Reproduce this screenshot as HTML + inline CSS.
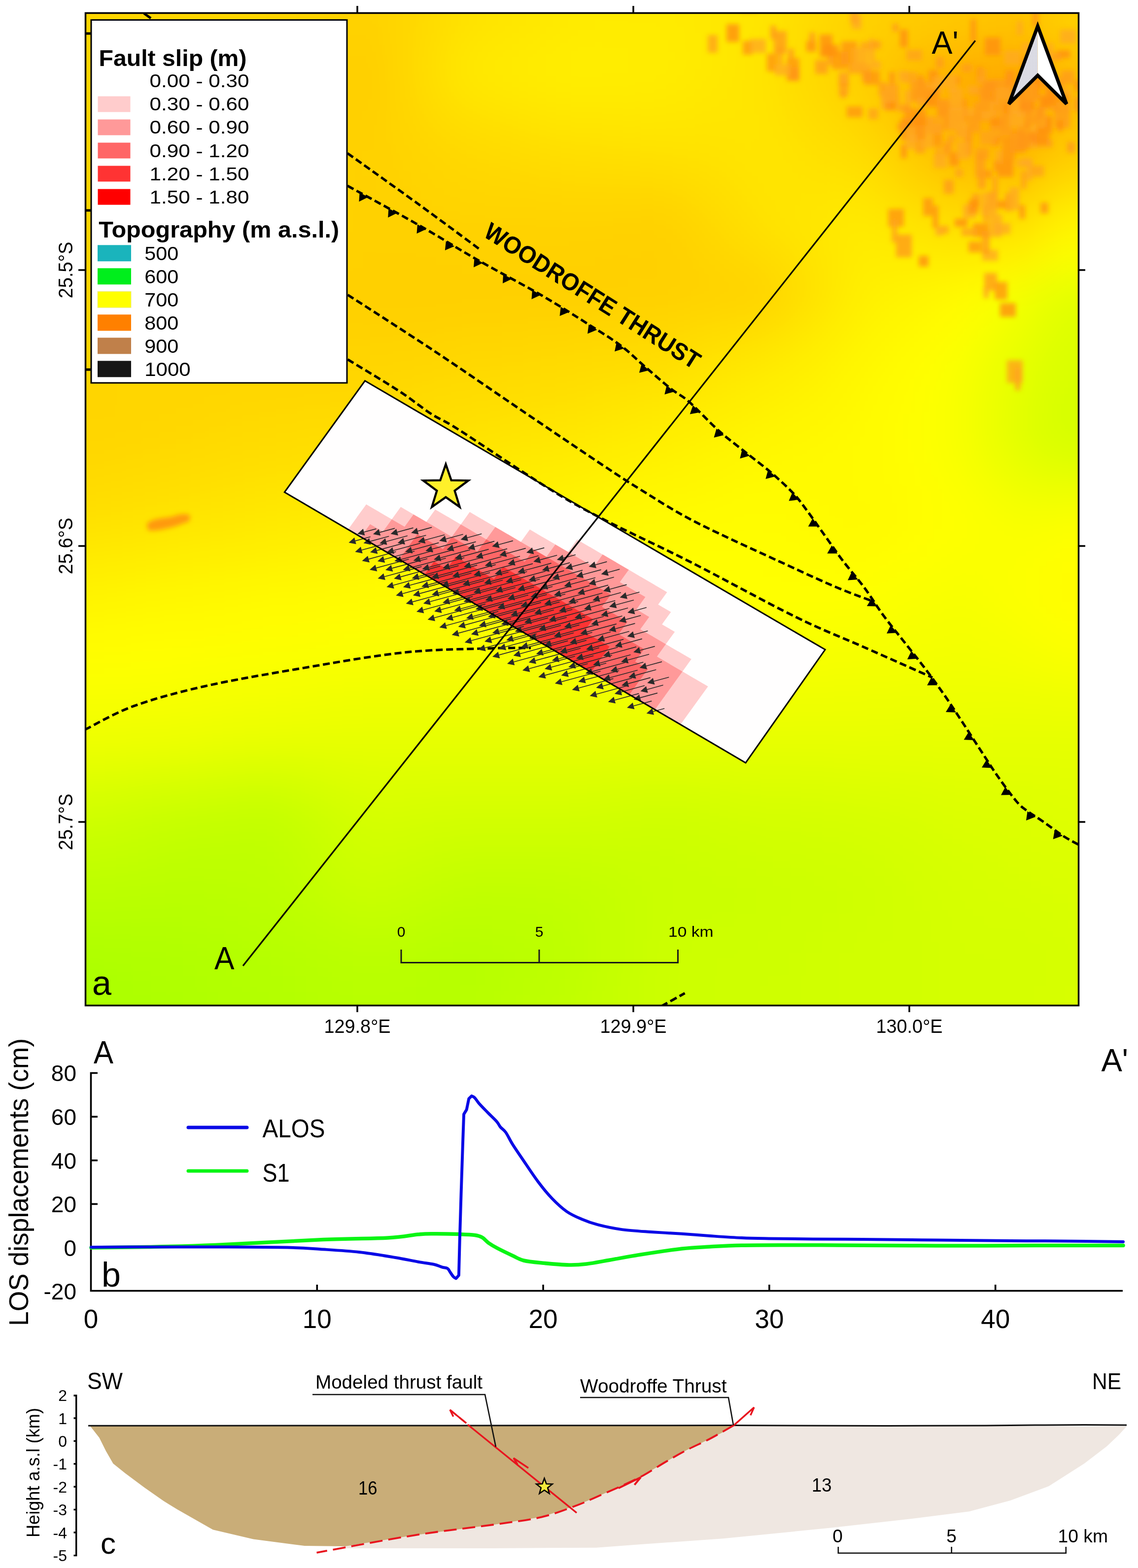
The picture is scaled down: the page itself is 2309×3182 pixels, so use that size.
<!DOCTYPE html>
<html><head><meta charset="utf-8"><title>Fault slip map and profiles</title>
<style>html,body{margin:0;padding:0;background:#fff;} svg{display:block;}</style>
</head><body>
<svg xmlns="http://www.w3.org/2000/svg" width="2309" height="3182" viewBox="0 0 2309 3182" font-family="'Liberation Sans', Arial, sans-serif">
<rect width="2309" height="3182" fill="#fff"/>
<defs>
<clipPath id="mapclip"><rect x="174" y="27" width="2014" height="2013"/></clipPath>
<filter id="topoblur" x="-10%" y="-10%" width="120%" height="120%"><feGaussianBlur stdDeviation="40"/></filter>
<filter id="blotblur" x="-20%" y="-20%" width="140%" height="140%"><feGaussianBlur stdDeviation="5"/></filter>
</defs>
<g clip-path="url(#mapclip)">
<rect x="172" y="25" width="2018" height="2017" fill="#ffec00"/>
<g filter="url(#topoblur)">
<rect x="37" y="-109" width="69" height="69" fill="#ffd600"/>
<rect x="105" y="-109" width="69" height="69" fill="#ffd600"/>
<rect x="172" y="-109" width="69" height="69" fill="#ffd600"/>
<rect x="239" y="-109" width="69" height="69" fill="#ffd600"/>
<rect x="307" y="-109" width="69" height="69" fill="#ffd600"/>
<rect x="374" y="-109" width="69" height="69" fill="#ffd600"/>
<rect x="441" y="-109" width="69" height="69" fill="#ffd600"/>
<rect x="508" y="-109" width="69" height="69" fill="#ffd600"/>
<rect x="576" y="-109" width="69" height="69" fill="#ffd400"/>
<rect x="643" y="-109" width="69" height="69" fill="#ffd300"/>
<rect x="710" y="-109" width="69" height="69" fill="#ffd100"/>
<rect x="777" y="-109" width="69" height="69" fill="#ffd600"/>
<rect x="845" y="-109" width="69" height="69" fill="#ffdc00"/>
<rect x="912" y="-109" width="69" height="69" fill="#ffe200"/>
<rect x="979" y="-109" width="69" height="69" fill="#ffe500"/>
<rect x="1046" y="-109" width="69" height="69" fill="#ffe700"/>
<rect x="1114" y="-109" width="69" height="69" fill="#ffea00"/>
<rect x="1181" y="-109" width="69" height="69" fill="#ffeb00"/>
<rect x="1248" y="-109" width="69" height="69" fill="#ffeb00"/>
<rect x="1316" y="-109" width="69" height="69" fill="#ffeb00"/>
<rect x="1383" y="-109" width="69" height="69" fill="#ffe900"/>
<rect x="1450" y="-109" width="69" height="69" fill="#ffe700"/>
<rect x="1517" y="-109" width="69" height="69" fill="#ffe500"/>
<rect x="1585" y="-109" width="69" height="69" fill="#ffde00"/>
<rect x="1652" y="-109" width="69" height="69" fill="#ffd700"/>
<rect x="1719" y="-109" width="69" height="69" fill="#ffd100"/>
<rect x="1786" y="-109" width="69" height="69" fill="#ffcd00"/>
<rect x="1854" y="-109" width="69" height="69" fill="#ffca00"/>
<rect x="1921" y="-109" width="69" height="69" fill="#ffc700"/>
<rect x="1988" y="-109" width="69" height="69" fill="#ffc400"/>
<rect x="2055" y="-109" width="69" height="69" fill="#ffc200"/>
<rect x="2123" y="-109" width="69" height="69" fill="#ffd000"/>
<rect x="2190" y="-109" width="69" height="69" fill="#ffd000"/>
<rect x="2257" y="-109" width="69" height="69" fill="#ffd000"/>
<rect x="37" y="-42" width="69" height="69" fill="#ffd600"/>
<rect x="105" y="-42" width="69" height="69" fill="#ffd600"/>
<rect x="172" y="-42" width="69" height="69" fill="#ffd600"/>
<rect x="239" y="-42" width="69" height="69" fill="#ffd600"/>
<rect x="307" y="-42" width="69" height="69" fill="#ffd600"/>
<rect x="374" y="-42" width="69" height="69" fill="#ffd600"/>
<rect x="441" y="-42" width="69" height="69" fill="#ffd600"/>
<rect x="508" y="-42" width="69" height="69" fill="#ffd600"/>
<rect x="576" y="-42" width="69" height="69" fill="#ffd400"/>
<rect x="643" y="-42" width="69" height="69" fill="#ffd300"/>
<rect x="710" y="-42" width="69" height="69" fill="#ffd100"/>
<rect x="777" y="-42" width="69" height="69" fill="#ffd600"/>
<rect x="845" y="-42" width="69" height="69" fill="#ffdc00"/>
<rect x="912" y="-42" width="69" height="69" fill="#ffe200"/>
<rect x="979" y="-42" width="69" height="69" fill="#ffe500"/>
<rect x="1046" y="-42" width="69" height="69" fill="#ffe700"/>
<rect x="1114" y="-42" width="69" height="69" fill="#ffea00"/>
<rect x="1181" y="-42" width="69" height="69" fill="#ffeb00"/>
<rect x="1248" y="-42" width="69" height="69" fill="#ffeb00"/>
<rect x="1316" y="-42" width="69" height="69" fill="#ffeb00"/>
<rect x="1383" y="-42" width="69" height="69" fill="#ffe900"/>
<rect x="1450" y="-42" width="69" height="69" fill="#ffe700"/>
<rect x="1517" y="-42" width="69" height="69" fill="#ffe500"/>
<rect x="1585" y="-42" width="69" height="69" fill="#ffde00"/>
<rect x="1652" y="-42" width="69" height="69" fill="#ffd700"/>
<rect x="1719" y="-42" width="69" height="69" fill="#ffd100"/>
<rect x="1786" y="-42" width="69" height="69" fill="#ffcd00"/>
<rect x="1854" y="-42" width="69" height="69" fill="#ffca00"/>
<rect x="1921" y="-42" width="69" height="69" fill="#ffc700"/>
<rect x="1988" y="-42" width="69" height="69" fill="#ffc400"/>
<rect x="2055" y="-42" width="69" height="69" fill="#ffc200"/>
<rect x="2123" y="-42" width="69" height="69" fill="#ffd000"/>
<rect x="2190" y="-42" width="69" height="69" fill="#ffd000"/>
<rect x="2257" y="-42" width="69" height="69" fill="#ffd000"/>
<rect x="37" y="25" width="69" height="69" fill="#ffd600"/>
<rect x="105" y="25" width="69" height="69" fill="#ffd600"/>
<rect x="172" y="25" width="69" height="69" fill="#ffd600"/>
<rect x="239" y="25" width="69" height="69" fill="#ffd600"/>
<rect x="307" y="25" width="69" height="69" fill="#ffd600"/>
<rect x="374" y="25" width="69" height="69" fill="#ffd600"/>
<rect x="441" y="25" width="69" height="69" fill="#ffd600"/>
<rect x="508" y="25" width="69" height="69" fill="#ffd600"/>
<rect x="576" y="25" width="69" height="69" fill="#ffd400"/>
<rect x="643" y="25" width="69" height="69" fill="#ffd300"/>
<rect x="710" y="25" width="69" height="69" fill="#ffd100"/>
<rect x="777" y="25" width="69" height="69" fill="#ffd600"/>
<rect x="845" y="25" width="69" height="69" fill="#ffdc00"/>
<rect x="912" y="25" width="69" height="69" fill="#ffe200"/>
<rect x="979" y="25" width="69" height="69" fill="#ffe500"/>
<rect x="1046" y="25" width="69" height="69" fill="#ffe700"/>
<rect x="1114" y="25" width="69" height="69" fill="#ffea00"/>
<rect x="1181" y="25" width="69" height="69" fill="#ffeb00"/>
<rect x="1248" y="25" width="69" height="69" fill="#ffeb00"/>
<rect x="1316" y="25" width="69" height="69" fill="#ffeb00"/>
<rect x="1383" y="25" width="69" height="69" fill="#ffe900"/>
<rect x="1450" y="25" width="69" height="69" fill="#ffe700"/>
<rect x="1517" y="25" width="69" height="69" fill="#ffe500"/>
<rect x="1585" y="25" width="69" height="69" fill="#ffde00"/>
<rect x="1652" y="25" width="69" height="69" fill="#ffd700"/>
<rect x="1719" y="25" width="69" height="69" fill="#ffd100"/>
<rect x="1786" y="25" width="69" height="69" fill="#ffcd00"/>
<rect x="1854" y="25" width="69" height="69" fill="#ffca00"/>
<rect x="1921" y="25" width="69" height="69" fill="#ffc700"/>
<rect x="1988" y="25" width="69" height="69" fill="#ffc400"/>
<rect x="2055" y="25" width="69" height="69" fill="#ffc200"/>
<rect x="2123" y="25" width="69" height="69" fill="#ffd000"/>
<rect x="2190" y="25" width="69" height="69" fill="#ffd000"/>
<rect x="2257" y="25" width="69" height="69" fill="#ffd000"/>
<rect x="37" y="92" width="69" height="69" fill="#ffd600"/>
<rect x="105" y="92" width="69" height="69" fill="#ffd600"/>
<rect x="172" y="92" width="69" height="69" fill="#ffd600"/>
<rect x="239" y="92" width="69" height="69" fill="#ffd600"/>
<rect x="307" y="92" width="69" height="69" fill="#ffd600"/>
<rect x="374" y="92" width="69" height="69" fill="#ffd600"/>
<rect x="441" y="92" width="69" height="69" fill="#ffd600"/>
<rect x="508" y="92" width="69" height="69" fill="#ffd500"/>
<rect x="576" y="92" width="69" height="69" fill="#ffd300"/>
<rect x="643" y="92" width="69" height="69" fill="#ffd000"/>
<rect x="710" y="92" width="69" height="69" fill="#ffce00"/>
<rect x="777" y="92" width="69" height="69" fill="#ffd600"/>
<rect x="845" y="92" width="69" height="69" fill="#ffdf00"/>
<rect x="912" y="92" width="69" height="69" fill="#ffe800"/>
<rect x="979" y="92" width="69" height="69" fill="#ffea00"/>
<rect x="1046" y="92" width="69" height="69" fill="#ffec00"/>
<rect x="1114" y="92" width="69" height="69" fill="#ffee00"/>
<rect x="1181" y="92" width="69" height="69" fill="#ffee00"/>
<rect x="1248" y="92" width="69" height="69" fill="#ffed00"/>
<rect x="1316" y="92" width="69" height="69" fill="#ffed00"/>
<rect x="1383" y="92" width="69" height="69" fill="#ffea00"/>
<rect x="1450" y="92" width="69" height="69" fill="#ffe700"/>
<rect x="1517" y="92" width="69" height="69" fill="#ffe300"/>
<rect x="1585" y="92" width="69" height="69" fill="#ffdc00"/>
<rect x="1652" y="92" width="69" height="69" fill="#ffd500"/>
<rect x="1719" y="92" width="69" height="69" fill="#ffcd00"/>
<rect x="1786" y="92" width="69" height="69" fill="#ffc300"/>
<rect x="1854" y="92" width="69" height="69" fill="#ffba00"/>
<rect x="1921" y="92" width="69" height="69" fill="#ffb100"/>
<rect x="1988" y="92" width="69" height="69" fill="#ffae00"/>
<rect x="2055" y="92" width="69" height="69" fill="#ffac00"/>
<rect x="2123" y="92" width="69" height="69" fill="#ffbf00"/>
<rect x="2190" y="92" width="69" height="69" fill="#ffbf00"/>
<rect x="2257" y="92" width="69" height="69" fill="#ffbf00"/>
<rect x="37" y="159" width="69" height="69" fill="#ffd600"/>
<rect x="105" y="159" width="69" height="69" fill="#ffd600"/>
<rect x="172" y="159" width="69" height="69" fill="#ffd600"/>
<rect x="239" y="159" width="69" height="69" fill="#ffd600"/>
<rect x="307" y="159" width="69" height="69" fill="#ffd600"/>
<rect x="374" y="159" width="69" height="69" fill="#ffd600"/>
<rect x="441" y="159" width="69" height="69" fill="#ffd500"/>
<rect x="508" y="159" width="69" height="69" fill="#ffd500"/>
<rect x="576" y="159" width="69" height="69" fill="#ffd300"/>
<rect x="643" y="159" width="69" height="69" fill="#ffd000"/>
<rect x="710" y="159" width="69" height="69" fill="#ffce00"/>
<rect x="777" y="159" width="69" height="69" fill="#ffd500"/>
<rect x="845" y="159" width="69" height="69" fill="#ffdd00"/>
<rect x="912" y="159" width="69" height="69" fill="#ffe500"/>
<rect x="979" y="159" width="69" height="69" fill="#ffe700"/>
<rect x="1046" y="159" width="69" height="69" fill="#ffe900"/>
<rect x="1114" y="159" width="69" height="69" fill="#ffeb00"/>
<rect x="1181" y="159" width="69" height="69" fill="#ffeb00"/>
<rect x="1248" y="159" width="69" height="69" fill="#ffeb00"/>
<rect x="1316" y="159" width="69" height="69" fill="#ffea00"/>
<rect x="1383" y="159" width="69" height="69" fill="#ffe800"/>
<rect x="1450" y="159" width="69" height="69" fill="#ffe600"/>
<rect x="1517" y="159" width="69" height="69" fill="#ffe400"/>
<rect x="1585" y="159" width="69" height="69" fill="#ffdd00"/>
<rect x="1652" y="159" width="69" height="69" fill="#ffd700"/>
<rect x="1719" y="159" width="69" height="69" fill="#ffd000"/>
<rect x="1786" y="159" width="69" height="69" fill="#ffc400"/>
<rect x="1854" y="159" width="69" height="69" fill="#ffb800"/>
<rect x="1921" y="159" width="69" height="69" fill="#ffac00"/>
<rect x="1988" y="159" width="69" height="69" fill="#ffaa00"/>
<rect x="2055" y="159" width="69" height="69" fill="#ffa800"/>
<rect x="2123" y="159" width="69" height="69" fill="#ffbd00"/>
<rect x="2190" y="159" width="69" height="69" fill="#ffbd00"/>
<rect x="2257" y="159" width="69" height="69" fill="#ffbd00"/>
<rect x="37" y="227" width="69" height="69" fill="#ffd500"/>
<rect x="105" y="227" width="69" height="69" fill="#ffd500"/>
<rect x="172" y="227" width="69" height="69" fill="#ffd500"/>
<rect x="239" y="227" width="69" height="69" fill="#ffd500"/>
<rect x="307" y="227" width="69" height="69" fill="#ffd500"/>
<rect x="374" y="227" width="69" height="69" fill="#ffd500"/>
<rect x="441" y="227" width="69" height="69" fill="#ffd500"/>
<rect x="508" y="227" width="69" height="69" fill="#ffd400"/>
<rect x="576" y="227" width="69" height="69" fill="#ffd300"/>
<rect x="643" y="227" width="69" height="69" fill="#ffd100"/>
<rect x="710" y="227" width="69" height="69" fill="#ffd000"/>
<rect x="777" y="227" width="69" height="69" fill="#ffd400"/>
<rect x="845" y="227" width="69" height="69" fill="#ffd900"/>
<rect x="912" y="227" width="69" height="69" fill="#ffdd00"/>
<rect x="979" y="227" width="69" height="69" fill="#ffdf00"/>
<rect x="1046" y="227" width="69" height="69" fill="#ffe200"/>
<rect x="1114" y="227" width="69" height="69" fill="#ffe400"/>
<rect x="1181" y="227" width="69" height="69" fill="#ffe400"/>
<rect x="1248" y="227" width="69" height="69" fill="#ffe500"/>
<rect x="1316" y="227" width="69" height="69" fill="#ffe600"/>
<rect x="1383" y="227" width="69" height="69" fill="#ffe500"/>
<rect x="1450" y="227" width="69" height="69" fill="#ffe500"/>
<rect x="1517" y="227" width="69" height="69" fill="#ffe500"/>
<rect x="1585" y="227" width="69" height="69" fill="#ffe000"/>
<rect x="1652" y="227" width="69" height="69" fill="#ffdc00"/>
<rect x="1719" y="227" width="69" height="69" fill="#ffd700"/>
<rect x="1786" y="227" width="69" height="69" fill="#ffca00"/>
<rect x="1854" y="227" width="69" height="69" fill="#ffbe00"/>
<rect x="1921" y="227" width="69" height="69" fill="#ffb200"/>
<rect x="1988" y="227" width="69" height="69" fill="#ffb000"/>
<rect x="2055" y="227" width="69" height="69" fill="#ffaf00"/>
<rect x="2123" y="227" width="69" height="69" fill="#ffc300"/>
<rect x="2190" y="227" width="69" height="69" fill="#ffc300"/>
<rect x="2257" y="227" width="69" height="69" fill="#ffc300"/>
<rect x="37" y="294" width="69" height="69" fill="#ffd500"/>
<rect x="105" y="294" width="69" height="69" fill="#ffd500"/>
<rect x="172" y="294" width="69" height="69" fill="#ffd500"/>
<rect x="239" y="294" width="69" height="69" fill="#ffd500"/>
<rect x="307" y="294" width="69" height="69" fill="#ffd500"/>
<rect x="374" y="294" width="69" height="69" fill="#ffd500"/>
<rect x="441" y="294" width="69" height="69" fill="#ffd400"/>
<rect x="508" y="294" width="69" height="69" fill="#ffd400"/>
<rect x="576" y="294" width="69" height="69" fill="#ffd300"/>
<rect x="643" y="294" width="69" height="69" fill="#ffd200"/>
<rect x="710" y="294" width="69" height="69" fill="#ffd100"/>
<rect x="777" y="294" width="69" height="69" fill="#ffd300"/>
<rect x="845" y="294" width="69" height="69" fill="#ffd500"/>
<rect x="912" y="294" width="69" height="69" fill="#ffd800"/>
<rect x="979" y="294" width="69" height="69" fill="#ffd900"/>
<rect x="1046" y="294" width="69" height="69" fill="#ffdb00"/>
<rect x="1114" y="294" width="69" height="69" fill="#ffdd00"/>
<rect x="1181" y="294" width="69" height="69" fill="#ffde00"/>
<rect x="1248" y="294" width="69" height="69" fill="#ffdf00"/>
<rect x="1316" y="294" width="69" height="69" fill="#ffe000"/>
<rect x="1383" y="294" width="69" height="69" fill="#ffe100"/>
<rect x="1450" y="294" width="69" height="69" fill="#ffe300"/>
<rect x="1517" y="294" width="69" height="69" fill="#ffe500"/>
<rect x="1585" y="294" width="69" height="69" fill="#ffe300"/>
<rect x="1652" y="294" width="69" height="69" fill="#ffe000"/>
<rect x="1719" y="294" width="69" height="69" fill="#ffde00"/>
<rect x="1786" y="294" width="69" height="69" fill="#ffd200"/>
<rect x="1854" y="294" width="69" height="69" fill="#ffc700"/>
<rect x="1921" y="294" width="69" height="69" fill="#ffbc00"/>
<rect x="1988" y="294" width="69" height="69" fill="#ffbc00"/>
<rect x="2055" y="294" width="69" height="69" fill="#ffbb00"/>
<rect x="2123" y="294" width="69" height="69" fill="#ffcf00"/>
<rect x="2190" y="294" width="69" height="69" fill="#ffcf00"/>
<rect x="2257" y="294" width="69" height="69" fill="#ffcf00"/>
<rect x="37" y="361" width="69" height="69" fill="#ffd500"/>
<rect x="105" y="361" width="69" height="69" fill="#ffd500"/>
<rect x="172" y="361" width="69" height="69" fill="#ffd500"/>
<rect x="239" y="361" width="69" height="69" fill="#ffd500"/>
<rect x="307" y="361" width="69" height="69" fill="#ffd500"/>
<rect x="374" y="361" width="69" height="69" fill="#ffd500"/>
<rect x="441" y="361" width="69" height="69" fill="#ffd400"/>
<rect x="508" y="361" width="69" height="69" fill="#ffd400"/>
<rect x="576" y="361" width="69" height="69" fill="#ffd300"/>
<rect x="643" y="361" width="69" height="69" fill="#ffd200"/>
<rect x="710" y="361" width="69" height="69" fill="#ffd100"/>
<rect x="777" y="361" width="69" height="69" fill="#ffd200"/>
<rect x="845" y="361" width="69" height="69" fill="#ffd400"/>
<rect x="912" y="361" width="69" height="69" fill="#ffd500"/>
<rect x="979" y="361" width="69" height="69" fill="#ffd600"/>
<rect x="1046" y="361" width="69" height="69" fill="#ffd600"/>
<rect x="1114" y="361" width="69" height="69" fill="#ffd700"/>
<rect x="1181" y="361" width="69" height="69" fill="#ffd700"/>
<rect x="1248" y="361" width="69" height="69" fill="#ffd700"/>
<rect x="1316" y="361" width="69" height="69" fill="#ffd700"/>
<rect x="1383" y="361" width="69" height="69" fill="#ffdb00"/>
<rect x="1450" y="361" width="69" height="69" fill="#ffe000"/>
<rect x="1517" y="361" width="69" height="69" fill="#ffe400"/>
<rect x="1585" y="361" width="69" height="69" fill="#ffe400"/>
<rect x="1652" y="361" width="69" height="69" fill="#ffe500"/>
<rect x="1719" y="361" width="69" height="69" fill="#ffe500"/>
<rect x="1786" y="361" width="69" height="69" fill="#ffdd00"/>
<rect x="1854" y="361" width="69" height="69" fill="#ffd500"/>
<rect x="1921" y="361" width="69" height="69" fill="#ffcd00"/>
<rect x="1988" y="361" width="69" height="69" fill="#ffce00"/>
<rect x="2055" y="361" width="69" height="69" fill="#ffcf00"/>
<rect x="2123" y="361" width="69" height="69" fill="#ffe300"/>
<rect x="2190" y="361" width="69" height="69" fill="#ffe300"/>
<rect x="2257" y="361" width="69" height="69" fill="#ffe300"/>
<rect x="37" y="428" width="69" height="69" fill="#ffd500"/>
<rect x="105" y="428" width="69" height="69" fill="#ffd500"/>
<rect x="172" y="428" width="69" height="69" fill="#ffd500"/>
<rect x="239" y="428" width="69" height="69" fill="#ffd500"/>
<rect x="307" y="428" width="69" height="69" fill="#ffd500"/>
<rect x="374" y="428" width="69" height="69" fill="#ffd500"/>
<rect x="441" y="428" width="69" height="69" fill="#ffd400"/>
<rect x="508" y="428" width="69" height="69" fill="#ffd400"/>
<rect x="576" y="428" width="69" height="69" fill="#ffd300"/>
<rect x="643" y="428" width="69" height="69" fill="#ffd200"/>
<rect x="710" y="428" width="69" height="69" fill="#ffd100"/>
<rect x="777" y="428" width="69" height="69" fill="#ffd100"/>
<rect x="845" y="428" width="69" height="69" fill="#ffd200"/>
<rect x="912" y="428" width="69" height="69" fill="#ffd200"/>
<rect x="979" y="428" width="69" height="69" fill="#ffd200"/>
<rect x="1046" y="428" width="69" height="69" fill="#ffd200"/>
<rect x="1114" y="428" width="69" height="69" fill="#ffd200"/>
<rect x="1181" y="428" width="69" height="69" fill="#ffd200"/>
<rect x="1248" y="428" width="69" height="69" fill="#ffd100"/>
<rect x="1316" y="428" width="69" height="69" fill="#ffd000"/>
<rect x="1383" y="428" width="69" height="69" fill="#ffd600"/>
<rect x="1450" y="428" width="69" height="69" fill="#ffdc00"/>
<rect x="1517" y="428" width="69" height="69" fill="#ffe200"/>
<rect x="1585" y="428" width="69" height="69" fill="#ffe500"/>
<rect x="1652" y="428" width="69" height="69" fill="#ffe800"/>
<rect x="1719" y="428" width="69" height="69" fill="#ffeb00"/>
<rect x="1786" y="428" width="69" height="69" fill="#ffe600"/>
<rect x="1854" y="428" width="69" height="69" fill="#ffe200"/>
<rect x="1921" y="428" width="69" height="69" fill="#ffde00"/>
<rect x="1988" y="428" width="69" height="69" fill="#ffe000"/>
<rect x="2055" y="428" width="69" height="69" fill="#ffe200"/>
<rect x="2123" y="428" width="69" height="69" fill="#fff500"/>
<rect x="2190" y="428" width="69" height="69" fill="#fff500"/>
<rect x="2257" y="428" width="69" height="69" fill="#fff500"/>
<rect x="37" y="496" width="69" height="69" fill="#ffd500"/>
<rect x="105" y="496" width="69" height="69" fill="#ffd500"/>
<rect x="172" y="496" width="69" height="69" fill="#ffd500"/>
<rect x="239" y="496" width="69" height="69" fill="#ffd500"/>
<rect x="307" y="496" width="69" height="69" fill="#ffd500"/>
<rect x="374" y="496" width="69" height="69" fill="#ffd500"/>
<rect x="441" y="496" width="69" height="69" fill="#ffd400"/>
<rect x="508" y="496" width="69" height="69" fill="#ffd300"/>
<rect x="576" y="496" width="69" height="69" fill="#ffd200"/>
<rect x="643" y="496" width="69" height="69" fill="#ffd100"/>
<rect x="710" y="496" width="69" height="69" fill="#ffd000"/>
<rect x="777" y="496" width="69" height="69" fill="#ffd000"/>
<rect x="845" y="496" width="69" height="69" fill="#ffd000"/>
<rect x="912" y="496" width="69" height="69" fill="#ffd100"/>
<rect x="979" y="496" width="69" height="69" fill="#ffd100"/>
<rect x="1046" y="496" width="69" height="69" fill="#ffd100"/>
<rect x="1114" y="496" width="69" height="69" fill="#ffd100"/>
<rect x="1181" y="496" width="69" height="69" fill="#ffd000"/>
<rect x="1248" y="496" width="69" height="69" fill="#ffd000"/>
<rect x="1316" y="496" width="69" height="69" fill="#ffd000"/>
<rect x="1383" y="496" width="69" height="69" fill="#ffd300"/>
<rect x="1450" y="496" width="69" height="69" fill="#ffd700"/>
<rect x="1517" y="496" width="69" height="69" fill="#ffda00"/>
<rect x="1585" y="496" width="69" height="69" fill="#ffe100"/>
<rect x="1652" y="496" width="69" height="69" fill="#ffe700"/>
<rect x="1719" y="496" width="69" height="69" fill="#ffed00"/>
<rect x="1786" y="496" width="69" height="69" fill="#ffed00"/>
<rect x="1854" y="496" width="69" height="69" fill="#ffec00"/>
<rect x="1921" y="496" width="69" height="69" fill="#ffec00"/>
<rect x="1988" y="496" width="69" height="69" fill="#fff000"/>
<rect x="2055" y="496" width="69" height="69" fill="#fff400"/>
<rect x="2123" y="496" width="69" height="69" fill="#fbff00"/>
<rect x="2190" y="496" width="69" height="69" fill="#fbff00"/>
<rect x="2257" y="496" width="69" height="69" fill="#fbff00"/>
<rect x="37" y="563" width="69" height="69" fill="#ffd500"/>
<rect x="105" y="563" width="69" height="69" fill="#ffd500"/>
<rect x="172" y="563" width="69" height="69" fill="#ffd500"/>
<rect x="239" y="563" width="69" height="69" fill="#ffd500"/>
<rect x="307" y="563" width="69" height="69" fill="#ffd500"/>
<rect x="374" y="563" width="69" height="69" fill="#ffd400"/>
<rect x="441" y="563" width="69" height="69" fill="#ffd400"/>
<rect x="508" y="563" width="69" height="69" fill="#ffd300"/>
<rect x="576" y="563" width="69" height="69" fill="#ffd100"/>
<rect x="643" y="563" width="69" height="69" fill="#ffd000"/>
<rect x="710" y="563" width="69" height="69" fill="#ffcf00"/>
<rect x="777" y="563" width="69" height="69" fill="#ffcf00"/>
<rect x="845" y="563" width="69" height="69" fill="#ffcf00"/>
<rect x="912" y="563" width="69" height="69" fill="#ffcf00"/>
<rect x="979" y="563" width="69" height="69" fill="#ffcf00"/>
<rect x="1046" y="563" width="69" height="69" fill="#ffcf00"/>
<rect x="1114" y="563" width="69" height="69" fill="#ffcf00"/>
<rect x="1181" y="563" width="69" height="69" fill="#ffcf00"/>
<rect x="1248" y="563" width="69" height="69" fill="#ffd000"/>
<rect x="1316" y="563" width="69" height="69" fill="#ffd000"/>
<rect x="1383" y="563" width="69" height="69" fill="#ffd100"/>
<rect x="1450" y="563" width="69" height="69" fill="#ffd200"/>
<rect x="1517" y="563" width="69" height="69" fill="#ffd300"/>
<rect x="1585" y="563" width="69" height="69" fill="#ffdd00"/>
<rect x="1652" y="563" width="69" height="69" fill="#ffe600"/>
<rect x="1719" y="563" width="69" height="69" fill="#fff000"/>
<rect x="1786" y="563" width="69" height="69" fill="#fff300"/>
<rect x="1854" y="563" width="69" height="69" fill="#fff600"/>
<rect x="1921" y="563" width="69" height="69" fill="#fffa00"/>
<rect x="1988" y="563" width="69" height="69" fill="#fdff00"/>
<rect x="2055" y="563" width="69" height="69" fill="#f1ff00"/>
<rect x="2123" y="563" width="69" height="69" fill="#e3ff00"/>
<rect x="2190" y="563" width="69" height="69" fill="#e3ff00"/>
<rect x="2257" y="563" width="69" height="69" fill="#e3ff00"/>
<rect x="37" y="630" width="69" height="69" fill="#ffd500"/>
<rect x="105" y="630" width="69" height="69" fill="#ffd500"/>
<rect x="172" y="630" width="69" height="69" fill="#ffd500"/>
<rect x="239" y="630" width="69" height="69" fill="#ffd500"/>
<rect x="307" y="630" width="69" height="69" fill="#ffd500"/>
<rect x="374" y="630" width="69" height="69" fill="#ffd500"/>
<rect x="441" y="630" width="69" height="69" fill="#ffd400"/>
<rect x="508" y="630" width="69" height="69" fill="#ffd400"/>
<rect x="576" y="630" width="69" height="69" fill="#ffd300"/>
<rect x="643" y="630" width="69" height="69" fill="#ffd200"/>
<rect x="710" y="630" width="69" height="69" fill="#ffd200"/>
<rect x="777" y="630" width="69" height="69" fill="#ffd200"/>
<rect x="845" y="630" width="69" height="69" fill="#ffd200"/>
<rect x="912" y="630" width="69" height="69" fill="#ffd300"/>
<rect x="979" y="630" width="69" height="69" fill="#ffd300"/>
<rect x="1046" y="630" width="69" height="69" fill="#ffd400"/>
<rect x="1114" y="630" width="69" height="69" fill="#ffd400"/>
<rect x="1181" y="630" width="69" height="69" fill="#ffd500"/>
<rect x="1248" y="630" width="69" height="69" fill="#ffd600"/>
<rect x="1316" y="630" width="69" height="69" fill="#ffd600"/>
<rect x="1383" y="630" width="69" height="69" fill="#ffd900"/>
<rect x="1450" y="630" width="69" height="69" fill="#ffdb00"/>
<rect x="1517" y="630" width="69" height="69" fill="#ffdd00"/>
<rect x="1585" y="630" width="69" height="69" fill="#ffe400"/>
<rect x="1652" y="630" width="69" height="69" fill="#ffec00"/>
<rect x="1719" y="630" width="69" height="69" fill="#fff300"/>
<rect x="1786" y="630" width="69" height="69" fill="#fff700"/>
<rect x="1854" y="630" width="69" height="69" fill="#fffa00"/>
<rect x="1921" y="630" width="69" height="69" fill="#fffe00"/>
<rect x="1988" y="630" width="69" height="69" fill="#f5ff00"/>
<rect x="2055" y="630" width="69" height="69" fill="#eaff00"/>
<rect x="2123" y="630" width="69" height="69" fill="#deff00"/>
<rect x="2190" y="630" width="69" height="69" fill="#deff00"/>
<rect x="2257" y="630" width="69" height="69" fill="#deff00"/>
<rect x="37" y="697" width="69" height="69" fill="#ffd500"/>
<rect x="105" y="697" width="69" height="69" fill="#ffd500"/>
<rect x="172" y="697" width="69" height="69" fill="#ffd500"/>
<rect x="239" y="697" width="69" height="69" fill="#ffd500"/>
<rect x="307" y="697" width="69" height="69" fill="#ffd500"/>
<rect x="374" y="697" width="69" height="69" fill="#ffd500"/>
<rect x="441" y="697" width="69" height="69" fill="#ffd500"/>
<rect x="508" y="697" width="69" height="69" fill="#ffd500"/>
<rect x="576" y="697" width="69" height="69" fill="#ffd500"/>
<rect x="643" y="697" width="69" height="69" fill="#ffd400"/>
<rect x="710" y="697" width="69" height="69" fill="#ffd400"/>
<rect x="777" y="697" width="69" height="69" fill="#ffd500"/>
<rect x="845" y="697" width="69" height="69" fill="#ffd600"/>
<rect x="912" y="697" width="69" height="69" fill="#ffd800"/>
<rect x="979" y="697" width="69" height="69" fill="#ffd800"/>
<rect x="1046" y="697" width="69" height="69" fill="#ffd900"/>
<rect x="1114" y="697" width="69" height="69" fill="#ffda00"/>
<rect x="1181" y="697" width="69" height="69" fill="#ffdb00"/>
<rect x="1248" y="697" width="69" height="69" fill="#ffdc00"/>
<rect x="1316" y="697" width="69" height="69" fill="#ffdd00"/>
<rect x="1383" y="697" width="69" height="69" fill="#ffe100"/>
<rect x="1450" y="697" width="69" height="69" fill="#ffe400"/>
<rect x="1517" y="697" width="69" height="69" fill="#ffe800"/>
<rect x="1585" y="697" width="69" height="69" fill="#ffed00"/>
<rect x="1652" y="697" width="69" height="69" fill="#fff200"/>
<rect x="1719" y="697" width="69" height="69" fill="#fff700"/>
<rect x="1786" y="697" width="69" height="69" fill="#fffa00"/>
<rect x="1854" y="697" width="69" height="69" fill="#fffe00"/>
<rect x="1921" y="697" width="69" height="69" fill="#f9ff00"/>
<rect x="1988" y="697" width="69" height="69" fill="#eeff00"/>
<rect x="2055" y="697" width="69" height="69" fill="#e4ff00"/>
<rect x="2123" y="697" width="69" height="69" fill="#daff00"/>
<rect x="2190" y="697" width="69" height="69" fill="#daff00"/>
<rect x="2257" y="697" width="69" height="69" fill="#daff00"/>
<rect x="37" y="765" width="69" height="69" fill="#ffd500"/>
<rect x="105" y="765" width="69" height="69" fill="#ffd500"/>
<rect x="172" y="765" width="69" height="69" fill="#ffd500"/>
<rect x="239" y="765" width="69" height="69" fill="#ffd600"/>
<rect x="307" y="765" width="69" height="69" fill="#ffd600"/>
<rect x="374" y="765" width="69" height="69" fill="#ffd600"/>
<rect x="441" y="765" width="69" height="69" fill="#ffd700"/>
<rect x="508" y="765" width="69" height="69" fill="#ffd700"/>
<rect x="576" y="765" width="69" height="69" fill="#ffd700"/>
<rect x="643" y="765" width="69" height="69" fill="#ffd800"/>
<rect x="710" y="765" width="69" height="69" fill="#ffd800"/>
<rect x="777" y="765" width="69" height="69" fill="#ffd900"/>
<rect x="845" y="765" width="69" height="69" fill="#ffdb00"/>
<rect x="912" y="765" width="69" height="69" fill="#ffdc00"/>
<rect x="979" y="765" width="69" height="69" fill="#ffdd00"/>
<rect x="1046" y="765" width="69" height="69" fill="#ffde00"/>
<rect x="1114" y="765" width="69" height="69" fill="#ffdf00"/>
<rect x="1181" y="765" width="69" height="69" fill="#ffe100"/>
<rect x="1248" y="765" width="69" height="69" fill="#ffe300"/>
<rect x="1316" y="765" width="69" height="69" fill="#ffe500"/>
<rect x="1383" y="765" width="69" height="69" fill="#ffe800"/>
<rect x="1450" y="765" width="69" height="69" fill="#ffeb00"/>
<rect x="1517" y="765" width="69" height="69" fill="#ffef00"/>
<rect x="1585" y="765" width="69" height="69" fill="#fff200"/>
<rect x="1652" y="765" width="69" height="69" fill="#fff500"/>
<rect x="1719" y="765" width="69" height="69" fill="#fff900"/>
<rect x="1786" y="765" width="69" height="69" fill="#fffc00"/>
<rect x="1854" y="765" width="69" height="69" fill="#feff00"/>
<rect x="1921" y="765" width="69" height="69" fill="#f7ff00"/>
<rect x="1988" y="765" width="69" height="69" fill="#ecff00"/>
<rect x="2055" y="765" width="69" height="69" fill="#e1ff00"/>
<rect x="2123" y="765" width="69" height="69" fill="#d7ff00"/>
<rect x="2190" y="765" width="69" height="69" fill="#d7ff00"/>
<rect x="2257" y="765" width="69" height="69" fill="#d7ff00"/>
<rect x="37" y="832" width="69" height="69" fill="#ffd500"/>
<rect x="105" y="832" width="69" height="69" fill="#ffd500"/>
<rect x="172" y="832" width="69" height="69" fill="#ffd500"/>
<rect x="239" y="832" width="69" height="69" fill="#ffd600"/>
<rect x="307" y="832" width="69" height="69" fill="#ffd700"/>
<rect x="374" y="832" width="69" height="69" fill="#ffd800"/>
<rect x="441" y="832" width="69" height="69" fill="#ffd900"/>
<rect x="508" y="832" width="69" height="69" fill="#ffda00"/>
<rect x="576" y="832" width="69" height="69" fill="#ffdb00"/>
<rect x="643" y="832" width="69" height="69" fill="#ffdb00"/>
<rect x="710" y="832" width="69" height="69" fill="#ffdc00"/>
<rect x="777" y="832" width="69" height="69" fill="#ffdd00"/>
<rect x="845" y="832" width="69" height="69" fill="#ffdf00"/>
<rect x="912" y="832" width="69" height="69" fill="#ffe100"/>
<rect x="979" y="832" width="69" height="69" fill="#ffe200"/>
<rect x="1046" y="832" width="69" height="69" fill="#ffe400"/>
<rect x="1114" y="832" width="69" height="69" fill="#ffe500"/>
<rect x="1181" y="832" width="69" height="69" fill="#ffe700"/>
<rect x="1248" y="832" width="69" height="69" fill="#ffea00"/>
<rect x="1316" y="832" width="69" height="69" fill="#ffec00"/>
<rect x="1383" y="832" width="69" height="69" fill="#ffef00"/>
<rect x="1450" y="832" width="69" height="69" fill="#fff200"/>
<rect x="1517" y="832" width="69" height="69" fill="#fff400"/>
<rect x="1585" y="832" width="69" height="69" fill="#fff600"/>
<rect x="1652" y="832" width="69" height="69" fill="#fff800"/>
<rect x="1719" y="832" width="69" height="69" fill="#fffa00"/>
<rect x="1786" y="832" width="69" height="69" fill="#fffd00"/>
<rect x="1854" y="832" width="69" height="69" fill="#fdff00"/>
<rect x="1921" y="832" width="69" height="69" fill="#f7ff00"/>
<rect x="1988" y="832" width="69" height="69" fill="#eaff00"/>
<rect x="2055" y="832" width="69" height="69" fill="#deff00"/>
<rect x="2123" y="832" width="69" height="69" fill="#d6ff00"/>
<rect x="2190" y="832" width="69" height="69" fill="#d6ff00"/>
<rect x="2257" y="832" width="69" height="69" fill="#d6ff00"/>
<rect x="37" y="899" width="69" height="69" fill="#ffd800"/>
<rect x="105" y="899" width="69" height="69" fill="#ffd800"/>
<rect x="172" y="899" width="69" height="69" fill="#ffd800"/>
<rect x="239" y="899" width="69" height="69" fill="#ffd900"/>
<rect x="307" y="899" width="69" height="69" fill="#ffda00"/>
<rect x="374" y="899" width="69" height="69" fill="#ffdb00"/>
<rect x="441" y="899" width="69" height="69" fill="#ffdd00"/>
<rect x="508" y="899" width="69" height="69" fill="#ffde00"/>
<rect x="576" y="899" width="69" height="69" fill="#ffdf00"/>
<rect x="643" y="899" width="69" height="69" fill="#ffe000"/>
<rect x="710" y="899" width="69" height="69" fill="#ffe100"/>
<rect x="777" y="899" width="69" height="69" fill="#ffe300"/>
<rect x="845" y="899" width="69" height="69" fill="#ffe500"/>
<rect x="912" y="899" width="69" height="69" fill="#ffe600"/>
<rect x="979" y="899" width="69" height="69" fill="#ffe800"/>
<rect x="1046" y="899" width="69" height="69" fill="#ffea00"/>
<rect x="1114" y="899" width="69" height="69" fill="#ffeb00"/>
<rect x="1181" y="899" width="69" height="69" fill="#ffee00"/>
<rect x="1248" y="899" width="69" height="69" fill="#fff000"/>
<rect x="1316" y="899" width="69" height="69" fill="#fff200"/>
<rect x="1383" y="899" width="69" height="69" fill="#fff400"/>
<rect x="1450" y="899" width="69" height="69" fill="#fff600"/>
<rect x="1517" y="899" width="69" height="69" fill="#fff800"/>
<rect x="1585" y="899" width="69" height="69" fill="#fff900"/>
<rect x="1652" y="899" width="69" height="69" fill="#fffa00"/>
<rect x="1719" y="899" width="69" height="69" fill="#fffb00"/>
<rect x="1786" y="899" width="69" height="69" fill="#fffd00"/>
<rect x="1854" y="899" width="69" height="69" fill="#feff00"/>
<rect x="1921" y="899" width="69" height="69" fill="#f8ff00"/>
<rect x="1988" y="899" width="69" height="69" fill="#eeff00"/>
<rect x="2055" y="899" width="69" height="69" fill="#e3ff00"/>
<rect x="2123" y="899" width="69" height="69" fill="#ddff00"/>
<rect x="2190" y="899" width="69" height="69" fill="#ddff00"/>
<rect x="2257" y="899" width="69" height="69" fill="#ddff00"/>
<rect x="37" y="966" width="69" height="69" fill="#ffdc00"/>
<rect x="105" y="966" width="69" height="69" fill="#ffdc00"/>
<rect x="172" y="966" width="69" height="69" fill="#ffdc00"/>
<rect x="239" y="966" width="69" height="69" fill="#ffde00"/>
<rect x="307" y="966" width="69" height="69" fill="#ffdf00"/>
<rect x="374" y="966" width="69" height="69" fill="#ffe100"/>
<rect x="441" y="966" width="69" height="69" fill="#ffe200"/>
<rect x="508" y="966" width="69" height="69" fill="#ffe400"/>
<rect x="576" y="966" width="69" height="69" fill="#ffe500"/>
<rect x="643" y="966" width="69" height="69" fill="#ffe700"/>
<rect x="710" y="966" width="69" height="69" fill="#ffe800"/>
<rect x="777" y="966" width="69" height="69" fill="#ffea00"/>
<rect x="845" y="966" width="69" height="69" fill="#ffeb00"/>
<rect x="912" y="966" width="69" height="69" fill="#ffed00"/>
<rect x="979" y="966" width="69" height="69" fill="#ffef00"/>
<rect x="1046" y="966" width="69" height="69" fill="#fff100"/>
<rect x="1114" y="966" width="69" height="69" fill="#fff200"/>
<rect x="1181" y="966" width="69" height="69" fill="#fff400"/>
<rect x="1248" y="966" width="69" height="69" fill="#fff600"/>
<rect x="1316" y="966" width="69" height="69" fill="#fff700"/>
<rect x="1383" y="966" width="69" height="69" fill="#fff800"/>
<rect x="1450" y="966" width="69" height="69" fill="#fffa00"/>
<rect x="1517" y="966" width="69" height="69" fill="#fffb00"/>
<rect x="1585" y="966" width="69" height="69" fill="#fffa00"/>
<rect x="1652" y="966" width="69" height="69" fill="#fffa00"/>
<rect x="1719" y="966" width="69" height="69" fill="#fffa00"/>
<rect x="1786" y="966" width="69" height="69" fill="#fffc00"/>
<rect x="1854" y="966" width="69" height="69" fill="#fffe00"/>
<rect x="1921" y="966" width="69" height="69" fill="#fcff00"/>
<rect x="1988" y="966" width="69" height="69" fill="#f6ff00"/>
<rect x="2055" y="966" width="69" height="69" fill="#efff00"/>
<rect x="2123" y="966" width="69" height="69" fill="#efff00"/>
<rect x="2190" y="966" width="69" height="69" fill="#efff00"/>
<rect x="2257" y="966" width="69" height="69" fill="#efff00"/>
<rect x="37" y="1034" width="69" height="69" fill="#ffe200"/>
<rect x="105" y="1034" width="69" height="69" fill="#ffe200"/>
<rect x="172" y="1034" width="69" height="69" fill="#ffe200"/>
<rect x="239" y="1034" width="69" height="69" fill="#ffe400"/>
<rect x="307" y="1034" width="69" height="69" fill="#ffe500"/>
<rect x="374" y="1034" width="69" height="69" fill="#ffe700"/>
<rect x="441" y="1034" width="69" height="69" fill="#ffe800"/>
<rect x="508" y="1034" width="69" height="69" fill="#ffea00"/>
<rect x="576" y="1034" width="69" height="69" fill="#ffeb00"/>
<rect x="643" y="1034" width="69" height="69" fill="#ffed00"/>
<rect x="710" y="1034" width="69" height="69" fill="#ffef00"/>
<rect x="777" y="1034" width="69" height="69" fill="#fff000"/>
<rect x="845" y="1034" width="69" height="69" fill="#fff200"/>
<rect x="912" y="1034" width="69" height="69" fill="#fff300"/>
<rect x="979" y="1034" width="69" height="69" fill="#fff500"/>
<rect x="1046" y="1034" width="69" height="69" fill="#fff600"/>
<rect x="1114" y="1034" width="69" height="69" fill="#fff800"/>
<rect x="1181" y="1034" width="69" height="69" fill="#fff900"/>
<rect x="1248" y="1034" width="69" height="69" fill="#fffa00"/>
<rect x="1316" y="1034" width="69" height="69" fill="#fffc00"/>
<rect x="1383" y="1034" width="69" height="69" fill="#fffc00"/>
<rect x="1450" y="1034" width="69" height="69" fill="#fffc00"/>
<rect x="1517" y="1034" width="69" height="69" fill="#fffd00"/>
<rect x="1585" y="1034" width="69" height="69" fill="#fffc00"/>
<rect x="1652" y="1034" width="69" height="69" fill="#fffa00"/>
<rect x="1719" y="1034" width="69" height="69" fill="#fff900"/>
<rect x="1786" y="1034" width="69" height="69" fill="#fffb00"/>
<rect x="1854" y="1034" width="69" height="69" fill="#fffe00"/>
<rect x="1921" y="1034" width="69" height="69" fill="#feff00"/>
<rect x="1988" y="1034" width="69" height="69" fill="#fbff00"/>
<rect x="2055" y="1034" width="69" height="69" fill="#f9ff00"/>
<rect x="2123" y="1034" width="69" height="69" fill="#fdff00"/>
<rect x="2190" y="1034" width="69" height="69" fill="#fdff00"/>
<rect x="2257" y="1034" width="69" height="69" fill="#fdff00"/>
<rect x="37" y="1101" width="69" height="69" fill="#ffeb00"/>
<rect x="105" y="1101" width="69" height="69" fill="#ffeb00"/>
<rect x="172" y="1101" width="69" height="69" fill="#ffeb00"/>
<rect x="239" y="1101" width="69" height="69" fill="#ffec00"/>
<rect x="307" y="1101" width="69" height="69" fill="#ffee00"/>
<rect x="374" y="1101" width="69" height="69" fill="#ffef00"/>
<rect x="441" y="1101" width="69" height="69" fill="#fff000"/>
<rect x="508" y="1101" width="69" height="69" fill="#fff100"/>
<rect x="576" y="1101" width="69" height="69" fill="#fff300"/>
<rect x="643" y="1101" width="69" height="69" fill="#fff400"/>
<rect x="710" y="1101" width="69" height="69" fill="#fff500"/>
<rect x="777" y="1101" width="69" height="69" fill="#fff600"/>
<rect x="845" y="1101" width="69" height="69" fill="#fff700"/>
<rect x="912" y="1101" width="69" height="69" fill="#fff800"/>
<rect x="979" y="1101" width="69" height="69" fill="#fff900"/>
<rect x="1046" y="1101" width="69" height="69" fill="#fffa00"/>
<rect x="1114" y="1101" width="69" height="69" fill="#fffb00"/>
<rect x="1181" y="1101" width="69" height="69" fill="#fffc00"/>
<rect x="1248" y="1101" width="69" height="69" fill="#fffd00"/>
<rect x="1316" y="1101" width="69" height="69" fill="#fffd00"/>
<rect x="1383" y="1101" width="69" height="69" fill="#fffe00"/>
<rect x="1450" y="1101" width="69" height="69" fill="#fffe00"/>
<rect x="1517" y="1101" width="69" height="69" fill="#fffe00"/>
<rect x="1585" y="1101" width="69" height="69" fill="#fffd00"/>
<rect x="1652" y="1101" width="69" height="69" fill="#fffd00"/>
<rect x="1719" y="1101" width="69" height="69" fill="#fffc00"/>
<rect x="1786" y="1101" width="69" height="69" fill="#fffe00"/>
<rect x="1854" y="1101" width="69" height="69" fill="#feff00"/>
<rect x="1921" y="1101" width="69" height="69" fill="#fbff00"/>
<rect x="1988" y="1101" width="69" height="69" fill="#fbff00"/>
<rect x="2055" y="1101" width="69" height="69" fill="#fcff00"/>
<rect x="2123" y="1101" width="69" height="69" fill="#fffe00"/>
<rect x="2190" y="1101" width="69" height="69" fill="#fffe00"/>
<rect x="2257" y="1101" width="69" height="69" fill="#fffe00"/>
<rect x="37" y="1168" width="69" height="69" fill="#fff300"/>
<rect x="105" y="1168" width="69" height="69" fill="#fff300"/>
<rect x="172" y="1168" width="69" height="69" fill="#fff300"/>
<rect x="239" y="1168" width="69" height="69" fill="#fff500"/>
<rect x="307" y="1168" width="69" height="69" fill="#fff600"/>
<rect x="374" y="1168" width="69" height="69" fill="#fff700"/>
<rect x="441" y="1168" width="69" height="69" fill="#fff800"/>
<rect x="508" y="1168" width="69" height="69" fill="#fff900"/>
<rect x="576" y="1168" width="69" height="69" fill="#fff900"/>
<rect x="643" y="1168" width="69" height="69" fill="#fffa00"/>
<rect x="710" y="1168" width="69" height="69" fill="#fffb00"/>
<rect x="777" y="1168" width="69" height="69" fill="#fffc00"/>
<rect x="845" y="1168" width="69" height="69" fill="#fffc00"/>
<rect x="912" y="1168" width="69" height="69" fill="#fffc00"/>
<rect x="979" y="1168" width="69" height="69" fill="#fffd00"/>
<rect x="1046" y="1168" width="69" height="69" fill="#fffd00"/>
<rect x="1114" y="1168" width="69" height="69" fill="#fffe00"/>
<rect x="1181" y="1168" width="69" height="69" fill="#fffe00"/>
<rect x="1248" y="1168" width="69" height="69" fill="#ffff00"/>
<rect x="1316" y="1168" width="69" height="69" fill="#ffff00"/>
<rect x="1383" y="1168" width="69" height="69" fill="#ffff00"/>
<rect x="1450" y="1168" width="69" height="69" fill="#ffff00"/>
<rect x="1517" y="1168" width="69" height="69" fill="#ffff00"/>
<rect x="1585" y="1168" width="69" height="69" fill="#ffff00"/>
<rect x="1652" y="1168" width="69" height="69" fill="#ffff00"/>
<rect x="1719" y="1168" width="69" height="69" fill="#ffff00"/>
<rect x="1786" y="1168" width="69" height="69" fill="#fcff00"/>
<rect x="1854" y="1168" width="69" height="69" fill="#faff00"/>
<rect x="1921" y="1168" width="69" height="69" fill="#f8ff00"/>
<rect x="1988" y="1168" width="69" height="69" fill="#fbff00"/>
<rect x="2055" y="1168" width="69" height="69" fill="#feff00"/>
<rect x="2123" y="1168" width="69" height="69" fill="#fffc00"/>
<rect x="2190" y="1168" width="69" height="69" fill="#fffc00"/>
<rect x="2257" y="1168" width="69" height="69" fill="#fffc00"/>
<rect x="37" y="1235" width="69" height="69" fill="#fff900"/>
<rect x="105" y="1235" width="69" height="69" fill="#fff900"/>
<rect x="172" y="1235" width="69" height="69" fill="#fff900"/>
<rect x="239" y="1235" width="69" height="69" fill="#fffa00"/>
<rect x="307" y="1235" width="69" height="69" fill="#fffb00"/>
<rect x="374" y="1235" width="69" height="69" fill="#fffb00"/>
<rect x="441" y="1235" width="69" height="69" fill="#fffc00"/>
<rect x="508" y="1235" width="69" height="69" fill="#fffd00"/>
<rect x="576" y="1235" width="69" height="69" fill="#fffd00"/>
<rect x="643" y="1235" width="69" height="69" fill="#fffe00"/>
<rect x="710" y="1235" width="69" height="69" fill="#ffff00"/>
<rect x="777" y="1235" width="69" height="69" fill="#ffff00"/>
<rect x="845" y="1235" width="69" height="69" fill="#ffff00"/>
<rect x="912" y="1235" width="69" height="69" fill="#feff00"/>
<rect x="979" y="1235" width="69" height="69" fill="#feff00"/>
<rect x="1046" y="1235" width="69" height="69" fill="#fdff00"/>
<rect x="1114" y="1235" width="69" height="69" fill="#fdff00"/>
<rect x="1181" y="1235" width="69" height="69" fill="#fcff00"/>
<rect x="1248" y="1235" width="69" height="69" fill="#fcff00"/>
<rect x="1316" y="1235" width="69" height="69" fill="#fbff00"/>
<rect x="1383" y="1235" width="69" height="69" fill="#fbff00"/>
<rect x="1450" y="1235" width="69" height="69" fill="#fbff00"/>
<rect x="1517" y="1235" width="69" height="69" fill="#fbff00"/>
<rect x="1585" y="1235" width="69" height="69" fill="#fbff00"/>
<rect x="1652" y="1235" width="69" height="69" fill="#fbff00"/>
<rect x="1719" y="1235" width="69" height="69" fill="#faff00"/>
<rect x="1786" y="1235" width="69" height="69" fill="#f8ff00"/>
<rect x="1854" y="1235" width="69" height="69" fill="#f7ff00"/>
<rect x="1921" y="1235" width="69" height="69" fill="#f5ff00"/>
<rect x="1988" y="1235" width="69" height="69" fill="#f8ff00"/>
<rect x="2055" y="1235" width="69" height="69" fill="#faff00"/>
<rect x="2123" y="1235" width="69" height="69" fill="#ffff00"/>
<rect x="2190" y="1235" width="69" height="69" fill="#ffff00"/>
<rect x="2257" y="1235" width="69" height="69" fill="#ffff00"/>
<rect x="37" y="1302" width="69" height="69" fill="#fffe00"/>
<rect x="105" y="1302" width="69" height="69" fill="#fffe00"/>
<rect x="172" y="1302" width="69" height="69" fill="#fffe00"/>
<rect x="239" y="1302" width="69" height="69" fill="#ffff00"/>
<rect x="307" y="1302" width="69" height="69" fill="#ffff00"/>
<rect x="374" y="1302" width="69" height="69" fill="#feff00"/>
<rect x="441" y="1302" width="69" height="69" fill="#fdff00"/>
<rect x="508" y="1302" width="69" height="69" fill="#fcff00"/>
<rect x="576" y="1302" width="69" height="69" fill="#fbff00"/>
<rect x="643" y="1302" width="69" height="69" fill="#faff00"/>
<rect x="710" y="1302" width="69" height="69" fill="#f9ff00"/>
<rect x="777" y="1302" width="69" height="69" fill="#f9ff00"/>
<rect x="845" y="1302" width="69" height="69" fill="#f9ff00"/>
<rect x="912" y="1302" width="69" height="69" fill="#f9ff00"/>
<rect x="979" y="1302" width="69" height="69" fill="#f8ff00"/>
<rect x="1046" y="1302" width="69" height="69" fill="#f8ff00"/>
<rect x="1114" y="1302" width="69" height="69" fill="#f8ff00"/>
<rect x="1181" y="1302" width="69" height="69" fill="#f8ff00"/>
<rect x="1248" y="1302" width="69" height="69" fill="#f8ff00"/>
<rect x="1316" y="1302" width="69" height="69" fill="#f8ff00"/>
<rect x="1383" y="1302" width="69" height="69" fill="#f8ff00"/>
<rect x="1450" y="1302" width="69" height="69" fill="#f8ff00"/>
<rect x="1517" y="1302" width="69" height="69" fill="#f8ff00"/>
<rect x="1585" y="1302" width="69" height="69" fill="#f7ff00"/>
<rect x="1652" y="1302" width="69" height="69" fill="#f6ff00"/>
<rect x="1719" y="1302" width="69" height="69" fill="#f6ff00"/>
<rect x="1786" y="1302" width="69" height="69" fill="#f5ff00"/>
<rect x="1854" y="1302" width="69" height="69" fill="#f4ff00"/>
<rect x="1921" y="1302" width="69" height="69" fill="#f3ff00"/>
<rect x="1988" y="1302" width="69" height="69" fill="#f4ff00"/>
<rect x="2055" y="1302" width="69" height="69" fill="#f6ff00"/>
<rect x="2123" y="1302" width="69" height="69" fill="#f9ff00"/>
<rect x="2190" y="1302" width="69" height="69" fill="#f9ff00"/>
<rect x="2257" y="1302" width="69" height="69" fill="#f9ff00"/>
<rect x="37" y="1370" width="69" height="69" fill="#f9ff00"/>
<rect x="105" y="1370" width="69" height="69" fill="#f9ff00"/>
<rect x="172" y="1370" width="69" height="69" fill="#f9ff00"/>
<rect x="239" y="1370" width="69" height="69" fill="#f9ff00"/>
<rect x="307" y="1370" width="69" height="69" fill="#f8ff00"/>
<rect x="374" y="1370" width="69" height="69" fill="#f7ff00"/>
<rect x="441" y="1370" width="69" height="69" fill="#f6ff00"/>
<rect x="508" y="1370" width="69" height="69" fill="#f5ff00"/>
<rect x="576" y="1370" width="69" height="69" fill="#f4ff00"/>
<rect x="643" y="1370" width="69" height="69" fill="#f3ff00"/>
<rect x="710" y="1370" width="69" height="69" fill="#f2ff00"/>
<rect x="777" y="1370" width="69" height="69" fill="#f2ff00"/>
<rect x="845" y="1370" width="69" height="69" fill="#f2ff00"/>
<rect x="912" y="1370" width="69" height="69" fill="#f2ff00"/>
<rect x="979" y="1370" width="69" height="69" fill="#f2ff00"/>
<rect x="1046" y="1370" width="69" height="69" fill="#f2ff00"/>
<rect x="1114" y="1370" width="69" height="69" fill="#f2ff00"/>
<rect x="1181" y="1370" width="69" height="69" fill="#f2ff00"/>
<rect x="1248" y="1370" width="69" height="69" fill="#f2ff00"/>
<rect x="1316" y="1370" width="69" height="69" fill="#f2ff00"/>
<rect x="1383" y="1370" width="69" height="69" fill="#f2ff00"/>
<rect x="1450" y="1370" width="69" height="69" fill="#f2ff00"/>
<rect x="1517" y="1370" width="69" height="69" fill="#f2ff00"/>
<rect x="1585" y="1370" width="69" height="69" fill="#f1ff00"/>
<rect x="1652" y="1370" width="69" height="69" fill="#f1ff00"/>
<rect x="1719" y="1370" width="69" height="69" fill="#f0ff00"/>
<rect x="1786" y="1370" width="69" height="69" fill="#f0ff00"/>
<rect x="1854" y="1370" width="69" height="69" fill="#efff00"/>
<rect x="1921" y="1370" width="69" height="69" fill="#efff00"/>
<rect x="1988" y="1370" width="69" height="69" fill="#efff00"/>
<rect x="2055" y="1370" width="69" height="69" fill="#efff00"/>
<rect x="2123" y="1370" width="69" height="69" fill="#f1ff00"/>
<rect x="2190" y="1370" width="69" height="69" fill="#f1ff00"/>
<rect x="2257" y="1370" width="69" height="69" fill="#f1ff00"/>
<rect x="37" y="1437" width="69" height="69" fill="#f3ff00"/>
<rect x="105" y="1437" width="69" height="69" fill="#f3ff00"/>
<rect x="172" y="1437" width="69" height="69" fill="#f3ff00"/>
<rect x="239" y="1437" width="69" height="69" fill="#f2ff00"/>
<rect x="307" y="1437" width="69" height="69" fill="#f2ff00"/>
<rect x="374" y="1437" width="69" height="69" fill="#f1ff00"/>
<rect x="441" y="1437" width="69" height="69" fill="#efff00"/>
<rect x="508" y="1437" width="69" height="69" fill="#eeff00"/>
<rect x="576" y="1437" width="69" height="69" fill="#edff00"/>
<rect x="643" y="1437" width="69" height="69" fill="#ecff00"/>
<rect x="710" y="1437" width="69" height="69" fill="#ebff00"/>
<rect x="777" y="1437" width="69" height="69" fill="#ebff00"/>
<rect x="845" y="1437" width="69" height="69" fill="#ebff00"/>
<rect x="912" y="1437" width="69" height="69" fill="#ebff00"/>
<rect x="979" y="1437" width="69" height="69" fill="#ebff00"/>
<rect x="1046" y="1437" width="69" height="69" fill="#ebff00"/>
<rect x="1114" y="1437" width="69" height="69" fill="#ebff00"/>
<rect x="1181" y="1437" width="69" height="69" fill="#ebff00"/>
<rect x="1248" y="1437" width="69" height="69" fill="#ebff00"/>
<rect x="1316" y="1437" width="69" height="69" fill="#ebff00"/>
<rect x="1383" y="1437" width="69" height="69" fill="#ebff00"/>
<rect x="1450" y="1437" width="69" height="69" fill="#ebff00"/>
<rect x="1517" y="1437" width="69" height="69" fill="#ebff00"/>
<rect x="1585" y="1437" width="69" height="69" fill="#ebff00"/>
<rect x="1652" y="1437" width="69" height="69" fill="#ebff00"/>
<rect x="1719" y="1437" width="69" height="69" fill="#ebff00"/>
<rect x="1786" y="1437" width="69" height="69" fill="#eaff00"/>
<rect x="1854" y="1437" width="69" height="69" fill="#eaff00"/>
<rect x="1921" y="1437" width="69" height="69" fill="#eaff00"/>
<rect x="1988" y="1437" width="69" height="69" fill="#e9ff00"/>
<rect x="2055" y="1437" width="69" height="69" fill="#e9ff00"/>
<rect x="2123" y="1437" width="69" height="69" fill="#e9ff00"/>
<rect x="2190" y="1437" width="69" height="69" fill="#e9ff00"/>
<rect x="2257" y="1437" width="69" height="69" fill="#e9ff00"/>
<rect x="37" y="1504" width="69" height="69" fill="#e8ff00"/>
<rect x="105" y="1504" width="69" height="69" fill="#e8ff00"/>
<rect x="172" y="1504" width="69" height="69" fill="#e8ff00"/>
<rect x="239" y="1504" width="69" height="69" fill="#e7ff00"/>
<rect x="307" y="1504" width="69" height="69" fill="#e6ff00"/>
<rect x="374" y="1504" width="69" height="69" fill="#e4ff00"/>
<rect x="441" y="1504" width="69" height="69" fill="#e2ff00"/>
<rect x="508" y="1504" width="69" height="69" fill="#e1ff00"/>
<rect x="576" y="1504" width="69" height="69" fill="#e1ff00"/>
<rect x="643" y="1504" width="69" height="69" fill="#e2ff00"/>
<rect x="710" y="1504" width="69" height="69" fill="#e3ff00"/>
<rect x="777" y="1504" width="69" height="69" fill="#e3ff00"/>
<rect x="845" y="1504" width="69" height="69" fill="#e3ff00"/>
<rect x="912" y="1504" width="69" height="69" fill="#e3ff00"/>
<rect x="979" y="1504" width="69" height="69" fill="#e3ff00"/>
<rect x="1046" y="1504" width="69" height="69" fill="#e3ff00"/>
<rect x="1114" y="1504" width="69" height="69" fill="#e3ff00"/>
<rect x="1181" y="1504" width="69" height="69" fill="#e3ff00"/>
<rect x="1248" y="1504" width="69" height="69" fill="#e2ff00"/>
<rect x="1316" y="1504" width="69" height="69" fill="#e2ff00"/>
<rect x="1383" y="1504" width="69" height="69" fill="#e2ff00"/>
<rect x="1450" y="1504" width="69" height="69" fill="#e2ff00"/>
<rect x="1517" y="1504" width="69" height="69" fill="#e3ff00"/>
<rect x="1585" y="1504" width="69" height="69" fill="#e3ff00"/>
<rect x="1652" y="1504" width="69" height="69" fill="#e3ff00"/>
<rect x="1719" y="1504" width="69" height="69" fill="#e4ff00"/>
<rect x="1786" y="1504" width="69" height="69" fill="#e4ff00"/>
<rect x="1854" y="1504" width="69" height="69" fill="#e4ff00"/>
<rect x="1921" y="1504" width="69" height="69" fill="#e5ff00"/>
<rect x="1988" y="1504" width="69" height="69" fill="#e4ff00"/>
<rect x="2055" y="1504" width="69" height="69" fill="#e4ff00"/>
<rect x="2123" y="1504" width="69" height="69" fill="#e4ff00"/>
<rect x="2190" y="1504" width="69" height="69" fill="#e4ff00"/>
<rect x="2257" y="1504" width="69" height="69" fill="#e4ff00"/>
<rect x="37" y="1571" width="69" height="69" fill="#d9ff00"/>
<rect x="105" y="1571" width="69" height="69" fill="#d9ff00"/>
<rect x="172" y="1571" width="69" height="69" fill="#d9ff00"/>
<rect x="239" y="1571" width="69" height="69" fill="#d6ff00"/>
<rect x="307" y="1571" width="69" height="69" fill="#d4ff00"/>
<rect x="374" y="1571" width="69" height="69" fill="#d2ff00"/>
<rect x="441" y="1571" width="69" height="69" fill="#d0ff00"/>
<rect x="508" y="1571" width="69" height="69" fill="#ceff00"/>
<rect x="576" y="1571" width="69" height="69" fill="#d2ff00"/>
<rect x="643" y="1571" width="69" height="69" fill="#d7ff00"/>
<rect x="710" y="1571" width="69" height="69" fill="#dbff00"/>
<rect x="777" y="1571" width="69" height="69" fill="#dbff00"/>
<rect x="845" y="1571" width="69" height="69" fill="#daff00"/>
<rect x="912" y="1571" width="69" height="69" fill="#daff00"/>
<rect x="979" y="1571" width="69" height="69" fill="#daff00"/>
<rect x="1046" y="1571" width="69" height="69" fill="#daff00"/>
<rect x="1114" y="1571" width="69" height="69" fill="#daff00"/>
<rect x="1181" y="1571" width="69" height="69" fill="#d9ff00"/>
<rect x="1248" y="1571" width="69" height="69" fill="#d7ff00"/>
<rect x="1316" y="1571" width="69" height="69" fill="#d6ff00"/>
<rect x="1383" y="1571" width="69" height="69" fill="#d7ff00"/>
<rect x="1450" y="1571" width="69" height="69" fill="#d9ff00"/>
<rect x="1517" y="1571" width="69" height="69" fill="#daff00"/>
<rect x="1585" y="1571" width="69" height="69" fill="#daff00"/>
<rect x="1652" y="1571" width="69" height="69" fill="#dbff00"/>
<rect x="1719" y="1571" width="69" height="69" fill="#dcff00"/>
<rect x="1786" y="1571" width="69" height="69" fill="#ddff00"/>
<rect x="1854" y="1571" width="69" height="69" fill="#deff00"/>
<rect x="1921" y="1571" width="69" height="69" fill="#dfff00"/>
<rect x="1988" y="1571" width="69" height="69" fill="#e0ff00"/>
<rect x="2055" y="1571" width="69" height="69" fill="#e0ff00"/>
<rect x="2123" y="1571" width="69" height="69" fill="#e1ff00"/>
<rect x="2190" y="1571" width="69" height="69" fill="#e1ff00"/>
<rect x="2257" y="1571" width="69" height="69" fill="#e1ff00"/>
<rect x="37" y="1639" width="69" height="69" fill="#ccff00"/>
<rect x="105" y="1639" width="69" height="69" fill="#ccff00"/>
<rect x="172" y="1639" width="69" height="69" fill="#ccff00"/>
<rect x="239" y="1639" width="69" height="69" fill="#c9ff00"/>
<rect x="307" y="1639" width="69" height="69" fill="#c6ff00"/>
<rect x="374" y="1639" width="69" height="69" fill="#c4ff00"/>
<rect x="441" y="1639" width="69" height="69" fill="#c3ff00"/>
<rect x="508" y="1639" width="69" height="69" fill="#c1ff00"/>
<rect x="576" y="1639" width="69" height="69" fill="#c7ff00"/>
<rect x="643" y="1639" width="69" height="69" fill="#cdff00"/>
<rect x="710" y="1639" width="69" height="69" fill="#d4ff00"/>
<rect x="777" y="1639" width="69" height="69" fill="#d4ff00"/>
<rect x="845" y="1639" width="69" height="69" fill="#d2ff00"/>
<rect x="912" y="1639" width="69" height="69" fill="#d1ff00"/>
<rect x="979" y="1639" width="69" height="69" fill="#d1ff00"/>
<rect x="1046" y="1639" width="69" height="69" fill="#d1ff00"/>
<rect x="1114" y="1639" width="69" height="69" fill="#d1ff00"/>
<rect x="1181" y="1639" width="69" height="69" fill="#d0ff00"/>
<rect x="1248" y="1639" width="69" height="69" fill="#cfff00"/>
<rect x="1316" y="1639" width="69" height="69" fill="#ceff00"/>
<rect x="1383" y="1639" width="69" height="69" fill="#cfff00"/>
<rect x="1450" y="1639" width="69" height="69" fill="#d1ff00"/>
<rect x="1517" y="1639" width="69" height="69" fill="#d3ff00"/>
<rect x="1585" y="1639" width="69" height="69" fill="#d3ff00"/>
<rect x="1652" y="1639" width="69" height="69" fill="#d4ff00"/>
<rect x="1719" y="1639" width="69" height="69" fill="#d5ff00"/>
<rect x="1786" y="1639" width="69" height="69" fill="#d7ff00"/>
<rect x="1854" y="1639" width="69" height="69" fill="#d9ff00"/>
<rect x="1921" y="1639" width="69" height="69" fill="#dbff00"/>
<rect x="1988" y="1639" width="69" height="69" fill="#dcff00"/>
<rect x="2055" y="1639" width="69" height="69" fill="#ddff00"/>
<rect x="2123" y="1639" width="69" height="69" fill="#dfff00"/>
<rect x="2190" y="1639" width="69" height="69" fill="#dfff00"/>
<rect x="2257" y="1639" width="69" height="69" fill="#dfff00"/>
<rect x="37" y="1706" width="69" height="69" fill="#c4ff00"/>
<rect x="105" y="1706" width="69" height="69" fill="#c4ff00"/>
<rect x="172" y="1706" width="69" height="69" fill="#c4ff00"/>
<rect x="239" y="1706" width="69" height="69" fill="#c2ff00"/>
<rect x="307" y="1706" width="69" height="69" fill="#c0ff00"/>
<rect x="374" y="1706" width="69" height="69" fill="#bfff00"/>
<rect x="441" y="1706" width="69" height="69" fill="#bfff00"/>
<rect x="508" y="1706" width="69" height="69" fill="#bfff00"/>
<rect x="576" y="1706" width="69" height="69" fill="#c4ff00"/>
<rect x="643" y="1706" width="69" height="69" fill="#caff00"/>
<rect x="710" y="1706" width="69" height="69" fill="#d0ff00"/>
<rect x="777" y="1706" width="69" height="69" fill="#ceff00"/>
<rect x="845" y="1706" width="69" height="69" fill="#ccff00"/>
<rect x="912" y="1706" width="69" height="69" fill="#c9ff00"/>
<rect x="979" y="1706" width="69" height="69" fill="#c9ff00"/>
<rect x="1046" y="1706" width="69" height="69" fill="#c9ff00"/>
<rect x="1114" y="1706" width="69" height="69" fill="#c9ff00"/>
<rect x="1181" y="1706" width="69" height="69" fill="#caff00"/>
<rect x="1248" y="1706" width="69" height="69" fill="#cbff00"/>
<rect x="1316" y="1706" width="69" height="69" fill="#cbff00"/>
<rect x="1383" y="1706" width="69" height="69" fill="#cdff00"/>
<rect x="1450" y="1706" width="69" height="69" fill="#ceff00"/>
<rect x="1517" y="1706" width="69" height="69" fill="#cfff00"/>
<rect x="1585" y="1706" width="69" height="69" fill="#d0ff00"/>
<rect x="1652" y="1706" width="69" height="69" fill="#d1ff00"/>
<rect x="1719" y="1706" width="69" height="69" fill="#d2ff00"/>
<rect x="1786" y="1706" width="69" height="69" fill="#d4ff00"/>
<rect x="1854" y="1706" width="69" height="69" fill="#d6ff00"/>
<rect x="1921" y="1706" width="69" height="69" fill="#d8ff00"/>
<rect x="1988" y="1706" width="69" height="69" fill="#d9ff00"/>
<rect x="2055" y="1706" width="69" height="69" fill="#dbff00"/>
<rect x="2123" y="1706" width="69" height="69" fill="#dcff00"/>
<rect x="2190" y="1706" width="69" height="69" fill="#dcff00"/>
<rect x="2257" y="1706" width="69" height="69" fill="#dcff00"/>
<rect x="37" y="1773" width="69" height="69" fill="#bcff00"/>
<rect x="105" y="1773" width="69" height="69" fill="#bcff00"/>
<rect x="172" y="1773" width="69" height="69" fill="#bcff00"/>
<rect x="239" y="1773" width="69" height="69" fill="#bbff00"/>
<rect x="307" y="1773" width="69" height="69" fill="#baff00"/>
<rect x="374" y="1773" width="69" height="69" fill="#baff00"/>
<rect x="441" y="1773" width="69" height="69" fill="#bbff00"/>
<rect x="508" y="1773" width="69" height="69" fill="#bcff00"/>
<rect x="576" y="1773" width="69" height="69" fill="#c1ff00"/>
<rect x="643" y="1773" width="69" height="69" fill="#c6ff00"/>
<rect x="710" y="1773" width="69" height="69" fill="#cbff00"/>
<rect x="777" y="1773" width="69" height="69" fill="#c8ff00"/>
<rect x="845" y="1773" width="69" height="69" fill="#c5ff00"/>
<rect x="912" y="1773" width="69" height="69" fill="#c1ff00"/>
<rect x="979" y="1773" width="69" height="69" fill="#c1ff00"/>
<rect x="1046" y="1773" width="69" height="69" fill="#c1ff00"/>
<rect x="1114" y="1773" width="69" height="69" fill="#c2ff00"/>
<rect x="1181" y="1773" width="69" height="69" fill="#c4ff00"/>
<rect x="1248" y="1773" width="69" height="69" fill="#c7ff00"/>
<rect x="1316" y="1773" width="69" height="69" fill="#caff00"/>
<rect x="1383" y="1773" width="69" height="69" fill="#caff00"/>
<rect x="1450" y="1773" width="69" height="69" fill="#cbff00"/>
<rect x="1517" y="1773" width="69" height="69" fill="#ccff00"/>
<rect x="1585" y="1773" width="69" height="69" fill="#cdff00"/>
<rect x="1652" y="1773" width="69" height="69" fill="#ceff00"/>
<rect x="1719" y="1773" width="69" height="69" fill="#cfff00"/>
<rect x="1786" y="1773" width="69" height="69" fill="#d1ff00"/>
<rect x="1854" y="1773" width="69" height="69" fill="#d4ff00"/>
<rect x="1921" y="1773" width="69" height="69" fill="#d6ff00"/>
<rect x="1988" y="1773" width="69" height="69" fill="#d7ff00"/>
<rect x="2055" y="1773" width="69" height="69" fill="#d8ff00"/>
<rect x="2123" y="1773" width="69" height="69" fill="#daff00"/>
<rect x="2190" y="1773" width="69" height="69" fill="#daff00"/>
<rect x="2257" y="1773" width="69" height="69" fill="#daff00"/>
<rect x="37" y="1840" width="69" height="69" fill="#b5ff00"/>
<rect x="105" y="1840" width="69" height="69" fill="#b5ff00"/>
<rect x="172" y="1840" width="69" height="69" fill="#b5ff00"/>
<rect x="239" y="1840" width="69" height="69" fill="#b5ff00"/>
<rect x="307" y="1840" width="69" height="69" fill="#b5ff00"/>
<rect x="374" y="1840" width="69" height="69" fill="#b6ff00"/>
<rect x="441" y="1840" width="69" height="69" fill="#b7ff00"/>
<rect x="508" y="1840" width="69" height="69" fill="#b9ff00"/>
<rect x="576" y="1840" width="69" height="69" fill="#bcff00"/>
<rect x="643" y="1840" width="69" height="69" fill="#bfff00"/>
<rect x="710" y="1840" width="69" height="69" fill="#c3ff00"/>
<rect x="777" y="1840" width="69" height="69" fill="#c1ff00"/>
<rect x="845" y="1840" width="69" height="69" fill="#beff00"/>
<rect x="912" y="1840" width="69" height="69" fill="#bcff00"/>
<rect x="979" y="1840" width="69" height="69" fill="#bdff00"/>
<rect x="1046" y="1840" width="69" height="69" fill="#beff00"/>
<rect x="1114" y="1840" width="69" height="69" fill="#bfff00"/>
<rect x="1181" y="1840" width="69" height="69" fill="#c3ff00"/>
<rect x="1248" y="1840" width="69" height="69" fill="#c7ff00"/>
<rect x="1316" y="1840" width="69" height="69" fill="#cbff00"/>
<rect x="1383" y="1840" width="69" height="69" fill="#ccff00"/>
<rect x="1450" y="1840" width="69" height="69" fill="#ccff00"/>
<rect x="1517" y="1840" width="69" height="69" fill="#cdff00"/>
<rect x="1585" y="1840" width="69" height="69" fill="#ceff00"/>
<rect x="1652" y="1840" width="69" height="69" fill="#cfff00"/>
<rect x="1719" y="1840" width="69" height="69" fill="#d0ff00"/>
<rect x="1786" y="1840" width="69" height="69" fill="#d2ff00"/>
<rect x="1854" y="1840" width="69" height="69" fill="#d3ff00"/>
<rect x="1921" y="1840" width="69" height="69" fill="#d5ff00"/>
<rect x="1988" y="1840" width="69" height="69" fill="#d6ff00"/>
<rect x="2055" y="1840" width="69" height="69" fill="#d6ff00"/>
<rect x="2123" y="1840" width="69" height="69" fill="#d8ff00"/>
<rect x="2190" y="1840" width="69" height="69" fill="#d8ff00"/>
<rect x="2257" y="1840" width="69" height="69" fill="#d8ff00"/>
<rect x="37" y="1908" width="69" height="69" fill="#afff00"/>
<rect x="105" y="1908" width="69" height="69" fill="#afff00"/>
<rect x="172" y="1908" width="69" height="69" fill="#afff00"/>
<rect x="239" y="1908" width="69" height="69" fill="#b0ff00"/>
<rect x="307" y="1908" width="69" height="69" fill="#b0ff00"/>
<rect x="374" y="1908" width="69" height="69" fill="#b2ff00"/>
<rect x="441" y="1908" width="69" height="69" fill="#b4ff00"/>
<rect x="508" y="1908" width="69" height="69" fill="#b5ff00"/>
<rect x="576" y="1908" width="69" height="69" fill="#b7ff00"/>
<rect x="643" y="1908" width="69" height="69" fill="#b9ff00"/>
<rect x="710" y="1908" width="69" height="69" fill="#bbff00"/>
<rect x="777" y="1908" width="69" height="69" fill="#baff00"/>
<rect x="845" y="1908" width="69" height="69" fill="#b8ff00"/>
<rect x="912" y="1908" width="69" height="69" fill="#b6ff00"/>
<rect x="979" y="1908" width="69" height="69" fill="#b8ff00"/>
<rect x="1046" y="1908" width="69" height="69" fill="#baff00"/>
<rect x="1114" y="1908" width="69" height="69" fill="#bdff00"/>
<rect x="1181" y="1908" width="69" height="69" fill="#c2ff00"/>
<rect x="1248" y="1908" width="69" height="69" fill="#c7ff00"/>
<rect x="1316" y="1908" width="69" height="69" fill="#ccff00"/>
<rect x="1383" y="1908" width="69" height="69" fill="#cdff00"/>
<rect x="1450" y="1908" width="69" height="69" fill="#ceff00"/>
<rect x="1517" y="1908" width="69" height="69" fill="#ceff00"/>
<rect x="1585" y="1908" width="69" height="69" fill="#cfff00"/>
<rect x="1652" y="1908" width="69" height="69" fill="#d0ff00"/>
<rect x="1719" y="1908" width="69" height="69" fill="#d1ff00"/>
<rect x="1786" y="1908" width="69" height="69" fill="#d2ff00"/>
<rect x="1854" y="1908" width="69" height="69" fill="#d3ff00"/>
<rect x="1921" y="1908" width="69" height="69" fill="#d4ff00"/>
<rect x="1988" y="1908" width="69" height="69" fill="#d4ff00"/>
<rect x="2055" y="1908" width="69" height="69" fill="#d4ff00"/>
<rect x="2123" y="1908" width="69" height="69" fill="#d6ff00"/>
<rect x="2190" y="1908" width="69" height="69" fill="#d6ff00"/>
<rect x="2257" y="1908" width="69" height="69" fill="#d6ff00"/>
<rect x="37" y="1975" width="69" height="69" fill="#abff00"/>
<rect x="105" y="1975" width="69" height="69" fill="#abff00"/>
<rect x="172" y="1975" width="69" height="69" fill="#abff00"/>
<rect x="239" y="1975" width="69" height="69" fill="#adff00"/>
<rect x="307" y="1975" width="69" height="69" fill="#aeff00"/>
<rect x="374" y="1975" width="69" height="69" fill="#b0ff00"/>
<rect x="441" y="1975" width="69" height="69" fill="#b2ff00"/>
<rect x="508" y="1975" width="69" height="69" fill="#b3ff00"/>
<rect x="576" y="1975" width="69" height="69" fill="#b5ff00"/>
<rect x="643" y="1975" width="69" height="69" fill="#b7ff00"/>
<rect x="710" y="1975" width="69" height="69" fill="#b8ff00"/>
<rect x="777" y="1975" width="69" height="69" fill="#b8ff00"/>
<rect x="845" y="1975" width="69" height="69" fill="#b7ff00"/>
<rect x="912" y="1975" width="69" height="69" fill="#b7ff00"/>
<rect x="979" y="1975" width="69" height="69" fill="#baff00"/>
<rect x="1046" y="1975" width="69" height="69" fill="#bdff00"/>
<rect x="1114" y="1975" width="69" height="69" fill="#c0ff00"/>
<rect x="1181" y="1975" width="69" height="69" fill="#c4ff00"/>
<rect x="1248" y="1975" width="69" height="69" fill="#c8ff00"/>
<rect x="1316" y="1975" width="69" height="69" fill="#ccff00"/>
<rect x="1383" y="1975" width="69" height="69" fill="#cdff00"/>
<rect x="1450" y="1975" width="69" height="69" fill="#ceff00"/>
<rect x="1517" y="1975" width="69" height="69" fill="#cfff00"/>
<rect x="1585" y="1975" width="69" height="69" fill="#cfff00"/>
<rect x="1652" y="1975" width="69" height="69" fill="#d0ff00"/>
<rect x="1719" y="1975" width="69" height="69" fill="#d1ff00"/>
<rect x="1786" y="1975" width="69" height="69" fill="#d2ff00"/>
<rect x="1854" y="1975" width="69" height="69" fill="#d3ff00"/>
<rect x="1921" y="1975" width="69" height="69" fill="#d4ff00"/>
<rect x="1988" y="1975" width="69" height="69" fill="#d4ff00"/>
<rect x="2055" y="1975" width="69" height="69" fill="#d5ff00"/>
<rect x="2123" y="1975" width="69" height="69" fill="#d7ff00"/>
<rect x="2190" y="1975" width="69" height="69" fill="#d7ff00"/>
<rect x="2257" y="1975" width="69" height="69" fill="#d7ff00"/>
<rect x="37" y="2042" width="69" height="69" fill="#abff00"/>
<rect x="105" y="2042" width="69" height="69" fill="#abff00"/>
<rect x="172" y="2042" width="69" height="69" fill="#abff00"/>
<rect x="239" y="2042" width="69" height="69" fill="#adff00"/>
<rect x="307" y="2042" width="69" height="69" fill="#aeff00"/>
<rect x="374" y="2042" width="69" height="69" fill="#b0ff00"/>
<rect x="441" y="2042" width="69" height="69" fill="#b2ff00"/>
<rect x="508" y="2042" width="69" height="69" fill="#b3ff00"/>
<rect x="576" y="2042" width="69" height="69" fill="#b5ff00"/>
<rect x="643" y="2042" width="69" height="69" fill="#b7ff00"/>
<rect x="710" y="2042" width="69" height="69" fill="#b8ff00"/>
<rect x="777" y="2042" width="69" height="69" fill="#b8ff00"/>
<rect x="845" y="2042" width="69" height="69" fill="#b7ff00"/>
<rect x="912" y="2042" width="69" height="69" fill="#b7ff00"/>
<rect x="979" y="2042" width="69" height="69" fill="#baff00"/>
<rect x="1046" y="2042" width="69" height="69" fill="#bdff00"/>
<rect x="1114" y="2042" width="69" height="69" fill="#c0ff00"/>
<rect x="1181" y="2042" width="69" height="69" fill="#c4ff00"/>
<rect x="1248" y="2042" width="69" height="69" fill="#c8ff00"/>
<rect x="1316" y="2042" width="69" height="69" fill="#ccff00"/>
<rect x="1383" y="2042" width="69" height="69" fill="#cdff00"/>
<rect x="1450" y="2042" width="69" height="69" fill="#ceff00"/>
<rect x="1517" y="2042" width="69" height="69" fill="#cfff00"/>
<rect x="1585" y="2042" width="69" height="69" fill="#cfff00"/>
<rect x="1652" y="2042" width="69" height="69" fill="#d0ff00"/>
<rect x="1719" y="2042" width="69" height="69" fill="#d1ff00"/>
<rect x="1786" y="2042" width="69" height="69" fill="#d2ff00"/>
<rect x="1854" y="2042" width="69" height="69" fill="#d3ff00"/>
<rect x="1921" y="2042" width="69" height="69" fill="#d4ff00"/>
<rect x="1988" y="2042" width="69" height="69" fill="#d4ff00"/>
<rect x="2055" y="2042" width="69" height="69" fill="#d5ff00"/>
<rect x="2123" y="2042" width="69" height="69" fill="#d7ff00"/>
<rect x="2190" y="2042" width="69" height="69" fill="#d7ff00"/>
<rect x="2257" y="2042" width="69" height="69" fill="#d7ff00"/>
<rect x="37" y="2109" width="69" height="69" fill="#abff00"/>
<rect x="105" y="2109" width="69" height="69" fill="#abff00"/>
<rect x="172" y="2109" width="69" height="69" fill="#abff00"/>
<rect x="239" y="2109" width="69" height="69" fill="#adff00"/>
<rect x="307" y="2109" width="69" height="69" fill="#aeff00"/>
<rect x="374" y="2109" width="69" height="69" fill="#b0ff00"/>
<rect x="441" y="2109" width="69" height="69" fill="#b2ff00"/>
<rect x="508" y="2109" width="69" height="69" fill="#b3ff00"/>
<rect x="576" y="2109" width="69" height="69" fill="#b5ff00"/>
<rect x="643" y="2109" width="69" height="69" fill="#b7ff00"/>
<rect x="710" y="2109" width="69" height="69" fill="#b8ff00"/>
<rect x="777" y="2109" width="69" height="69" fill="#b8ff00"/>
<rect x="845" y="2109" width="69" height="69" fill="#b7ff00"/>
<rect x="912" y="2109" width="69" height="69" fill="#b7ff00"/>
<rect x="979" y="2109" width="69" height="69" fill="#baff00"/>
<rect x="1046" y="2109" width="69" height="69" fill="#bdff00"/>
<rect x="1114" y="2109" width="69" height="69" fill="#c0ff00"/>
<rect x="1181" y="2109" width="69" height="69" fill="#c4ff00"/>
<rect x="1248" y="2109" width="69" height="69" fill="#c8ff00"/>
<rect x="1316" y="2109" width="69" height="69" fill="#ccff00"/>
<rect x="1383" y="2109" width="69" height="69" fill="#cdff00"/>
<rect x="1450" y="2109" width="69" height="69" fill="#ceff00"/>
<rect x="1517" y="2109" width="69" height="69" fill="#cfff00"/>
<rect x="1585" y="2109" width="69" height="69" fill="#cfff00"/>
<rect x="1652" y="2109" width="69" height="69" fill="#d0ff00"/>
<rect x="1719" y="2109" width="69" height="69" fill="#d1ff00"/>
<rect x="1786" y="2109" width="69" height="69" fill="#d2ff00"/>
<rect x="1854" y="2109" width="69" height="69" fill="#d3ff00"/>
<rect x="1921" y="2109" width="69" height="69" fill="#d4ff00"/>
<rect x="1988" y="2109" width="69" height="69" fill="#d4ff00"/>
<rect x="2055" y="2109" width="69" height="69" fill="#d5ff00"/>
<rect x="2123" y="2109" width="69" height="69" fill="#d7ff00"/>
<rect x="2190" y="2109" width="69" height="69" fill="#d7ff00"/>
<rect x="2257" y="2109" width="69" height="69" fill="#d7ff00"/>
</g>
<g filter="url(#blotblur)">
<rect x="1935" y="225" width="26" height="36" fill="#ffaa20" opacity="0.8"/>
<rect x="2061" y="166" width="32" height="36" fill="#ffaa20" opacity="0.8"/>
<rect x="2039" y="172" width="20" height="22" fill="#ff9614" opacity="0.8"/>
<rect x="1871" y="167" width="12" height="46" fill="#ffa41c" opacity="0.8"/>
<rect x="2141" y="179" width="32" height="22" fill="#ffaa20" opacity="0.8"/>
<rect x="2125" y="208" width="12" height="16" fill="#ff9c18" opacity="0.8"/>
<rect x="2107" y="139" width="26" height="28" fill="#ffa41c" opacity="0.8"/>
<rect x="1987" y="176" width="16" height="28" fill="#ffa41c" opacity="0.8"/>
<rect x="2063" y="201" width="20" height="36" fill="#ffaa20" opacity="0.8"/>
<rect x="2179" y="197" width="20" height="28" fill="#ff9c18" opacity="0.8"/>
<rect x="2011" y="199" width="32" height="16" fill="#ffa41c" opacity="0.8"/>
<rect x="2080" y="234" width="12" height="16" fill="#ff9614" opacity="0.8"/>
<rect x="2071" y="347" width="12" height="36" fill="#ffa41c" opacity="0.8"/>
<rect x="2108" y="192" width="12" height="46" fill="#ff9c18" opacity="0.8"/>
<rect x="2041" y="149" width="12" height="28" fill="#ff9010" opacity="0.8"/>
<rect x="2110" y="206" width="12" height="22" fill="#ff9c18" opacity="0.8"/>
<rect x="2027" y="191" width="26" height="36" fill="#ff9c18" opacity="0.8"/>
<rect x="2009" y="161" width="32" height="22" fill="#ff9c18" opacity="0.8"/>
<rect x="1963" y="232" width="26" height="36" fill="#ff9c18" opacity="0.8"/>
<rect x="2186" y="200" width="32" height="28" fill="#ff9614" opacity="0.8"/>
<rect x="2049" y="264" width="32" height="46" fill="#ff9614" opacity="0.8"/>
<rect x="2072" y="210" width="26" height="28" fill="#ff9614" opacity="0.8"/>
<rect x="2040" y="142" width="20" height="36" fill="#ff9614" opacity="0.8"/>
<rect x="2078" y="220" width="16" height="16" fill="#ffaa20" opacity="0.8"/>
<rect x="1956" y="268" width="16" height="46" fill="#ffa41c" opacity="0.8"/>
<rect x="2051" y="169" width="26" height="22" fill="#ff9c18" opacity="0.8"/>
<rect x="2009" y="244" width="32" height="22" fill="#ff9c18" opacity="0.8"/>
<rect x="2090" y="278" width="32" height="22" fill="#ffa41c" opacity="0.8"/>
<rect x="2108" y="139" width="26" height="16" fill="#ff9614" opacity="0.8"/>
<rect x="2102" y="250" width="20" height="22" fill="#ffa41c" opacity="0.8"/>
<rect x="2024" y="323" width="32" height="36" fill="#ff9010" opacity="0.8"/>
<rect x="1852" y="181" width="12" height="22" fill="#ff9c18" opacity="0.8"/>
<rect x="1917" y="212" width="32" height="46" fill="#ff9614" opacity="0.8"/>
<rect x="1997" y="345" width="16" height="16" fill="#ff9614" opacity="0.8"/>
<rect x="2020" y="271" width="12" height="16" fill="#ff9c18" opacity="0.8"/>
<rect x="2011" y="280" width="16" height="16" fill="#ff9010" opacity="0.8"/>
<rect x="2085" y="255" width="20" height="46" fill="#ffaa20" opacity="0.8"/>
<rect x="2128" y="171" width="12" height="36" fill="#ff9010" opacity="0.8"/>
<rect x="1969" y="39" width="12" height="46" fill="#ff9614" opacity="0.8"/>
<rect x="1904" y="212" width="20" height="22" fill="#ff9614" opacity="0.8"/>
<rect x="2117" y="238" width="12" height="22" fill="#ff9010" opacity="0.8"/>
<rect x="1959" y="280" width="12" height="36" fill="#ff9614" opacity="0.8"/>
<rect x="2097" y="135" width="32" height="36" fill="#ffa41c" opacity="0.8"/>
<rect x="1937" y="155" width="12" height="16" fill="#ff9614" opacity="0.8"/>
<rect x="2190" y="194" width="20" height="36" fill="#ffaa20" opacity="0.8"/>
<rect x="1946" y="219" width="32" height="16" fill="#ffaa20" opacity="0.8"/>
<rect x="2030" y="184" width="32" height="16" fill="#ffa41c" opacity="0.8"/>
<rect x="2224" y="223" width="12" height="36" fill="#ffaa20" opacity="0.8"/>
<rect x="1982" y="136" width="12" height="28" fill="#ff9010" opacity="0.8"/>
<rect x="2097" y="271" width="32" height="22" fill="#ff9010" opacity="0.8"/>
<rect x="1985" y="140" width="16" height="28" fill="#ffa41c" opacity="0.8"/>
<rect x="2004" y="162" width="26" height="22" fill="#ff9c18" opacity="0.8"/>
<rect x="1953" y="258" width="20" height="22" fill="#ff9c18" opacity="0.8"/>
<rect x="2078" y="246" width="12" height="16" fill="#ff9010" opacity="0.8"/>
<rect x="2047" y="171" width="26" height="28" fill="#ff9c18" opacity="0.8"/>
<rect x="2067" y="143" width="32" height="36" fill="#ff9010" opacity="0.8"/>
<rect x="1998" y="76" width="32" height="36" fill="#ff9010" opacity="0.8"/>
<rect x="2048" y="208" width="32" height="16" fill="#ff9010" opacity="0.8"/>
<rect x="1969" y="176" width="32" height="16" fill="#ff9c18" opacity="0.8"/>
<rect x="1988" y="224" width="20" height="22" fill="#ff9c18" opacity="0.8"/>
<rect x="2095" y="18" width="12" height="36" fill="#ff9614" opacity="0.8"/>
<rect x="1952" y="130" width="20" height="16" fill="#ff9c18" opacity="0.8"/>
<rect x="2058" y="271" width="16" height="16" fill="#ffa41c" opacity="0.8"/>
<rect x="2009" y="196" width="16" height="28" fill="#ff9010" opacity="0.8"/>
<rect x="1847" y="161" width="32" height="46" fill="#ff9c18" opacity="0.8"/>
<rect x="1922" y="273" width="16" height="16" fill="#ffa41c" opacity="0.8"/>
<rect x="2144" y="157" width="16" height="36" fill="#ffa41c" opacity="0.8"/>
<rect x="2083" y="330" width="12" height="36" fill="#ffaa20" opacity="0.8"/>
<rect x="1884" y="143" width="20" height="36" fill="#ff9010" opacity="0.8"/>
<rect x="1999" y="164" width="12" height="22" fill="#ff9c18" opacity="0.8"/>
<rect x="2207" y="91" width="20" height="46" fill="#ff9010" opacity="0.8"/>
<rect x="2021" y="305" width="12" height="28" fill="#ffaa20" opacity="0.8"/>
<rect x="2103" y="235" width="32" height="36" fill="#ff9010" opacity="0.8"/>
<rect x="2011" y="201" width="12" height="36" fill="#ff9614" opacity="0.8"/>
<rect x="2063" y="253" width="16" height="36" fill="#ff9c18" opacity="0.8"/>
<rect x="2198" y="200" width="32" height="36" fill="#ffa41c" opacity="0.8"/>
<rect x="1925" y="152" width="16" height="36" fill="#ffaa20" opacity="0.8"/>
<rect x="1893" y="155" width="32" height="22" fill="#ffaa20" opacity="0.8"/>
<rect x="1861" y="187" width="20" height="28" fill="#ffa41c" opacity="0.8"/>
<rect x="2181" y="163" width="32" height="22" fill="#ff9010" opacity="0.8"/>
<rect x="2151" y="60" width="32" height="28" fill="#ffaa20" opacity="0.8"/>
<rect x="1950" y="201" width="12" height="46" fill="#ff9614" opacity="0.8"/>
<rect x="2015" y="190" width="12" height="46" fill="#ffa41c" opacity="0.8"/>
<rect x="1804" y="146" width="12" height="36" fill="#ff9614" opacity="0.8"/>
<rect x="2020" y="177" width="32" height="36" fill="#ffa41c" opacity="0.8"/>
<rect x="2153" y="143" width="26" height="28" fill="#ff9c18" opacity="0.8"/>
<rect x="1990" y="206" width="26" height="36" fill="#ffaa20" opacity="0.8"/>
<rect x="2009" y="239" width="32" height="16" fill="#ff9010" opacity="0.8"/>
<rect x="2123" y="283" width="12" height="16" fill="#ff9c18" opacity="0.8"/>
<rect x="2037" y="208" width="20" height="28" fill="#ff9010" opacity="0.8"/>
<rect x="2033" y="278" width="26" height="46" fill="#ff9614" opacity="0.8"/>
<rect x="2095" y="126" width="16" height="46" fill="#ffa41c" opacity="0.8"/>
<rect x="2139" y="214" width="32" height="46" fill="#ff9c18" opacity="0.8"/>
<rect x="1879" y="169" width="32" height="22" fill="#ffaa20" opacity="0.8"/>
<rect x="2051" y="281" width="32" height="22" fill="#ff9c18" opacity="0.8"/>
<rect x="2124" y="153" width="20" height="22" fill="#ff9010" opacity="0.8"/>
<rect x="1899" y="116" width="16" height="22" fill="#ff9c18" opacity="0.8"/>
<rect x="2062" y="177" width="16" height="22" fill="#ff9614" opacity="0.8"/>
<rect x="2028" y="230" width="26" height="46" fill="#ff9c18" opacity="0.8"/>
<rect x="2063" y="288" width="12" height="16" fill="#ff9c18" opacity="0.8"/>
<rect x="1964" y="174" width="20" height="16" fill="#ffaa20" opacity="0.8"/>
<rect x="1983" y="155" width="16" height="16" fill="#ffa41c" opacity="0.8"/>
<rect x="2047" y="211" width="32" height="46" fill="#ffaa20" opacity="0.8"/>
<rect x="2104" y="158" width="16" height="22" fill="#ff9614" opacity="0.8"/>
<rect x="2073" y="321" width="20" height="16" fill="#ffaa20" opacity="0.8"/>
<rect x="2208" y="262" width="26" height="16" fill="#ff9614" opacity="0.8"/>
<rect x="1989" y="266" width="32" height="28" fill="#ffa41c" opacity="0.8"/>
<rect x="1913" y="295" width="12" height="22" fill="#ff9c18" opacity="0.8"/>
<rect x="1857" y="275" width="20" height="36" fill="#ff9c18" opacity="0.8"/>
<rect x="1881" y="237" width="12" height="28" fill="#ff9614" opacity="0.8"/>
<rect x="1927" y="179" width="26" height="46" fill="#ffaa20" opacity="0.8"/>
<rect x="1926" y="309" width="20" height="28" fill="#ff9010" opacity="0.8"/>
<rect x="1976" y="208" width="16" height="36" fill="#ff9c18" opacity="0.8"/>
<rect x="1988" y="190" width="20" height="36" fill="#ff9c18" opacity="0.8"/>
<rect x="1828" y="293" width="12" height="28" fill="#ff9010" opacity="0.8"/>
<rect x="1892" y="251" width="20" height="46" fill="#ff9614" opacity="0.8"/>
<rect x="1915" y="365" width="20" height="28" fill="#ff9c18" opacity="0.8"/>
<rect x="1862" y="197" width="32" height="16" fill="#ffa41c" opacity="0.8"/>
<rect x="1837" y="245" width="16" height="16" fill="#ffa41c" opacity="0.8"/>
<rect x="1912" y="249" width="32" height="16" fill="#ff9c18" opacity="0.8"/>
<rect x="1898" y="299" width="12" height="22" fill="#ffa41c" opacity="0.8"/>
<rect x="1942" y="253" width="20" height="28" fill="#ffaa20" opacity="0.8"/>
<rect x="1846" y="237" width="32" height="46" fill="#ff9614" opacity="0.8"/>
<rect x="1836" y="183" width="12" height="46" fill="#ffaa20" opacity="0.8"/>
<rect x="1834" y="146" width="26" height="22" fill="#ffa41c" opacity="0.8"/>
<rect x="1868" y="255" width="26" height="46" fill="#ffaa20" opacity="0.8"/>
<rect x="1853" y="221" width="26" height="36" fill="#ff9010" opacity="0.8"/>
<rect x="1828" y="239" width="20" height="46" fill="#ff9010" opacity="0.8"/>
<rect x="1857" y="254" width="20" height="28" fill="#ff9614" opacity="0.8"/>
<rect x="1940" y="253" width="12" height="22" fill="#ffa41c" opacity="0.8"/>
<rect x="1902" y="202" width="20" height="36" fill="#ff9614" opacity="0.8"/>
<rect x="1825" y="212" width="20" height="16" fill="#ff9c18" opacity="0.8"/>
<rect x="1844" y="273" width="16" height="16" fill="#ffaa20" opacity="0.8"/>
<rect x="1980" y="301" width="26" height="22" fill="#ff9c18" opacity="0.8"/>
<rect x="1879" y="236" width="32" height="36" fill="#ffa41c" opacity="0.8"/>
<rect x="1979" y="314" width="20" height="46" fill="#ff9c18" opacity="0.8"/>
<rect x="1941" y="287" width="26" height="36" fill="#ffaa20" opacity="0.8"/>
<rect x="1895" y="313" width="26" height="28" fill="#ffaa20" opacity="0.8"/>
<rect x="1912" y="226" width="20" height="22" fill="#ff9c18" opacity="0.8"/>
<rect x="1837" y="257" width="20" height="46" fill="#ffaa20" opacity="0.8"/>
<rect x="1925" y="218" width="32" height="46" fill="#ffaa20" opacity="0.8"/>
<rect x="1916" y="286" width="16" height="22" fill="#ff9c18" opacity="0.8"/>
<rect x="1821" y="249" width="16" height="16" fill="#ff9614" opacity="0.8"/>
<rect x="1862" y="152" width="12" height="46" fill="#ff9614" opacity="0.8"/>
<rect x="1874" y="186" width="12" height="16" fill="#ff9c18" opacity="0.8"/>
<rect x="1748" y="129" width="20" height="36" fill="#ffa41c" opacity="0.8"/>
<rect x="1790" y="185" width="26" height="22" fill="#ff9614" opacity="0.8"/>
<rect x="1839" y="101" width="32" height="22" fill="#ffa41c" opacity="0.8"/>
<rect x="1783" y="167" width="16" height="28" fill="#ff9c18" opacity="0.8"/>
<rect x="1728" y="31" width="20" height="28" fill="#ffaa20" opacity="0.8"/>
<rect x="1826" y="60" width="16" height="36" fill="#ff9010" opacity="0.8"/>
<rect x="1767" y="124" width="20" height="16" fill="#ffaa20" opacity="0.8"/>
<rect x="1880" y="181" width="26" height="36" fill="#ff9010" opacity="0.8"/>
<rect x="1823" y="144" width="20" height="22" fill="#ffaa20" opacity="0.8"/>
<rect x="1860" y="170" width="20" height="28" fill="#ff9c18" opacity="0.8"/>
<rect x="1835" y="219" width="20" height="28" fill="#ff9614" opacity="0.8"/>
<rect x="1794" y="196" width="32" height="28" fill="#ffa41c" opacity="0.8"/>
<rect x="1654" y="122" width="26" height="28" fill="#ff9c18" opacity="0.8"/>
<rect x="1718" y="216" width="32" height="22" fill="#ff9614" opacity="0.8"/>
<rect x="1787" y="185" width="20" height="36" fill="#ffaa20" opacity="0.8"/>
<rect x="1793" y="171" width="32" height="28" fill="#ffa41c" opacity="0.8"/>
<rect x="1721" y="127" width="32" height="22" fill="#ff9c18" opacity="0.8"/>
<rect x="1870" y="178" width="20" height="16" fill="#ff9c18" opacity="0.8"/>
<rect x="1753" y="144" width="32" height="28" fill="#ff9614" opacity="0.8"/>
<rect x="1763" y="79" width="12" height="46" fill="#ffaa20" opacity="0.8"/>
<rect x="1797" y="207" width="20" height="16" fill="#ff9010" opacity="0.8"/>
<rect x="1811" y="48" width="12" height="16" fill="#ff9c18" opacity="0.8"/>
<rect x="1901" y="201" width="26" height="22" fill="#ff9c18" opacity="0.8"/>
<rect x="1702" y="157" width="20" height="36" fill="#ffa41c" opacity="0.8"/>
<rect x="1762" y="220" width="20" height="22" fill="#ffa41c" opacity="0.8"/>
<rect x="1892" y="417" width="12" height="46" fill="#ff9614" opacity="0.8"/>
<rect x="1905" y="458" width="20" height="16" fill="#ffa41c" opacity="0.8"/>
<rect x="2063" y="323" width="32" height="16" fill="#ffaa20" opacity="0.8"/>
<rect x="1994" y="415" width="12" height="36" fill="#ffa41c" opacity="0.8"/>
<rect x="2039" y="392" width="16" height="36" fill="#ff9c18" opacity="0.8"/>
<rect x="1974" y="453" width="32" height="28" fill="#ff9010" opacity="0.8"/>
<rect x="2021" y="407" width="20" height="16" fill="#ff9010" opacity="0.8"/>
<rect x="1938" y="343" width="16" height="16" fill="#ffa41c" opacity="0.8"/>
<rect x="2068" y="416" width="12" height="28" fill="#ff9614" opacity="0.8"/>
<rect x="2018" y="453" width="32" height="22" fill="#ffaa20" opacity="0.8"/>
<rect x="1984" y="347" width="16" height="36" fill="#ff9c18" opacity="0.8"/>
<rect x="2048" y="380" width="20" height="46" fill="#ffaa20" opacity="0.8"/>
<rect x="1954" y="415" width="26" height="28" fill="#ffaa20" opacity="0.8"/>
<rect x="2004" y="389" width="16" height="36" fill="#ff9614" opacity="0.8"/>
<rect x="2007" y="435" width="26" height="46" fill="#ffaa20" opacity="0.8"/>
<rect x="2016" y="326" width="12" height="22" fill="#ff9614" opacity="0.8"/>
<rect x="2092" y="336" width="26" height="22" fill="#ffa41c" opacity="0.8"/>
<rect x="1972" y="393" width="16" height="28" fill="#ff9c18" opacity="0.8"/>
<rect x="1993" y="507" width="32" height="22" fill="#ffaa20" opacity="0.8"/>
<rect x="1992" y="469" width="16" height="46" fill="#ff9c18" opacity="0.8"/>
<rect x="2111" y="411" width="16" height="22" fill="#ff9614" opacity="0.8"/>
<rect x="1951" y="463" width="32" height="16" fill="#ffa41c" opacity="0.8"/>
<rect x="1991" y="391" width="32" height="46" fill="#ffaa20" opacity="0.8"/>
<rect x="1965" y="490" width="26" height="22" fill="#ff9614" opacity="0.8"/>
<rect x="2013" y="359" width="12" height="46" fill="#ffa41c" opacity="0.8"/>
<rect x="1965" y="405" width="20" height="28" fill="#ff9010" opacity="0.8"/>
<rect x="1937" y="444" width="26" height="16" fill="#ff9010" opacity="0.8"/>
<rect x="2018" y="572" width="26" height="36" fill="#ff9614" opacity="0.8"/>
<rect x="1997" y="554" width="26" height="36" fill="#ff9c18" opacity="0.8"/>
<rect x="1995" y="583" width="12" height="22" fill="#ffaa20" opacity="0.8"/>
<rect x="2029" y="615" width="32" height="28" fill="#ff9010" opacity="0.8"/>
<rect x="1563" y="52" width="12" height="28" fill="#ff9c18" opacity="0.8"/>
<rect x="1602" y="136" width="20" height="28" fill="#ff9010" opacity="0.8"/>
<rect x="1436" y="71" width="20" height="36" fill="#ffa41c" opacity="0.8"/>
<rect x="1599" y="99" width="12" height="22" fill="#ff9c18" opacity="0.8"/>
<rect x="1596" y="118" width="26" height="46" fill="#ff9614" opacity="0.8"/>
<rect x="1577" y="95" width="12" height="36" fill="#ffa41c" opacity="0.8"/>
<rect x="1570" y="63" width="26" height="46" fill="#ff9c18" opacity="0.8"/>
<rect x="1474" y="49" width="26" height="36" fill="#ff9010" opacity="0.8"/>
<rect x="1663" y="70" width="26" height="46" fill="#ff9010" opacity="0.8"/>
<rect x="1707" y="84" width="32" height="46" fill="#ff9614" opacity="0.8"/>
<rect x="1556" y="109" width="20" height="36" fill="#ff9614" opacity="0.8"/>
<rect x="1507" y="83" width="20" height="28" fill="#ff9614" opacity="0.8"/>
<rect x="1522" y="79" width="32" height="28" fill="#ffaa20" opacity="0.8"/>
<rect x="1572" y="131" width="32" height="22" fill="#ffaa20" opacity="0.8"/>
<rect x="1504" y="4" width="32" height="22" fill="#ffaa20" opacity="0.8"/>
<rect x="1771" y="83" width="16" height="16" fill="#ff9c18" opacity="0.8"/>
<rect x="1702" y="147" width="20" height="28" fill="#ff9614" opacity="0.8"/>
<rect x="1746" y="85" width="26" height="16" fill="#ffa41c" opacity="0.8"/>
<rect x="1729" y="97" width="32" height="46" fill="#ffaa20" opacity="0.8"/>
<rect x="1636" y="83" width="20" height="22" fill="#ff9010" opacity="0.8"/>
<rect x="1678" y="89" width="12" height="28" fill="#ff9010" opacity="0.8"/>
<rect x="1704" y="147" width="16" height="22" fill="#ffaa20" opacity="0.8"/>
<rect x="1679" y="96" width="12" height="36" fill="#ff9c18" opacity="0.8"/>
<rect x="1725" y="19" width="16" height="28" fill="#ffa41c" opacity="0.8"/>
<rect x="1642" y="66" width="12" height="22" fill="#ff9c18" opacity="0.8"/>
<rect x="1688" y="105" width="32" height="36" fill="#ff9614" opacity="0.8"/>
<rect x="1670" y="91" width="32" height="22" fill="#ff9010" opacity="0.8"/>
<rect x="1705" y="183" width="12" height="16" fill="#ff9c18" opacity="0.8"/>
<rect x="2075" y="186" width="12" height="36" fill="#ff9010" opacity="0.8"/>
<rect x="2067" y="190" width="32" height="36" fill="#ff9010" opacity="0.8"/>
<rect x="1994" y="166" width="26" height="36" fill="#ff9614" opacity="0.8"/>
<rect x="2038" y="103" width="32" height="28" fill="#ffaa20" opacity="0.8"/>
<rect x="2073" y="143" width="12" height="28" fill="#ff9614" opacity="0.8"/>
<rect x="2096" y="222" width="26" height="36" fill="#ffaa20" opacity="0.8"/>
<rect x="2082" y="236" width="32" height="16" fill="#ff9c18" opacity="0.8"/>
<rect x="2138" y="191" width="32" height="36" fill="#ff9614" opacity="0.8"/>
<rect x="2093" y="154" width="16" height="46" fill="#ff9010" opacity="0.8"/>
<rect x="2063" y="43" width="12" height="28" fill="#ffaa20" opacity="0.8"/>
<rect x="2053" y="196" width="16" height="36" fill="#ffaa20" opacity="0.8"/>
<rect x="2120" y="165" width="32" height="22" fill="#ff9614" opacity="0.8"/>
<rect x="2145" y="102" width="26" height="16" fill="#ff9010" opacity="0.8"/>
<rect x="2111" y="196" width="20" height="22" fill="#ff9614" opacity="0.8"/>
<rect x="2073" y="171" width="32" height="36" fill="#ff9c18" opacity="0.8"/>
<rect x="2080" y="206" width="12" height="28" fill="#ff9614" opacity="0.8"/>
<rect x="2080" y="163" width="20" height="36" fill="#ff9c18" opacity="0.8"/>
<rect x="2201" y="90" width="26" height="22" fill="#ff9c18" opacity="0.8"/>
<rect x="2087" y="267" width="12" height="22" fill="#ff9010" opacity="0.8"/>
<rect x="2128" y="107" width="26" height="16" fill="#ff9c18" opacity="0.8"/>
<rect x="2073" y="87" width="32" height="22" fill="#ffaa20" opacity="0.8"/>
<rect x="2094" y="124" width="12" height="16" fill="#ff9010" opacity="0.8"/>
<rect x="2105" y="104" width="20" height="36" fill="#ff9c18" opacity="0.8"/>
<rect x="2064" y="267" width="26" height="36" fill="#ff9614" opacity="0.8"/>
<rect x="2145" y="244" width="12" height="22" fill="#ff9010" opacity="0.8"/>
<rect x="2121" y="186" width="20" height="28" fill="#ff9010" opacity="0.8"/>
<rect x="2125" y="88" width="12" height="46" fill="#ffaa20" opacity="0.8"/>
<rect x="2114" y="195" width="16" height="22" fill="#ff9010" opacity="0.8"/>
<rect x="2146" y="209" width="26" height="16" fill="#ffa41c" opacity="0.8"/>
<rect x="2122" y="139" width="12" height="16" fill="#ffaa20" opacity="0.8"/>
<rect x="2072" y="115" width="26" height="46" fill="#ff9614" opacity="0.8"/>
<rect x="2165" y="288" width="16" height="22" fill="#ff9c18" opacity="0.8"/>
<rect x="2102" y="217" width="16" height="22" fill="#ff9614" opacity="0.8"/>
<rect x="1802" y="424" width="32" height="36" fill="#ff9614" opacity="0.8"/>
<rect x="1898" y="462" width="16" height="16" fill="#ffaa20" opacity="0.8"/>
<rect x="1873" y="402" width="20" height="36" fill="#ff9614" opacity="0.8"/>
<rect x="1818" y="476" width="32" height="46" fill="#ff9c18" opacity="0.8"/>
<rect x="1809" y="446" width="12" height="46" fill="#ffa41c" opacity="0.8"/>
<rect x="1864" y="519" width="20" height="22" fill="#ff9010" opacity="0.8"/>
<rect x="2043" y="731" width="32" height="46" fill="#ffa41c" opacity="0.8"/>
<rect x="2059" y="746" width="12" height="46" fill="#ffa41c" opacity="0.8"/>
<path d="M298,1062 C315,1050 335,1052 350,1048 C362,1044 375,1040 386,1046 L384,1058 C370,1062 355,1070 340,1072 C325,1076 310,1078 300,1076 Z" fill="#ff9a10"/>
</g>
</g>
<polygon points="740.5,772.8 1674.2,1318.3 1512.9,1548.0 577.3,998.8" fill="#fffefe"/>
<g fill="#ffcccc"><polygon points="743.1,1023.6 770.1,1039.3 751.2,1065.4 724.2,1049.6"/><polygon points="724.9,1048.7 751.9,1064.4 733.1,1090.5 706.1,1074.7"/><polygon points="769.0,1038.7 796.0,1054.5 777.2,1080.5 750.2,1064.8"/><polygon points="750.9,1063.8 777.9,1079.6 759.0,1105.7 732.0,1089.9"/><polygon points="813.1,1028.7 840.1,1044.5 821.2,1070.6 794.3,1054.8"/><polygon points="795.0,1053.9 821.9,1069.6 803.1,1095.7 776.1,1079.9"/><polygon points="776.8,1079.0 803.8,1094.7 785.0,1120.8 758.0,1105.1"/><polygon points="839.0,1043.9 866.0,1059.7 847.2,1085.7 820.2,1070.0"/><polygon points="820.9,1069.0 847.9,1084.8 829.0,1110.9 802.1,1095.1"/><polygon points="802.8,1094.1 829.7,1109.9 810.9,1136.0 783.9,1120.2"/><polygon points="883.1,1033.9 910.1,1049.7 891.2,1075.8 864.3,1060.0"/><polygon points="865.0,1059.1 891.9,1074.8 873.1,1100.9 846.1,1085.1"/><polygon points="846.8,1084.2 873.8,1099.9 855.0,1126.0 828.0,1110.2"/><polygon points="828.7,1109.3 855.7,1125.0 836.8,1151.1 809.9,1135.4"/><polygon points="909.0,1049.1 936.0,1064.9 917.2,1090.9 890.2,1075.2"/><polygon points="890.9,1074.2 917.9,1090.0 899.0,1116.0 872.1,1100.3"/><polygon points="872.8,1099.3 899.7,1115.1 880.9,1141.2 853.9,1125.4"/><polygon points="854.6,1124.4 881.6,1140.2 862.8,1166.3 835.8,1150.5"/><polygon points="953.1,1039.1 980.1,1054.9 961.2,1081.0 934.3,1065.2"/><polygon points="935.0,1064.2 961.9,1080.0 943.1,1106.1 916.1,1090.3"/><polygon points="916.8,1089.4 943.8,1105.1 925.0,1131.2 898.0,1115.4"/><polygon points="898.7,1114.5 925.7,1130.2 906.8,1156.3 879.9,1140.6"/><polygon points="880.6,1139.6 907.5,1155.3 888.7,1181.4 861.7,1165.7"/><polygon points="979.0,1054.3 1006.0,1070.0 987.2,1096.1 960.2,1080.4"/><polygon points="960.9,1079.4 987.9,1095.2 969.0,1121.2 942.1,1105.5"/><polygon points="942.8,1104.5 969.7,1120.3 950.9,1146.4 923.9,1130.6"/><polygon points="924.6,1129.6 951.6,1145.4 932.8,1171.5 905.8,1155.7"/><polygon points="906.5,1154.7 933.5,1170.5 914.6,1196.6 887.7,1180.8"/><polygon points="1005.0,1069.4 1031.9,1085.2 1013.1,1111.3 986.1,1095.5"/><polygon points="986.8,1094.6 1013.8,1110.3 995.0,1136.4 968.0,1120.6"/><polygon points="968.7,1119.7 995.7,1135.4 976.8,1161.5 949.9,1145.7"/><polygon points="950.6,1144.8 977.5,1160.5 958.7,1186.6 931.7,1170.9"/><polygon points="932.4,1169.9 959.4,1185.6 940.6,1211.7 913.6,1196.0"/><polygon points="1030.9,1084.6 1057.9,1100.4 1039.0,1126.4 1012.1,1110.7"/><polygon points="1012.8,1109.7 1039.7,1125.5 1020.9,1151.5 993.9,1135.8"/><polygon points="994.6,1134.8 1021.6,1150.6 1002.8,1176.7 975.8,1160.9"/><polygon points="976.5,1159.9 1003.5,1175.7 984.6,1201.8 957.7,1186.0"/><polygon points="958.4,1185.0 985.3,1200.8 966.5,1226.9 939.5,1211.1"/><polygon points="1075.0,1074.6 1101.9,1090.4 1083.1,1116.5 1056.1,1100.7"/><polygon points="1056.8,1099.7 1083.8,1115.5 1065.0,1141.6 1038.0,1125.8"/><polygon points="1038.7,1124.9 1065.7,1140.6 1046.8,1166.7 1019.9,1150.9"/><polygon points="1020.6,1150.0 1047.5,1165.7 1028.7,1191.8 1001.7,1176.1"/><polygon points="1002.4,1175.1 1029.4,1190.8 1010.6,1216.9 983.6,1201.2"/><polygon points="984.3,1200.2 1011.3,1215.9 992.4,1242.0 965.5,1226.3"/><polygon points="1100.9,1089.8 1127.9,1105.5 1109.0,1131.6 1082.1,1115.9"/><polygon points="1082.8,1114.9 1109.7,1130.7 1090.9,1156.7 1063.9,1141.0"/><polygon points="1064.6,1140.0 1091.6,1155.8 1072.8,1181.9 1045.8,1166.1"/><polygon points="1046.5,1165.1 1073.5,1180.9 1054.6,1207.0 1027.7,1191.2"/><polygon points="1028.4,1190.2 1055.3,1206.0 1036.5,1232.1 1009.5,1216.3"/><polygon points="1010.2,1215.3 1037.2,1231.1 1018.4,1257.2 991.4,1241.4"/><polygon points="1126.8,1104.9 1153.8,1120.7 1135.0,1146.8 1108.0,1131.0"/><polygon points="1108.7,1130.1 1135.7,1145.8 1116.9,1171.9 1089.9,1156.1"/><polygon points="1090.6,1155.2 1117.6,1170.9 1098.7,1197.0 1071.7,1181.2"/><polygon points="1072.4,1180.3 1099.4,1196.0 1080.6,1222.1 1053.6,1206.4"/><polygon points="1054.3,1205.4 1081.3,1221.1 1062.5,1247.2 1035.5,1231.5"/><polygon points="1036.2,1230.5 1063.2,1246.3 1044.3,1272.3 1017.3,1256.6"/><polygon points="1170.9,1095.0 1197.9,1110.7 1179.1,1136.8 1152.1,1121.1"/><polygon points="1152.8,1120.1 1179.8,1135.9 1160.9,1161.9 1133.9,1146.2"/><polygon points="1134.6,1145.2 1161.6,1161.0 1142.8,1187.0 1115.8,1171.3"/><polygon points="1116.5,1170.3 1143.5,1186.1 1124.7,1212.2 1097.7,1196.4"/><polygon points="1098.4,1195.4 1125.4,1211.2 1106.5,1237.3 1079.5,1221.5"/><polygon points="1080.2,1220.5 1107.2,1236.3 1088.4,1262.4 1061.4,1246.6"/><polygon points="1062.1,1245.6 1089.1,1261.4 1070.3,1287.5 1043.3,1271.7"/><polygon points="1196.9,1110.1 1223.8,1125.9 1205.0,1152.0 1178.0,1136.2"/><polygon points="1178.7,1135.2 1205.7,1151.0 1186.9,1177.1 1159.9,1161.3"/><polygon points="1160.6,1160.4 1187.6,1176.1 1168.7,1202.2 1141.8,1186.4"/><polygon points="1142.5,1185.5 1169.4,1201.2 1150.6,1227.3 1123.6,1211.6"/><polygon points="1124.3,1210.6 1151.3,1226.3 1132.5,1252.4 1105.5,1236.7"/><polygon points="1106.2,1235.7 1133.2,1251.4 1114.3,1277.5 1087.4,1261.8"/><polygon points="1088.1,1260.8 1115.0,1276.6 1096.2,1302.6 1069.2,1286.9"/><polygon points="1222.8,1125.3 1249.8,1141.0 1230.9,1167.1 1204.0,1151.4"/><polygon points="1204.7,1150.4 1231.6,1166.2 1212.8,1192.2 1185.8,1176.5"/><polygon points="1186.5,1175.5 1213.5,1191.3 1194.7,1217.4 1167.7,1201.6"/><polygon points="1168.4,1200.6 1195.4,1216.4 1176.5,1242.5 1149.6,1226.7"/><polygon points="1150.3,1225.7 1177.2,1241.5 1158.4,1267.6 1131.4,1251.8"/><polygon points="1132.1,1250.8 1159.1,1266.6 1140.3,1292.7 1113.3,1276.9"/><polygon points="1114.0,1276.0 1141.0,1291.7 1122.1,1317.8 1095.2,1302.0"/><polygon points="1248.7,1140.4 1275.7,1156.2 1256.9,1182.3 1229.9,1166.5"/><polygon points="1230.6,1165.6 1257.6,1181.3 1238.7,1207.4 1211.8,1191.6"/><polygon points="1212.5,1190.7 1239.4,1206.4 1220.6,1232.5 1193.6,1216.7"/><polygon points="1194.3,1215.8 1221.3,1231.5 1202.5,1257.6 1175.5,1241.9"/><polygon points="1176.2,1240.9 1203.2,1256.6 1184.3,1282.7 1157.4,1267.0"/><polygon points="1158.1,1266.0 1185.0,1281.8 1166.2,1307.8 1139.2,1292.1"/><polygon points="1139.9,1291.1 1166.9,1306.9 1148.1,1333.0 1121.1,1317.2"/><polygon points="1274.7,1155.6 1301.6,1171.4 1282.8,1197.4 1255.8,1181.7"/><polygon points="1256.5,1180.7 1283.5,1196.5 1264.7,1222.5 1237.7,1206.8"/><polygon points="1238.4,1205.8 1265.4,1221.6 1246.5,1247.7 1219.6,1231.9"/><polygon points="1220.3,1230.9 1247.2,1246.7 1228.4,1272.8 1201.4,1257.0"/><polygon points="1202.1,1256.0 1229.1,1271.8 1210.3,1297.9 1183.3,1282.1"/><polygon points="1184.0,1281.1 1211.0,1296.9 1192.1,1323.0 1165.2,1307.2"/><polygon points="1165.9,1306.3 1192.8,1322.0 1174.0,1348.1 1147.0,1332.3"/><polygon points="1300.6,1170.7 1327.6,1186.5 1308.7,1212.6 1281.8,1196.8"/><polygon points="1282.5,1195.9 1309.4,1211.6 1290.6,1237.7 1263.6,1221.9"/><polygon points="1264.3,1221.0 1291.3,1236.7 1272.5,1262.8 1245.5,1247.1"/><polygon points="1246.2,1246.1 1273.2,1261.8 1254.3,1287.9 1227.4,1272.2"/><polygon points="1228.1,1271.2 1255.0,1286.9 1236.2,1313.0 1209.2,1297.3"/><polygon points="1209.9,1296.3 1236.9,1312.1 1218.1,1338.1 1191.1,1322.4"/><polygon points="1191.8,1321.4 1218.8,1337.2 1199.9,1363.3 1173.0,1347.5"/><polygon points="1326.5,1185.9 1353.5,1201.7 1334.7,1227.7 1307.7,1212.0"/><polygon points="1308.4,1211.0 1335.4,1226.8 1316.5,1252.9 1289.6,1237.1"/><polygon points="1290.3,1236.1 1317.2,1251.9 1298.4,1278.0 1271.4,1262.2"/><polygon points="1272.1,1261.2 1299.1,1277.0 1280.3,1303.1 1253.3,1287.3"/><polygon points="1254.0,1286.3 1281.0,1302.1 1262.1,1328.2 1235.2,1312.4"/><polygon points="1235.9,1311.5 1262.8,1327.2 1244.0,1353.3 1217.0,1337.5"/><polygon points="1217.7,1336.6 1244.7,1352.3 1225.9,1378.4 1198.9,1362.7"/><polygon points="1334.3,1226.2 1361.3,1241.9 1342.5,1268.0 1315.5,1252.2"/><polygon points="1316.2,1251.3 1343.2,1267.0 1324.3,1293.1 1297.4,1277.4"/><polygon points="1298.1,1276.4 1325.0,1292.1 1306.2,1318.2 1279.2,1302.5"/><polygon points="1279.9,1301.5 1306.9,1317.3 1288.1,1343.3 1261.1,1327.6"/><polygon points="1261.8,1326.6 1288.8,1342.4 1269.9,1368.5 1243.0,1352.7"/><polygon points="1243.7,1351.7 1270.6,1367.5 1251.8,1393.6 1224.8,1377.8"/><polygon points="1342.1,1266.4 1369.1,1282.2 1350.3,1308.3 1323.3,1292.5"/><polygon points="1324.0,1291.5 1351.0,1307.3 1332.1,1333.4 1305.2,1317.6"/><polygon points="1305.9,1316.6 1332.8,1332.4 1314.0,1358.5 1287.0,1342.7"/><polygon points="1287.7,1341.8 1314.7,1357.5 1295.9,1383.6 1268.9,1367.8"/><polygon points="1269.6,1366.9 1296.6,1382.6 1277.7,1408.7 1250.8,1393.0"/><polygon points="1349.9,1306.7 1376.9,1322.4 1358.1,1348.5 1331.1,1332.8"/><polygon points="1331.8,1331.8 1358.8,1347.6 1339.9,1373.6 1313.0,1357.9"/><polygon points="1313.7,1356.9 1340.6,1372.7 1321.8,1398.8 1294.8,1383.0"/><polygon points="1295.5,1382.0 1322.5,1397.8 1303.7,1423.9 1276.7,1408.1"/><polygon points="1375.9,1321.8 1402.8,1337.6 1384.0,1363.7 1357.0,1347.9"/><polygon points="1357.7,1347.0 1384.7,1362.7 1365.9,1388.8 1338.9,1373.0"/><polygon points="1339.6,1372.1 1366.6,1387.8 1347.7,1413.9 1320.8,1398.2"/><polygon points="1321.5,1397.2 1348.4,1412.9 1329.6,1439.0 1302.6,1423.3"/><polygon points="1383.7,1362.1 1410.7,1377.9 1391.8,1404.0 1364.8,1388.2"/><polygon points="1365.5,1387.2 1392.5,1403.0 1373.7,1429.1 1346.7,1413.3"/><polygon points="1347.4,1412.3 1374.4,1428.1 1355.6,1454.2 1328.6,1438.4"/><polygon points="1409.6,1377.3 1436.6,1393.0 1417.8,1419.1 1390.8,1403.3"/><polygon points="1391.5,1402.4 1418.5,1418.1 1399.6,1444.2 1372.6,1428.5"/><polygon points="1373.3,1427.5 1400.3,1443.2 1381.5,1469.3 1354.5,1453.6"/></g>
<g fill="#ff9999"><polygon points="750.9,1063.8 777.9,1079.6 759.0,1105.7 732.0,1089.9"/><polygon points="795.0,1053.9 821.9,1069.6 803.1,1095.7 776.1,1079.9"/><polygon points="776.8,1079.0 803.8,1094.7 785.0,1120.8 758.0,1105.1"/><polygon points="839.0,1043.9 866.0,1059.7 847.2,1085.7 820.2,1070.0"/><polygon points="820.9,1069.0 847.9,1084.8 829.0,1110.9 802.1,1095.1"/><polygon points="802.8,1094.1 829.7,1109.9 810.9,1136.0 783.9,1120.2"/><polygon points="865.0,1059.1 891.9,1074.8 873.1,1100.9 846.1,1085.1"/><polygon points="846.8,1084.2 873.8,1099.9 855.0,1126.0 828.0,1110.2"/><polygon points="828.7,1109.3 855.7,1125.0 836.8,1151.1 809.9,1135.4"/><polygon points="890.9,1074.2 917.9,1090.0 899.0,1116.0 872.1,1100.3"/><polygon points="872.8,1099.3 899.7,1115.1 880.9,1141.2 853.9,1125.4"/><polygon points="854.6,1124.4 881.6,1140.2 862.8,1166.3 835.8,1150.5"/><polygon points="935.0,1064.2 961.9,1080.0 943.1,1106.1 916.1,1090.3"/><polygon points="916.8,1089.4 943.8,1105.1 925.0,1131.2 898.0,1115.4"/><polygon points="898.7,1114.5 925.7,1130.2 906.8,1156.3 879.9,1140.6"/><polygon points="880.6,1139.6 907.5,1155.3 888.7,1181.4 861.7,1165.7"/><polygon points="960.9,1079.4 987.9,1095.2 969.0,1121.2 942.1,1105.5"/><polygon points="942.8,1104.5 969.7,1120.3 950.9,1146.4 923.9,1130.6"/><polygon points="924.6,1129.6 951.6,1145.4 932.8,1171.5 905.8,1155.7"/><polygon points="906.5,1154.7 933.5,1170.5 914.6,1196.6 887.7,1180.8"/><polygon points="1005.0,1069.4 1031.9,1085.2 1013.1,1111.3 986.1,1095.5"/><polygon points="986.8,1094.6 1013.8,1110.3 995.0,1136.4 968.0,1120.6"/><polygon points="968.7,1119.7 995.7,1135.4 976.8,1161.5 949.9,1145.7"/><polygon points="950.6,1144.8 977.5,1160.5 958.7,1186.6 931.7,1170.9"/><polygon points="932.4,1169.9 959.4,1185.6 940.6,1211.7 913.6,1196.0"/><polygon points="1030.9,1084.6 1057.9,1100.4 1039.0,1126.4 1012.1,1110.7"/><polygon points="1012.8,1109.7 1039.7,1125.5 1020.9,1151.5 993.9,1135.8"/><polygon points="994.6,1134.8 1021.6,1150.6 1002.8,1176.7 975.8,1160.9"/><polygon points="976.5,1159.9 1003.5,1175.7 984.6,1201.8 957.7,1186.0"/><polygon points="958.4,1185.0 985.3,1200.8 966.5,1226.9 939.5,1211.1"/><polygon points="1056.8,1099.7 1083.8,1115.5 1065.0,1141.6 1038.0,1125.8"/><polygon points="1038.7,1124.9 1065.7,1140.6 1046.8,1166.7 1019.9,1150.9"/><polygon points="1020.6,1150.0 1047.5,1165.7 1028.7,1191.8 1001.7,1176.1"/><polygon points="1002.4,1175.1 1029.4,1190.8 1010.6,1216.9 983.6,1201.2"/><polygon points="984.3,1200.2 1011.3,1215.9 992.4,1242.0 965.5,1226.3"/><polygon points="1082.8,1114.9 1109.7,1130.7 1090.9,1156.7 1063.9,1141.0"/><polygon points="1064.6,1140.0 1091.6,1155.8 1072.8,1181.9 1045.8,1166.1"/><polygon points="1046.5,1165.1 1073.5,1180.9 1054.6,1207.0 1027.7,1191.2"/><polygon points="1028.4,1190.2 1055.3,1206.0 1036.5,1232.1 1009.5,1216.3"/><polygon points="1010.2,1215.3 1037.2,1231.1 1018.4,1257.2 991.4,1241.4"/><polygon points="1126.8,1104.9 1153.8,1120.7 1135.0,1146.8 1108.0,1131.0"/><polygon points="1108.7,1130.1 1135.7,1145.8 1116.9,1171.9 1089.9,1156.1"/><polygon points="1090.6,1155.2 1117.6,1170.9 1098.7,1197.0 1071.7,1181.2"/><polygon points="1072.4,1180.3 1099.4,1196.0 1080.6,1222.1 1053.6,1206.4"/><polygon points="1054.3,1205.4 1081.3,1221.1 1062.5,1247.2 1035.5,1231.5"/><polygon points="1036.2,1230.5 1063.2,1246.3 1044.3,1272.3 1017.3,1256.6"/><polygon points="1152.8,1120.1 1179.8,1135.9 1160.9,1161.9 1133.9,1146.2"/><polygon points="1134.6,1145.2 1161.6,1161.0 1142.8,1187.0 1115.8,1171.3"/><polygon points="1116.5,1170.3 1143.5,1186.1 1124.7,1212.2 1097.7,1196.4"/><polygon points="1098.4,1195.4 1125.4,1211.2 1106.5,1237.3 1079.5,1221.5"/><polygon points="1080.2,1220.5 1107.2,1236.3 1088.4,1262.4 1061.4,1246.6"/><polygon points="1062.1,1245.6 1089.1,1261.4 1070.3,1287.5 1043.3,1271.7"/><polygon points="1178.7,1135.2 1205.7,1151.0 1186.9,1177.1 1159.9,1161.3"/><polygon points="1160.6,1160.4 1187.6,1176.1 1168.7,1202.2 1141.8,1186.4"/><polygon points="1142.5,1185.5 1169.4,1201.2 1150.6,1227.3 1123.6,1211.6"/><polygon points="1124.3,1210.6 1151.3,1226.3 1132.5,1252.4 1105.5,1236.7"/><polygon points="1106.2,1235.7 1133.2,1251.4 1114.3,1277.5 1087.4,1261.8"/><polygon points="1088.1,1260.8 1115.0,1276.6 1096.2,1302.6 1069.2,1286.9"/><polygon points="1222.8,1125.3 1249.8,1141.0 1230.9,1167.1 1204.0,1151.4"/><polygon points="1204.7,1150.4 1231.6,1166.2 1212.8,1192.2 1185.8,1176.5"/><polygon points="1186.5,1175.5 1213.5,1191.3 1194.7,1217.4 1167.7,1201.6"/><polygon points="1168.4,1200.6 1195.4,1216.4 1176.5,1242.5 1149.6,1226.7"/><polygon points="1150.3,1225.7 1177.2,1241.5 1158.4,1267.6 1131.4,1251.8"/><polygon points="1132.1,1250.8 1159.1,1266.6 1140.3,1292.7 1113.3,1276.9"/><polygon points="1114.0,1276.0 1141.0,1291.7 1122.1,1317.8 1095.2,1302.0"/><polygon points="1248.7,1140.4 1275.7,1156.2 1256.9,1182.3 1229.9,1166.5"/><polygon points="1230.6,1165.6 1257.6,1181.3 1238.7,1207.4 1211.8,1191.6"/><polygon points="1212.5,1190.7 1239.4,1206.4 1220.6,1232.5 1193.6,1216.7"/><polygon points="1194.3,1215.8 1221.3,1231.5 1202.5,1257.6 1175.5,1241.9"/><polygon points="1176.2,1240.9 1203.2,1256.6 1184.3,1282.7 1157.4,1267.0"/><polygon points="1158.1,1266.0 1185.0,1281.8 1166.2,1307.8 1139.2,1292.1"/><polygon points="1139.9,1291.1 1166.9,1306.9 1148.1,1333.0 1121.1,1317.2"/><polygon points="1256.5,1180.7 1283.5,1196.5 1264.7,1222.5 1237.7,1206.8"/><polygon points="1238.4,1205.8 1265.4,1221.6 1246.5,1247.7 1219.6,1231.9"/><polygon points="1220.3,1230.9 1247.2,1246.7 1228.4,1272.8 1201.4,1257.0"/><polygon points="1202.1,1256.0 1229.1,1271.8 1210.3,1297.9 1183.3,1282.1"/><polygon points="1184.0,1281.1 1211.0,1296.9 1192.1,1323.0 1165.2,1307.2"/><polygon points="1165.9,1306.3 1192.8,1322.0 1174.0,1348.1 1147.0,1332.3"/><polygon points="1282.5,1195.9 1309.4,1211.6 1290.6,1237.7 1263.6,1221.9"/><polygon points="1264.3,1221.0 1291.3,1236.7 1272.5,1262.8 1245.5,1247.1"/><polygon points="1246.2,1246.1 1273.2,1261.8 1254.3,1287.9 1227.4,1272.2"/><polygon points="1228.1,1271.2 1255.0,1286.9 1236.2,1313.0 1209.2,1297.3"/><polygon points="1209.9,1296.3 1236.9,1312.1 1218.1,1338.1 1191.1,1322.4"/><polygon points="1191.8,1321.4 1218.8,1337.2 1199.9,1363.3 1173.0,1347.5"/><polygon points="1290.3,1236.1 1317.2,1251.9 1298.4,1278.0 1271.4,1262.2"/><polygon points="1272.1,1261.2 1299.1,1277.0 1280.3,1303.1 1253.3,1287.3"/><polygon points="1254.0,1286.3 1281.0,1302.1 1262.1,1328.2 1235.2,1312.4"/><polygon points="1235.9,1311.5 1262.8,1327.2 1244.0,1353.3 1217.0,1337.5"/><polygon points="1217.7,1336.6 1244.7,1352.3 1225.9,1378.4 1198.9,1362.7"/><polygon points="1298.1,1276.4 1325.0,1292.1 1306.2,1318.2 1279.2,1302.5"/><polygon points="1279.9,1301.5 1306.9,1317.3 1288.1,1343.3 1261.1,1327.6"/><polygon points="1261.8,1326.6 1288.8,1342.4 1269.9,1368.5 1243.0,1352.7"/><polygon points="1243.7,1351.7 1270.6,1367.5 1251.8,1393.6 1224.8,1377.8"/><polygon points="1324.0,1291.5 1351.0,1307.3 1332.1,1333.4 1305.2,1317.6"/><polygon points="1305.9,1316.6 1332.8,1332.4 1314.0,1358.5 1287.0,1342.7"/><polygon points="1287.7,1341.8 1314.7,1357.5 1295.9,1383.6 1268.9,1367.8"/><polygon points="1269.6,1366.9 1296.6,1382.6 1277.7,1408.7 1250.8,1393.0"/><polygon points="1331.8,1331.8 1358.8,1347.6 1339.9,1373.6 1313.0,1357.9"/><polygon points="1313.7,1356.9 1340.6,1372.7 1321.8,1398.8 1294.8,1383.0"/><polygon points="1295.5,1382.0 1322.5,1397.8 1303.7,1423.9 1276.7,1408.1"/><polygon points="1357.7,1347.0 1384.7,1362.7 1365.9,1388.8 1338.9,1373.0"/><polygon points="1339.6,1372.1 1366.6,1387.8 1347.7,1413.9 1320.8,1398.2"/><polygon points="1321.5,1397.2 1348.4,1412.9 1329.6,1439.0 1302.6,1423.3"/></g>
<g fill="#ff6666"><polygon points="846.8,1084.2 873.8,1099.9 855.0,1126.0 828.0,1110.2"/><polygon points="828.7,1109.3 855.7,1125.0 836.8,1151.1 809.9,1135.4"/><polygon points="872.8,1099.3 899.7,1115.1 880.9,1141.2 853.9,1125.4"/><polygon points="854.6,1124.4 881.6,1140.2 862.8,1166.3 835.8,1150.5"/><polygon points="916.8,1089.4 943.8,1105.1 925.0,1131.2 898.0,1115.4"/><polygon points="898.7,1114.5 925.7,1130.2 906.8,1156.3 879.9,1140.6"/><polygon points="880.6,1139.6 907.5,1155.3 888.7,1181.4 861.7,1165.7"/><polygon points="942.8,1104.5 969.7,1120.3 950.9,1146.4 923.9,1130.6"/><polygon points="924.6,1129.6 951.6,1145.4 932.8,1171.5 905.8,1155.7"/><polygon points="906.5,1154.7 933.5,1170.5 914.6,1196.6 887.7,1180.8"/><polygon points="986.8,1094.6 1013.8,1110.3 995.0,1136.4 968.0,1120.6"/><polygon points="968.7,1119.7 995.7,1135.4 976.8,1161.5 949.9,1145.7"/><polygon points="950.6,1144.8 977.5,1160.5 958.7,1186.6 931.7,1170.9"/><polygon points="932.4,1169.9 959.4,1185.6 940.6,1211.7 913.6,1196.0"/><polygon points="1012.8,1109.7 1039.7,1125.5 1020.9,1151.5 993.9,1135.8"/><polygon points="994.6,1134.8 1021.6,1150.6 1002.8,1176.7 975.8,1160.9"/><polygon points="976.5,1159.9 1003.5,1175.7 984.6,1201.8 957.7,1186.0"/><polygon points="958.4,1185.0 985.3,1200.8 966.5,1226.9 939.5,1211.1"/><polygon points="1038.7,1124.9 1065.7,1140.6 1046.8,1166.7 1019.9,1150.9"/><polygon points="1020.6,1150.0 1047.5,1165.7 1028.7,1191.8 1001.7,1176.1"/><polygon points="1002.4,1175.1 1029.4,1190.8 1010.6,1216.9 983.6,1201.2"/><polygon points="984.3,1200.2 1011.3,1215.9 992.4,1242.0 965.5,1226.3"/><polygon points="1082.8,1114.9 1109.7,1130.7 1090.9,1156.7 1063.9,1141.0"/><polygon points="1064.6,1140.0 1091.6,1155.8 1072.8,1181.9 1045.8,1166.1"/><polygon points="1046.5,1165.1 1073.5,1180.9 1054.6,1207.0 1027.7,1191.2"/><polygon points="1028.4,1190.2 1055.3,1206.0 1036.5,1232.1 1009.5,1216.3"/><polygon points="1010.2,1215.3 1037.2,1231.1 1018.4,1257.2 991.4,1241.4"/><polygon points="1108.7,1130.1 1135.7,1145.8 1116.9,1171.9 1089.9,1156.1"/><polygon points="1090.6,1155.2 1117.6,1170.9 1098.7,1197.0 1071.7,1181.2"/><polygon points="1072.4,1180.3 1099.4,1196.0 1080.6,1222.1 1053.6,1206.4"/><polygon points="1054.3,1205.4 1081.3,1221.1 1062.5,1247.2 1035.5,1231.5"/><polygon points="1036.2,1230.5 1063.2,1246.3 1044.3,1272.3 1017.3,1256.6"/><polygon points="1134.6,1145.2 1161.6,1161.0 1142.8,1187.0 1115.8,1171.3"/><polygon points="1116.5,1170.3 1143.5,1186.1 1124.7,1212.2 1097.7,1196.4"/><polygon points="1098.4,1195.4 1125.4,1211.2 1106.5,1237.3 1079.5,1221.5"/><polygon points="1080.2,1220.5 1107.2,1236.3 1088.4,1262.4 1061.4,1246.6"/><polygon points="1062.1,1245.6 1089.1,1261.4 1070.3,1287.5 1043.3,1271.7"/><polygon points="1160.6,1160.4 1187.6,1176.1 1168.7,1202.2 1141.8,1186.4"/><polygon points="1142.5,1185.5 1169.4,1201.2 1150.6,1227.3 1123.6,1211.6"/><polygon points="1124.3,1210.6 1151.3,1226.3 1132.5,1252.4 1105.5,1236.7"/><polygon points="1106.2,1235.7 1133.2,1251.4 1114.3,1277.5 1087.4,1261.8"/><polygon points="1088.1,1260.8 1115.0,1276.6 1096.2,1302.6 1069.2,1286.9"/><polygon points="1186.5,1175.5 1213.5,1191.3 1194.7,1217.4 1167.7,1201.6"/><polygon points="1168.4,1200.6 1195.4,1216.4 1176.5,1242.5 1149.6,1226.7"/><polygon points="1150.3,1225.7 1177.2,1241.5 1158.4,1267.6 1131.4,1251.8"/><polygon points="1132.1,1250.8 1159.1,1266.6 1140.3,1292.7 1113.3,1276.9"/><polygon points="1114.0,1276.0 1141.0,1291.7 1122.1,1317.8 1095.2,1302.0"/><polygon points="1212.5,1190.7 1239.4,1206.4 1220.6,1232.5 1193.6,1216.7"/><polygon points="1194.3,1215.8 1221.3,1231.5 1202.5,1257.6 1175.5,1241.9"/><polygon points="1176.2,1240.9 1203.2,1256.6 1184.3,1282.7 1157.4,1267.0"/><polygon points="1158.1,1266.0 1185.0,1281.8 1166.2,1307.8 1139.2,1292.1"/><polygon points="1139.9,1291.1 1166.9,1306.9 1148.1,1333.0 1121.1,1317.2"/><polygon points="1220.3,1230.9 1247.2,1246.7 1228.4,1272.8 1201.4,1257.0"/><polygon points="1202.1,1256.0 1229.1,1271.8 1210.3,1297.9 1183.3,1282.1"/><polygon points="1184.0,1281.1 1211.0,1296.9 1192.1,1323.0 1165.2,1307.2"/><polygon points="1165.9,1306.3 1192.8,1322.0 1174.0,1348.1 1147.0,1332.3"/><polygon points="1246.2,1246.1 1273.2,1261.8 1254.3,1287.9 1227.4,1272.2"/><polygon points="1228.1,1271.2 1255.0,1286.9 1236.2,1313.0 1209.2,1297.3"/><polygon points="1209.9,1296.3 1236.9,1312.1 1218.1,1338.1 1191.1,1322.4"/><polygon points="1191.8,1321.4 1218.8,1337.2 1199.9,1363.3 1173.0,1347.5"/><polygon points="1254.0,1286.3 1281.0,1302.1 1262.1,1328.2 1235.2,1312.4"/><polygon points="1235.9,1311.5 1262.8,1327.2 1244.0,1353.3 1217.0,1337.5"/><polygon points="1217.7,1336.6 1244.7,1352.3 1225.9,1378.4 1198.9,1362.7"/><polygon points="1279.9,1301.5 1306.9,1317.3 1288.1,1343.3 1261.1,1327.6"/><polygon points="1261.8,1326.6 1288.8,1342.4 1269.9,1368.5 1243.0,1352.7"/><polygon points="1243.7,1351.7 1270.6,1367.5 1251.8,1393.6 1224.8,1377.8"/><polygon points="1287.7,1341.8 1314.7,1357.5 1295.9,1383.6 1268.9,1367.8"/><polygon points="1269.6,1366.9 1296.6,1382.6 1277.7,1408.7 1250.8,1393.0"/></g>
<g fill="#ff3333"><polygon points="880.6,1139.6 907.5,1155.3 888.7,1181.4 861.7,1165.7"/><polygon points="924.6,1129.6 951.6,1145.4 932.8,1171.5 905.8,1155.7"/><polygon points="906.5,1154.7 933.5,1170.5 914.6,1196.6 887.7,1180.8"/><polygon points="950.6,1144.8 977.5,1160.5 958.7,1186.6 931.7,1170.9"/><polygon points="932.4,1169.9 959.4,1185.6 940.6,1211.7 913.6,1196.0"/><polygon points="976.5,1159.9 1003.5,1175.7 984.6,1201.8 957.7,1186.0"/><polygon points="958.4,1185.0 985.3,1200.8 966.5,1226.9 939.5,1211.1"/><polygon points="1020.6,1150.0 1047.5,1165.7 1028.7,1191.8 1001.7,1176.1"/><polygon points="1002.4,1175.1 1029.4,1190.8 1010.6,1216.9 983.6,1201.2"/><polygon points="984.3,1200.2 1011.3,1215.9 992.4,1242.0 965.5,1226.3"/><polygon points="1046.5,1165.1 1073.5,1180.9 1054.6,1207.0 1027.7,1191.2"/><polygon points="1028.4,1190.2 1055.3,1206.0 1036.5,1232.1 1009.5,1216.3"/><polygon points="1010.2,1215.3 1037.2,1231.1 1018.4,1257.2 991.4,1241.4"/><polygon points="1072.4,1180.3 1099.4,1196.0 1080.6,1222.1 1053.6,1206.4"/><polygon points="1054.3,1205.4 1081.3,1221.1 1062.5,1247.2 1035.5,1231.5"/><polygon points="1036.2,1230.5 1063.2,1246.3 1044.3,1272.3 1017.3,1256.6"/><polygon points="1098.4,1195.4 1125.4,1211.2 1106.5,1237.3 1079.5,1221.5"/><polygon points="1080.2,1220.5 1107.2,1236.3 1088.4,1262.4 1061.4,1246.6"/><polygon points="1062.1,1245.6 1089.1,1261.4 1070.3,1287.5 1043.3,1271.7"/><polygon points="1124.3,1210.6 1151.3,1226.3 1132.5,1252.4 1105.5,1236.7"/><polygon points="1106.2,1235.7 1133.2,1251.4 1114.3,1277.5 1087.4,1261.8"/><polygon points="1088.1,1260.8 1115.0,1276.6 1096.2,1302.6 1069.2,1286.9"/><polygon points="1150.3,1225.7 1177.2,1241.5 1158.4,1267.6 1131.4,1251.8"/><polygon points="1132.1,1250.8 1159.1,1266.6 1140.3,1292.7 1113.3,1276.9"/><polygon points="1114.0,1276.0 1141.0,1291.7 1122.1,1317.8 1095.2,1302.0"/><polygon points="1176.2,1240.9 1203.2,1256.6 1184.3,1282.7 1157.4,1267.0"/><polygon points="1158.1,1266.0 1185.0,1281.8 1166.2,1307.8 1139.2,1292.1"/><polygon points="1139.9,1291.1 1166.9,1306.9 1148.1,1333.0 1121.1,1317.2"/><polygon points="1184.0,1281.1 1211.0,1296.9 1192.1,1323.0 1165.2,1307.2"/><polygon points="1165.9,1306.3 1192.8,1322.0 1174.0,1348.1 1147.0,1332.3"/><polygon points="1209.9,1296.3 1236.9,1312.1 1218.1,1338.1 1191.1,1322.4"/><polygon points="1191.8,1321.4 1218.8,1337.2 1199.9,1363.3 1173.0,1347.5"/></g>
<g fill="#ff0000"></g>
<g clip-path="url(#mapclip)">
<path d="M705.0,311.0 C729.2,328.3 805.3,382.5 850.0,415.0 C894.7,447.5 952.8,490.8 973.4,506.0" fill="none" stroke="#000" stroke-width="5" stroke-dasharray="14 7"/>
<path d="M705.5,598.3 C735.0,617.4 822.4,673.3 882.3,713.1 C942.1,752.9 1009.9,799.9 1064.6,837.0 C1119.3,874.1 1171.2,909.4 1210.4,935.5 C1249.6,961.6 1266.3,973.0 1300.0,993.8 C1333.7,1014.5 1362.6,1034.3 1412.6,1060.0 C1462.6,1085.7 1552.1,1125.8 1600.0,1148.0 C1647.9,1170.2 1671.2,1180.8 1700.0,1193.0 C1728.8,1205.2 1760.8,1216.3 1773.0,1221.0" fill="none" stroke="#000" stroke-width="5" stroke-dasharray="14 7"/>
<path d="M705.5,729.5 C722.8,740.1 781.1,774.9 809.4,793.3 C837.6,811.7 854.9,827.0 875.0,840.0 C895.1,853.0 892.5,847.7 930.0,871.5 C967.5,895.3 1052.5,953.3 1100.0,982.9 C1147.5,1012.5 1164.8,1022.8 1214.8,1049.0 C1264.8,1075.2 1333.5,1106.2 1400.0,1140.0 C1466.5,1173.8 1555.7,1223.1 1614.0,1251.8 C1672.3,1280.5 1703.7,1291.5 1750.0,1312.0 C1796.3,1332.5 1868.3,1364.5 1892.0,1375.0" fill="none" stroke="#000" stroke-width="5" stroke-dasharray="14 7"/>
<path d="M172.0,1481.0 C188.4,1473.0 230.3,1447.8 270.4,1433.2 C310.5,1418.6 356.1,1406.0 412.6,1393.2 C469.1,1380.4 541.1,1368.2 609.4,1356.6 C677.7,1345.0 757.0,1330.6 822.6,1323.8 C888.2,1317.0 960.6,1317.1 1003.0,1315.6 C1045.4,1314.1 1064.7,1315.1 1077.0,1315.0" fill="none" stroke="#000" stroke-width="5" stroke-dasharray="14 7"/>
<path d="M1342.0,2042.0 C1349.9,2037.6 1381.6,2019.9 1389.5,2015.5" fill="none" stroke="#000" stroke-width="5" stroke-dasharray="14 7"/>
<path d="M705.0,377.0 C729.2,390.3 805.9,431.9 850.0,457.0 C894.1,482.1 928.1,504.1 969.8,527.9 C1011.5,551.7 1061.9,577.8 1100.0,600.0 C1138.1,622.2 1171.6,644.0 1198.4,661.0 C1225.2,678.0 1242.3,688.3 1260.8,702.3 C1279.3,716.3 1292.7,730.4 1309.4,744.8 C1326.1,759.2 1346.3,777.1 1361.0,788.8 C1375.7,800.4 1381.2,800.5 1397.4,814.7 C1413.6,828.9 1439.0,856.7 1458.2,873.9 C1477.5,891.1 1495.2,903.8 1512.9,918.0 C1530.6,932.2 1548.6,945.3 1564.5,959.0 C1580.4,972.7 1596.5,987.4 1608.5,1000.0 C1620.5,1012.6 1625.8,1020.6 1636.5,1034.9 C1647.2,1049.2 1660.8,1069.0 1673.0,1086.0 C1685.2,1103.0 1696.1,1119.4 1709.4,1137.0 C1722.7,1154.6 1739.0,1172.8 1753.0,1191.6 C1767.0,1210.4 1779.8,1231.8 1793.2,1250.0 C1806.6,1268.2 1819.9,1284.0 1833.3,1301.0 C1846.7,1318.0 1860.0,1334.4 1873.4,1352.0 C1886.8,1369.6 1900.7,1388.5 1913.5,1406.7 C1926.3,1424.9 1937.6,1442.5 1950.0,1461.4 C1962.4,1480.3 1975.6,1501.0 1988.0,1520.0 C2000.4,1539.0 2012.0,1557.7 2024.4,1575.4 C2036.8,1593.2 2052.7,1614.8 2062.6,1626.5 C2072.5,1638.2 2075.1,1638.8 2084.0,1645.6 C2092.9,1652.3 2103.7,1658.4 2116.0,1667.0 C2128.3,1675.6 2145.3,1688.8 2158.0,1697.0 C2170.7,1705.2 2186.3,1712.8 2192.0,1716.0" fill="none" stroke="#000" stroke-width="5" stroke-dasharray="14 7"/>
<g fill="#000"><polygon points="729.6,390.4 747.1,400.0 728.4,409.2"/><polygon points="788.4,422.7 805.9,432.3 787.2,441.4"/><polygon points="847.0,455.3 864.4,465.2 845.5,474.0"/><polygon points="904.9,489.3 922.0,499.7 902.9,508.0"/><polygon points="962.5,523.7 979.9,533.6 961.0,542.5"/><polygon points="1021.1,556.4 1038.7,565.9 1020.0,575.1"/><polygon points="1080.0,588.5 1097.4,598.5 1078.5,607.3"/><polygon points="1137.8,622.7 1154.8,633.2 1135.6,641.3"/><polygon points="1194.5,658.5 1211.4,669.2 1192.1,677.2"/><polygon points="1250.9,694.9 1266.9,706.9 1247.1,713.3"/><polygon points="1301.9,738.3 1317.1,751.4 1296.9,756.4"/><polygon points="1352.7,782.2 1368.3,794.7 1348.4,800.5"/><polygon points="1406.1,822.6 1420.3,836.7 1399.8,840.4"/><polygon points="1453.7,870.0 1468.7,883.1 1448.5,888.1"/><polygon points="1505.7,912.3 1521.4,924.7 1501.4,930.6"/><polygon points="1558.4,953.8 1573.6,966.8 1553.4,971.9"/><polygon points="1607.9,999.1 1621.2,1014.1 1600.5,1016.4"/><polygon points="1649.0,1052.1 1660.6,1068.4 1639.8,1068.4"/><polygon points="1687.7,1106.9 1699.2,1123.3 1678.4,1123.3"/><polygon points="1728.2,1160.4 1740.8,1175.9 1720.1,1177.4"/><polygon points="1768.6,1213.9 1779.7,1230.6 1758.9,1230.0"/><polygon points="1807.4,1268.6 1819.9,1284.2 1799.1,1285.5"/><polygon points="1849.3,1321.1 1861.7,1336.8 1840.9,1337.9"/><polygon points="1890.1,1374.3 1901.9,1390.4 1881.1,1390.8"/><polygon points="1928.8,1429.1 1939.8,1445.8 1919.0,1445.1"/><polygon points="1965.5,1485.3 1976.4,1502.1 1955.6,1501.2"/><polygon points="2001.9,1541.6 2012.8,1558.4 1992.0,1557.6"/><polygon points="2039.8,1597.0 2051.8,1613.0 2031.0,1613.6"/><polygon points="2084.7,1646.4 2101.4,1657.4 2082.0,1665.0"/><polygon points="2139.9,1684.5 2156.3,1696.0 2136.7,1703.0"/></g>
<path d="M174,68 H185 M174,427 H185 M174,750 H185 M292,27 L306,37" stroke="#000" stroke-width="5" fill="none"/>
</g>
<path d="M763.4,1073.1L738.6,1079.8M751.7,1089.2L720.9,1097.6M801.0,1072.1L770.4,1080.4M789.3,1088.2L751.0,1098.6M777.6,1104.4L733.9,1116.3M838.6,1071.1L806.1,1079.9M826.9,1087.2L783.6,1099.0M815.2,1103.4L764.6,1117.1M803.6,1119.5L748.0,1134.6M876.2,1070.1L847.6,1077.9M864.5,1086.3L820.2,1098.3M852.8,1102.4L798.1,1117.3M841.2,1118.5L779.4,1135.3M829.5,1134.7L763.4,1152.6M902.1,1085.3L861.5,1096.3M890.4,1101.4L835.5,1116.3M878.8,1117.5L813.9,1135.2M867.1,1133.7L795.5,1153.1M855.5,1149.8L780.0,1170.3M939.7,1084.3L904.7,1093.8M928.0,1100.4L876.8,1114.3M916.4,1116.6L852.1,1134.0M904.7,1132.7L830.9,1152.7M893.1,1148.8L812.9,1170.6M881.4,1165.0L797.8,1187.7M977.3,1083.3L948.1,1091.2M965.6,1099.4L919.7,1111.9M954.0,1115.6L893.6,1132.0M942.3,1131.7L870.0,1151.3M930.6,1147.9L849.1,1170.0M919.0,1164.0L831.4,1187.8M907.3,1180.1L816.8,1204.7M1003.2,1098.4L962.5,1109.5M991.6,1114.6L936.2,1129.6M979.9,1130.7L911.7,1149.2M968.2,1146.9L889.1,1168.3M956.6,1163.0L868.7,1186.9M944.9,1179.1L851.3,1204.6M933.3,1195.3L837.1,1221.4M1040.8,1097.4L1011.8,1105.3M1029.1,1113.6L978.9,1127.2M1017.5,1129.7L954.4,1146.9M1005.8,1145.9L931.2,1166.1M994.2,1162.0L909.5,1185.0M982.5,1178.2L889.4,1203.4M970.9,1194.3L872.4,1221.0M959.2,1210.4L858.5,1237.8M1066.7,1112.6L1026.7,1123.5M1055.1,1128.7L997.1,1144.5M1043.4,1144.9L974.2,1163.7M1031.8,1161.0L952.0,1182.7M1020.1,1177.2L931.2,1201.3M1008.5,1193.3L911.5,1219.6M996.8,1209.5L894.7,1237.2M985.1,1225.6L881.1,1253.8M1104.3,1111.6L1081.5,1117.8M1092.7,1127.7L1043.9,1141.0M1081.0,1143.9L1017.4,1161.2M1069.4,1160.0L995.6,1180.1M1057.7,1176.2L974.3,1198.8M1046.0,1192.3L954.1,1217.3M1034.4,1208.5L934.8,1235.5M1022.7,1224.6L918.3,1253.0M1011.1,1240.7L905.0,1269.5M1130.3,1126.8L1095.7,1136.1M1118.6,1142.9L1063.6,1157.8M1107.0,1159.0L1039.5,1177.4M1095.3,1175.2L1018.6,1196.0M1083.6,1191.3L998.0,1214.6M1072.0,1207.5L978.2,1232.9M1060.3,1223.6L959.4,1251.0M1048.7,1239.8L943.2,1268.4M1037.0,1255.9L930.1,1284.9M1167.9,1125.8L1143.3,1132.4M1156.2,1141.9L1113.2,1153.6M1144.5,1158.1L1085.8,1174.0M1132.9,1174.2L1063.6,1193.0M1121.2,1190.3L1043.3,1211.5M1109.6,1206.5L1023.0,1230.0M1097.9,1222.6L1003.6,1248.2M1086.3,1238.8L985.2,1266.2M1074.6,1254.9L969.3,1283.5M1062.9,1271.1L956.3,1300.0M1193.8,1140.9L1160.7,1149.9M1182.1,1157.1L1133.9,1170.2M1170.5,1173.2L1110.3,1189.5M1158.8,1189.4L1089.6,1208.2M1147.2,1205.5L1069.5,1226.6M1135.5,1221.6L1049.5,1245.0M1123.9,1237.8L1030.3,1263.2M1112.2,1253.9L1012.3,1281.0M1100.5,1270.1L996.6,1298.3M1088.9,1286.2L983.8,1314.7M1231.4,1139.9L1208.2,1146.2M1219.7,1156.1L1182.2,1166.3M1208.1,1172.2L1157.9,1185.8M1196.4,1188.4L1137.3,1204.4M1184.8,1204.5L1117.5,1222.8M1173.1,1220.6L1097.4,1241.2M1161.4,1236.8L1077.3,1259.6M1149.8,1252.9L1058.2,1277.8M1138.1,1269.1L1040.7,1295.5M1126.5,1285.2L1025.2,1312.7M1114.8,1301.4L1012.5,1329.1M1257.3,1155.1L1233.1,1161.7M1245.7,1171.2L1207.8,1181.5M1234.0,1187.4L1185.2,1200.6M1222.4,1203.5L1166.6,1218.6M1210.7,1219.7L1147.4,1236.8M1199.0,1235.8L1126.9,1255.4M1187.4,1251.9L1106.5,1273.9M1175.7,1268.1L1087.4,1292.1M1164.1,1284.2L1070.3,1309.7M1152.4,1300.4L1055.1,1326.8M1140.8,1316.5L1042.4,1343.2M1271.6,1186.4L1237.4,1195.7M1259.9,1202.5L1215.7,1214.5M1248.3,1218.7L1198.4,1232.2M1236.6,1234.8L1179.2,1250.4M1225.0,1251.0L1158.0,1269.1M1213.3,1267.1L1137.2,1287.8M1201.7,1283.2L1117.8,1306.0M1190.0,1299.4L1101.2,1323.5M1178.3,1315.5L1086.2,1340.6M1166.7,1331.7L1073.5,1357.0M1297.5,1201.5L1271.1,1208.7M1285.9,1217.7L1249.6,1227.5M1274.2,1233.8L1232.6,1245.1M1262.6,1250.0L1212.9,1263.4M1250.9,1266.1L1190.8,1282.4M1239.3,1282.2L1169.2,1301.3M1227.6,1298.4L1149.5,1319.6M1215.9,1314.5L1133.3,1337.0M1204.3,1330.7L1118.5,1354.0M1192.6,1346.8L1105.9,1370.4M1311.8,1232.8L1286.6,1239.7M1300.2,1249.0L1269.2,1257.4M1288.5,1265.1L1248.6,1276.0M1276.8,1281.3L1225.1,1295.3M1265.2,1297.4L1202.6,1314.4M1253.5,1313.5L1182.4,1332.9M1241.9,1329.7L1166.7,1350.1M1230.2,1345.8L1152.1,1367.0M1218.6,1362.0L1139.4,1383.5M1314.4,1280.3L1286.1,1288.0M1302.8,1296.4L1261.1,1307.7M1291.1,1312.6L1237.4,1327.2M1279.5,1328.7L1216.6,1345.8M1267.8,1344.8L1201.4,1362.9M1256.2,1361.0L1186.9,1379.8M1244.5,1377.1L1174.1,1396.2M1328.7,1311.6L1298.7,1319.7M1317.1,1327.7L1273.5,1339.5M1305.4,1343.8L1252.1,1358.3M1293.7,1360.0L1237.3,1375.3M1282.1,1376.1L1223.0,1392.2M1270.4,1392.3L1210.1,1408.7M1343.0,1342.9L1311.1,1351.5M1331.3,1359.0L1288.8,1370.6M1319.7,1375.1L1274.5,1387.4M1308.0,1391.3L1260.4,1404.2M1296.4,1407.4L1247.2,1420.8M1357.3,1374.2L1326.7,1382.5M1345.6,1390.3L1312.9,1399.2M1334.0,1406.4L1299.0,1415.9M1322.3,1422.6L1285.6,1432.5M1348.2,1437.7L1325.2,1444.0" stroke="#2a2a2a" stroke-width="1.7" fill="none"/><path d="M725.1,1083.5L736.8,1073.0L740.4,1086.6ZM707.4,1101.3L719.1,1090.8L722.7,1104.3ZM756.9,1084.1L768.6,1073.6L772.2,1087.1ZM737.5,1102.3L749.1,1091.9L752.8,1105.4ZM720.4,1119.9L732.0,1109.5L735.7,1123.0ZM792.5,1083.6L804.2,1073.2L807.9,1086.7ZM770.1,1102.7L781.8,1092.2L785.5,1105.7ZM751.0,1120.8L762.7,1110.4L766.4,1123.9ZM734.5,1138.3L746.2,1127.9L749.9,1141.4ZM834.1,1081.5L845.8,1071.1L849.4,1084.6ZM806.7,1102.0L818.3,1091.5L822.0,1105.0ZM784.6,1120.9L796.3,1110.5L800.0,1124.0ZM765.9,1139.0L777.6,1128.6L781.2,1142.1ZM749.9,1156.3L761.6,1145.9L765.3,1159.4ZM848.0,1099.9L859.7,1089.5L863.4,1103.0ZM822.0,1120.0L833.7,1109.6L837.4,1123.1ZM800.3,1138.8L812.0,1128.4L815.7,1141.9ZM782.0,1156.8L793.7,1146.4L797.3,1159.9ZM766.5,1174.0L778.2,1163.6L781.9,1177.1ZM891.2,1097.4L902.9,1087.0L906.6,1100.5ZM863.3,1118.0L875.0,1107.6L878.7,1121.1ZM838.6,1137.7L850.3,1127.2L854.0,1140.7ZM817.4,1156.4L829.0,1146.0L832.7,1159.5ZM799.3,1174.3L811.0,1163.9L814.7,1177.4ZM784.3,1191.3L796.0,1180.9L799.7,1194.4ZM934.6,1094.9L946.3,1084.4L949.9,1098.0ZM906.2,1115.6L917.8,1105.1L921.5,1118.7ZM880.0,1135.6L891.7,1125.2L895.4,1138.7ZM856.5,1155.0L868.2,1144.6L871.8,1158.1ZM835.6,1173.7L847.3,1163.2L851.0,1176.7ZM817.9,1191.4L829.6,1181.0L833.3,1194.5ZM803.3,1208.4L815.0,1198.0L818.7,1211.5ZM949.0,1113.2L960.7,1102.7L964.3,1116.2ZM922.7,1133.3L934.4,1122.8L938.1,1136.4ZM898.1,1152.9L909.8,1142.5L913.5,1156.0ZM875.6,1172.0L887.3,1161.6L891.0,1175.1ZM855.1,1190.5L866.8,1180.1L870.5,1193.6ZM837.8,1208.2L849.5,1197.8L853.1,1211.3ZM823.6,1225.1L835.2,1214.7L838.9,1228.2ZM998.3,1109.0L1010.0,1098.6L1013.6,1112.1ZM965.4,1130.9L977.0,1120.5L980.7,1134.0ZM940.9,1150.5L952.6,1140.1L956.2,1153.6ZM917.6,1169.8L929.3,1159.4L933.0,1172.9ZM896.0,1188.7L907.7,1178.2L911.4,1191.8ZM875.9,1207.1L887.6,1196.7L891.3,1210.2ZM858.9,1224.7L870.6,1214.3L874.2,1227.8ZM845.0,1241.5L856.7,1231.0L860.3,1244.5ZM1013.2,1127.1L1024.8,1116.7L1028.5,1130.2ZM983.6,1148.1L995.3,1137.7L999.0,1151.2ZM960.7,1167.3L972.4,1156.9L976.0,1170.4ZM938.5,1186.3L950.2,1175.9L953.9,1189.4ZM917.7,1205.0L929.3,1194.6L933.0,1208.1ZM898.0,1223.3L909.7,1212.9L913.3,1226.4ZM881.2,1240.8L892.9,1230.4L896.6,1243.9ZM867.6,1257.5L879.3,1247.1L883.0,1260.6ZM1068.0,1121.5L1079.7,1111.0L1083.4,1124.6ZM1030.4,1144.6L1042.1,1134.2L1045.8,1147.7ZM1003.9,1164.8L1015.5,1154.4L1019.2,1167.9ZM982.1,1183.7L993.8,1173.3L997.4,1186.8ZM960.8,1202.5L972.5,1192.1L976.1,1205.6ZM940.5,1221.0L952.2,1210.5L955.9,1224.1ZM921.3,1239.2L933.0,1228.7L936.6,1242.3ZM904.8,1256.6L916.5,1246.2L920.2,1259.7ZM891.5,1273.2L903.2,1262.8L906.8,1276.3ZM1082.2,1139.8L1093.9,1129.4L1097.6,1142.9ZM1050.1,1161.5L1061.8,1151.1L1065.5,1164.6ZM1026.0,1181.0L1037.7,1170.6L1041.3,1184.1ZM1005.1,1199.7L1016.8,1189.2L1020.5,1202.8ZM984.5,1218.3L996.1,1207.8L999.8,1221.3ZM964.7,1236.6L976.4,1226.2L980.0,1239.7ZM945.9,1254.7L957.5,1244.3L961.2,1257.8ZM929.7,1272.1L941.3,1261.6L945.0,1275.2ZM916.6,1288.6L928.2,1278.2L931.9,1291.7ZM1129.8,1136.1L1141.5,1125.7L1145.1,1139.2ZM1099.7,1157.3L1111.4,1146.8L1115.0,1160.3ZM1072.3,1177.7L1083.9,1167.3L1087.6,1180.8ZM1050.1,1196.7L1061.7,1186.3L1065.4,1199.8ZM1029.8,1215.2L1041.4,1204.8L1045.1,1218.3ZM1009.5,1233.6L1021.2,1223.2L1024.9,1236.7ZM990.1,1251.9L1001.8,1241.5L1005.4,1255.0ZM971.7,1269.9L983.4,1259.4L987.0,1273.0ZM955.8,1287.2L967.4,1276.8L971.1,1290.3ZM942.8,1303.7L954.5,1293.2L958.2,1306.8ZM1147.2,1153.6L1158.9,1143.1L1162.6,1156.7ZM1120.4,1173.8L1132.1,1163.4L1135.8,1176.9ZM1096.8,1193.2L1108.5,1182.8L1112.1,1196.3ZM1076.1,1211.8L1087.7,1201.4L1091.4,1214.9ZM1056.0,1230.2L1067.7,1219.8L1071.4,1233.3ZM1036.0,1248.7L1047.6,1238.2L1051.3,1251.7ZM1016.8,1266.9L1028.4,1256.4L1032.1,1269.9ZM998.8,1284.7L1010.5,1274.3L1014.1,1287.8ZM983.1,1301.9L994.8,1291.5L998.5,1305.0ZM970.3,1318.4L982.0,1308.0L985.7,1321.5ZM1194.6,1149.9L1206.3,1139.5L1210.0,1153.0ZM1168.7,1169.9L1180.4,1159.5L1184.1,1173.0ZM1144.4,1189.5L1156.1,1179.1L1159.8,1192.6ZM1123.7,1208.1L1135.4,1197.7L1139.1,1211.2ZM1104.0,1226.4L1115.7,1216.0L1119.4,1229.5ZM1083.9,1244.9L1095.6,1234.4L1099.2,1248.0ZM1063.8,1263.3L1075.5,1252.9L1079.1,1266.4ZM1044.7,1281.5L1056.4,1271.0L1060.0,1284.6ZM1027.2,1299.2L1038.8,1288.8L1042.5,1302.3ZM1011.7,1316.4L1023.4,1306.0L1027.1,1319.5ZM999.0,1332.8L1010.7,1322.4L1014.3,1335.9ZM1219.6,1165.3L1231.3,1154.9L1234.9,1168.4ZM1194.3,1185.2L1206.0,1174.8L1209.6,1188.3ZM1171.7,1204.3L1183.4,1193.9L1187.0,1207.4ZM1153.1,1222.3L1164.8,1211.9L1168.5,1225.4ZM1133.9,1240.5L1145.5,1230.1L1149.2,1243.6ZM1113.4,1259.1L1125.1,1248.6L1128.7,1262.1ZM1093.0,1277.6L1104.7,1267.1L1108.4,1280.6ZM1073.8,1295.7L1085.5,1285.3L1089.2,1298.8ZM1056.8,1313.4L1068.5,1302.9L1072.1,1316.4ZM1041.6,1330.5L1053.2,1320.0L1056.9,1333.6ZM1028.9,1346.9L1040.6,1336.5L1044.3,1350.0ZM1223.9,1199.3L1235.6,1188.9L1239.3,1202.4ZM1202.2,1218.2L1213.9,1207.8L1217.6,1221.3ZM1184.9,1235.9L1196.6,1225.5L1200.2,1239.0ZM1165.7,1254.1L1177.3,1243.7L1181.0,1257.2ZM1144.5,1272.8L1156.2,1262.4L1159.9,1275.9ZM1123.6,1291.4L1135.3,1281.0L1139.0,1294.5ZM1104.3,1309.7L1116.0,1299.3L1119.6,1312.8ZM1087.7,1327.2L1099.3,1316.7L1103.0,1330.3ZM1072.7,1344.2L1084.3,1333.8L1088.0,1347.3ZM1060.0,1360.6L1071.7,1350.2L1075.4,1363.7ZM1257.6,1212.4L1269.3,1202.0L1273.0,1215.5ZM1236.0,1231.2L1247.7,1220.8L1251.4,1234.3ZM1219.1,1248.8L1230.8,1238.4L1234.4,1251.9ZM1199.4,1267.1L1211.1,1256.7L1214.7,1270.2ZM1177.2,1286.1L1188.9,1275.7L1192.6,1289.2ZM1155.7,1304.9L1167.3,1294.5L1171.0,1308.0ZM1136.0,1323.3L1147.6,1312.8L1151.3,1326.4ZM1119.8,1340.6L1131.5,1330.2L1135.1,1343.7ZM1105.0,1357.6L1116.7,1347.2L1120.3,1360.7ZM1092.3,1374.0L1104.0,1363.6L1107.7,1377.1ZM1273.1,1243.3L1284.8,1232.9L1288.5,1246.4ZM1255.7,1261.0L1267.4,1250.6L1271.1,1264.1ZM1235.0,1279.6L1246.7,1269.2L1250.4,1282.7ZM1211.6,1299.0L1223.3,1288.6L1226.9,1302.1ZM1189.1,1318.1L1200.7,1307.6L1204.4,1321.2ZM1168.9,1336.5L1180.6,1326.1L1184.2,1339.6ZM1153.2,1353.8L1164.9,1343.3L1168.5,1356.8ZM1138.6,1370.7L1150.3,1360.3L1153.9,1373.8ZM1125.9,1387.1L1137.5,1376.7L1141.2,1390.2ZM1272.6,1291.6L1284.3,1281.2L1288.0,1294.7ZM1247.6,1311.4L1259.2,1301.0L1262.9,1314.5ZM1223.8,1330.8L1235.5,1320.4L1239.2,1333.9ZM1203.1,1349.4L1214.8,1339.0L1218.4,1352.5ZM1187.9,1366.5L1199.5,1356.1L1203.2,1369.6ZM1173.4,1383.4L1185.1,1373.0L1188.8,1386.5ZM1160.6,1399.9L1172.3,1389.5L1176.0,1403.0ZM1285.1,1323.4L1296.8,1313.0L1300.5,1326.5ZM1260.0,1343.2L1271.7,1332.8L1275.4,1346.3ZM1238.5,1362.0L1250.2,1351.6L1253.9,1365.1ZM1223.8,1379.0L1235.5,1368.6L1239.1,1382.1ZM1209.5,1395.8L1221.2,1385.4L1224.9,1398.9ZM1196.6,1412.3L1208.2,1401.9L1211.9,1415.4ZM1297.6,1355.2L1309.3,1344.8L1312.9,1358.3ZM1275.3,1374.2L1286.9,1363.8L1290.6,1377.3ZM1261.0,1391.1L1272.7,1380.7L1276.3,1394.2ZM1246.9,1407.9L1258.6,1397.5L1262.2,1411.0ZM1233.7,1424.4L1245.4,1414.0L1249.1,1427.5ZM1313.2,1386.1L1324.9,1375.7L1328.6,1389.2ZM1299.4,1402.8L1311.1,1392.4L1314.8,1405.9ZM1285.5,1419.6L1297.1,1409.2L1300.8,1422.7ZM1272.1,1436.2L1283.8,1425.8L1287.4,1439.3ZM1311.7,1447.7L1323.4,1437.2L1327.0,1450.8Z" fill="#2a2a2a"/>
<polygon points="740.5,772.8 1674.2,1318.3 1512.9,1548.0 577.3,998.8" fill="none" stroke="#000" stroke-width="3" stroke-linejoin="miter"/>
<polygon points="904.5,942.0 915.7,974.6 950.2,975.2 922.6,995.9 932.7,1028.8 904.5,1009.0 876.3,1028.8 886.4,995.9 858.8,975.2 893.3,974.6" fill="#fff02a" stroke="#000" stroke-width="4.3" stroke-linejoin="miter"/>
<line x1="493" y1="1960" x2="1978.8" y2="82.5" stroke="#000" stroke-width="3.2"/>
<text x="435" y="1967.3" font-size="64" textLength="40.5" lengthAdjust="spacingAndGlyphs" fill="#000" >A</text>
<text x="1890.5" y="109.3" font-size="64" textLength="54" lengthAdjust="spacingAndGlyphs" fill="#000" >A'</text>
<text x="0" y="0" font-size="49" font-weight="bold" textLength="508" lengthAdjust="spacingAndGlyphs" transform="translate(978.5,478.5) rotate(32.4)">WOODROFFE THRUST</text>
<defs><pattern id="hatch" width="3" height="3" patternUnits="userSpaceOnUse"><rect width="3" height="3" fill="#e6e6ee"/><rect width="1.5" height="1.5" fill="#b8b8c4"/></pattern></defs>
<polygon points="2105.5,53 2105.5,153 2047,211" fill="url(#hatch)"/>
<polygon points="2105.5,53 2164,211 2105.5,153" fill="#fff"/>
<polygon points="2105.5,53 2164,211 2105.5,153 2047,211" fill="none" stroke="#000" stroke-width="7" stroke-linejoin="miter" stroke-miterlimit="3.5"/>
<path d="M814,1927 V1953.5 H1375.5 V1927 M1094,1927 V1953.5" fill="none" stroke="#1a1a1a" stroke-width="3"/>
<text x="814" y="1901" font-size="30" text-anchor="middle" fill="#000" >0</text>
<text x="1094" y="1901" font-size="30" text-anchor="middle" fill="#000" >5</text>
<text x="1356" y="1901" font-size="30" textLength="91.5" lengthAdjust="spacingAndGlyphs" fill="#000" >10 km</text>
<text x="187" y="2019" font-size="70" fill="#000" >a</text>
<rect x="173.5" y="26.5" width="2015" height="2014" fill="none" stroke="#000" stroke-width="3.5"/>
<line x1="725" y1="12" x2="725" y2="26" stroke="#000" stroke-width="3.5"/>
<line x1="725" y1="2041" x2="725" y2="2054" stroke="#000" stroke-width="3.5"/>
<line x1="1285" y1="12" x2="1285" y2="26" stroke="#000" stroke-width="3.5"/>
<line x1="1285" y1="2041" x2="1285" y2="2054" stroke="#000" stroke-width="3.5"/>
<line x1="1845" y1="12" x2="1845" y2="26" stroke="#000" stroke-width="3.5"/>
<line x1="1845" y1="2041" x2="1845" y2="2054" stroke="#000" stroke-width="3.5"/>
<line x1="159" y1="548" x2="174" y2="548" stroke="#000" stroke-width="3.5"/>
<line x1="2188" y1="548" x2="2202" y2="548" stroke="#000" stroke-width="3.5"/>
<line x1="159" y1="1108" x2="174" y2="1108" stroke="#000" stroke-width="3.5"/>
<line x1="2188" y1="1108" x2="2202" y2="1108" stroke="#000" stroke-width="3.5"/>
<line x1="159" y1="1668" x2="174" y2="1668" stroke="#000" stroke-width="3.5"/>
<line x1="2188" y1="1668" x2="2202" y2="1668" stroke="#000" stroke-width="3.5"/>
<text x="725" y="2096" font-size="38.5" text-anchor="middle" textLength="135" lengthAdjust="spacingAndGlyphs" fill="#000" >129.8°E</text>
<text x="1285" y="2096" font-size="38.5" text-anchor="middle" textLength="135" lengthAdjust="spacingAndGlyphs" fill="#000" >129.9°E</text>
<text x="1845" y="2096" font-size="38.5" text-anchor="middle" textLength="135" lengthAdjust="spacingAndGlyphs" fill="#000" >130.0°E</text>
<text x="0" y="0" font-size="40.5" text-anchor="middle" textLength="115" lengthAdjust="spacingAndGlyphs" transform="translate(147,548) rotate(-90)">25.5°S</text>
<text x="0" y="0" font-size="40.5" text-anchor="middle" textLength="115" lengthAdjust="spacingAndGlyphs" transform="translate(147,1108) rotate(-90)">25.6°S</text>
<text x="0" y="0" font-size="40.5" text-anchor="middle" textLength="115" lengthAdjust="spacingAndGlyphs" transform="translate(147,1668) rotate(-90)">25.7°S</text>
<rect x="185" y="40.5" width="519" height="736.5" fill="#fff" stroke="#000" stroke-width="3"/>
<text x="200.5" y="133.7" font-size="47" font-weight="bold" textLength="300" lengthAdjust="spacingAndGlyphs" fill="#000" >Fault slip (m)</text>
<text x="303.5" y="177.3" font-size="37" textLength="202" lengthAdjust="spacingAndGlyphs" fill="#000" >0.00 - 0.30</text>
<rect x="198.5" y="195.4" width="66" height="32" fill="#ffcccc"/>
<text x="303.5" y="224.4" font-size="37" textLength="202" lengthAdjust="spacingAndGlyphs" fill="#000" >0.30 - 0.60</text>
<rect x="198.5" y="242.4" width="66" height="32" fill="#ff9999"/>
<text x="303.5" y="271.4" font-size="37" textLength="202" lengthAdjust="spacingAndGlyphs" fill="#000" >0.60 - 0.90</text>
<rect x="198.5" y="289.5" width="66" height="32" fill="#ff6666"/>
<text x="303.5" y="318.5" font-size="37" textLength="202" lengthAdjust="spacingAndGlyphs" fill="#000" >0.90 - 1.20</text>
<rect x="198.5" y="336.5" width="66" height="32" fill="#ff3333"/>
<text x="303.5" y="365.5" font-size="37" textLength="202" lengthAdjust="spacingAndGlyphs" fill="#000" >1.20 - 1.50</text>
<rect x="198.5" y="383.6" width="66" height="32" fill="#ff0000"/>
<text x="303.5" y="412.6" font-size="37" textLength="202" lengthAdjust="spacingAndGlyphs" fill="#000" >1.50 - 1.80</text>
<text x="200.3" y="482.3" font-size="47" font-weight="bold" textLength="488" lengthAdjust="spacingAndGlyphs" fill="#000" >Topography (m a.s.l.)</text>
<rect x="198" y="497.3" width="68" height="33" fill="#1ab4bc"/>
<text x="293.2" y="528.3" font-size="38" textLength="69" lengthAdjust="spacingAndGlyphs" fill="#000" >500</text>
<rect x="198" y="544.3" width="68" height="33" fill="#00ee1c"/>
<text x="293.2" y="575.3" font-size="38" textLength="69" lengthAdjust="spacingAndGlyphs" fill="#000" >600</text>
<rect x="198" y="591.3" width="68" height="33" fill="#ffff00" stroke="#e8e8a0" stroke-width="1"/>
<text x="293.2" y="622.3" font-size="38" textLength="69" lengthAdjust="spacingAndGlyphs" fill="#000" >700</text>
<rect x="198" y="638.3" width="68" height="33" fill="#ff8000"/>
<text x="293.2" y="669.3" font-size="38" textLength="69" lengthAdjust="spacingAndGlyphs" fill="#000" >800</text>
<rect x="198" y="685.3" width="68" height="33" fill="#c0804a"/>
<text x="293.2" y="716.3" font-size="38" textLength="69" lengthAdjust="spacingAndGlyphs" fill="#000" >900</text>
<rect x="198" y="732.3" width="68" height="33" fill="#161616"/>
<text x="293.2" y="763.3" font-size="38" textLength="93.5" lengthAdjust="spacingAndGlyphs" fill="#000" >1000</text>
<path d="M198,2177.5 H184.5 V2619.5 H2278" fill="none" stroke="#000" stroke-width="3.6"/>
<line x1="184.5" y1="2266.2" x2="198" y2="2266.2" stroke="#000" stroke-width="3.6"/>
<line x1="184.5" y1="2354.8" x2="198" y2="2354.8" stroke="#000" stroke-width="3.6"/>
<line x1="184.5" y1="2443.4" x2="198" y2="2443.4" stroke="#000" stroke-width="3.6"/>
<line x1="184.5" y1="2532.0" x2="198" y2="2532.0" stroke="#000" stroke-width="3.6"/>
<line x1="643.3" y1="2619.5" x2="643.3" y2="2607" stroke="#000" stroke-width="3.6"/>
<line x1="1102.1" y1="2619.5" x2="1102.1" y2="2607" stroke="#000" stroke-width="3.6"/>
<line x1="1560.9" y1="2619.5" x2="1560.9" y2="2607" stroke="#000" stroke-width="3.6"/>
<line x1="2019.7" y1="2619.5" x2="2019.7" y2="2607" stroke="#000" stroke-width="3.6"/>
<text x="155" y="2194.4" font-size="46" text-anchor="end" fill="#000" >80</text>
<text x="155" y="2283.0" font-size="46" text-anchor="end" fill="#000" >60</text>
<text x="155" y="2371.6" font-size="46" text-anchor="end" fill="#000" >40</text>
<text x="155" y="2460.2" font-size="46" text-anchor="end" fill="#000" >20</text>
<text x="155" y="2548.8" font-size="46" text-anchor="end" fill="#000" >0</text>
<text x="155" y="2637.4" font-size="46" text-anchor="end" fill="#000" >-20</text>
<text x="184.5" y="2694.7" font-size="53" text-anchor="middle" fill="#000" >0</text>
<text x="643.3" y="2694.7" font-size="53" text-anchor="middle" fill="#000" >10</text>
<text x="1102.1" y="2694.7" font-size="53" text-anchor="middle" fill="#000" >20</text>
<text x="1560.9" y="2694.7" font-size="53" text-anchor="middle" fill="#000" >30</text>
<text x="2019.7" y="2694.7" font-size="53" text-anchor="middle" fill="#000" >40</text>
<text x="0" y="0" font-size="55" textLength="584" lengthAdjust="spacingAndGlyphs" transform="translate(56.5,2691) rotate(-90)">LOS displacements (cm)</text>
<text x="190" y="2158.4" font-size="65" textLength="40" lengthAdjust="spacingAndGlyphs" fill="#000" >A</text>
<text x="2234.5" y="2173.7" font-size="64" textLength="54.5" lengthAdjust="spacingAndGlyphs" fill="#000" >A'</text>
<text x="206" y="2611" font-size="70" fill="#000" >b</text>
<path d="M185.0,2532.0 C204.2,2531.8 258.0,2531.4 300.0,2530.5 C342.0,2529.6 377.7,2529.0 437.0,2526.5 C496.3,2524.0 597.7,2517.9 656.0,2515.5 C714.3,2513.1 754.9,2513.8 787.0,2512.0 C819.1,2510.2 833.1,2506.4 848.6,2505.0 C864.1,2503.6 866.1,2503.8 880.0,2503.7 C893.9,2503.6 918.0,2504.1 931.9,2504.6 C945.8,2505.1 955.6,2505.4 963.3,2506.5 C971.0,2507.6 973.5,2508.5 978.1,2511.1 C982.7,2513.7 985.9,2518.5 991.1,2522.2 C996.4,2525.9 1001.5,2529.0 1009.6,2533.3 C1017.8,2537.6 1031.2,2544.0 1040.0,2548.1 C1048.8,2552.2 1052.5,2555.5 1062.5,2558.0 C1072.5,2560.5 1084.6,2561.5 1100.0,2563.0 C1115.4,2564.5 1139.8,2566.7 1154.8,2567.0 C1169.8,2567.3 1176.2,2566.7 1190.0,2565.0 C1203.8,2563.3 1219.1,2560.2 1237.4,2557.0 C1255.7,2553.8 1275.7,2549.8 1300.0,2546.0 C1324.3,2542.2 1359.9,2536.7 1383.2,2534.0 C1406.5,2531.3 1419.8,2531.1 1440.0,2530.0 C1460.2,2528.9 1478.0,2527.8 1504.7,2527.2 C1531.4,2526.6 1567.5,2526.7 1600.0,2526.7 C1632.5,2526.7 1666.7,2526.9 1700.0,2527.0 C1733.3,2527.1 1766.7,2527.3 1800.0,2527.5 C1833.3,2527.7 1866.7,2527.9 1900.0,2528.0 C1933.3,2528.1 1966.7,2528.1 2000.0,2528.0 C2033.3,2527.9 2066.7,2527.6 2100.0,2527.5 C2133.3,2527.4 2170.2,2527.5 2200.0,2527.5 C2229.8,2527.5 2265.8,2527.5 2279.0,2527.5" fill="none" stroke="#0af514" stroke-width="7.5" stroke-linejoin="round" stroke-linecap="round"/>
<path d="M185.0,2531.0 C204.2,2530.9 258.0,2530.6 300.0,2530.5 C342.0,2530.4 389.8,2530.3 437.0,2530.5 C484.2,2530.7 547.5,2530.8 583.0,2531.6 C618.5,2532.3 625.7,2533.4 650.0,2535.0 C674.3,2536.6 703.7,2538.2 729.0,2541.0 C754.3,2543.8 782.1,2548.7 802.0,2552.0 C821.9,2555.3 835.6,2558.4 848.6,2560.7 C861.6,2563.0 872.0,2563.9 880.0,2565.7 C888.0,2567.5 892.1,2569.9 896.7,2571.3 C901.3,2572.7 905.0,2572.3 907.8,2574.0 C910.6,2575.7 911.3,2578.7 913.3,2581.5 C915.3,2584.3 917.8,2588.5 919.8,2590.7 C921.8,2592.8 924.5,2593.8 925.4,2594.4 L930.9,2588.0 L932.8,2514.8 L935.6,2422.2 L939.3,2311.1 L941.1,2261.1 L946.7,2251.9 L951.3,2229.6 L956.9,2224.1  C958.0,2224.7 960.8,2225.3 963.3,2227.8 C965.8,2230.3 967.4,2234.0 971.7,2238.9 C976.0,2243.8 983.3,2251.2 989.3,2257.4 C995.3,2263.6 1003.5,2271.0 1007.8,2275.9 C1012.1,2280.8 1012.1,2283.3 1015.2,2287.0 C1018.3,2290.7 1022.2,2292.2 1026.3,2298.1 C1030.4,2304.0 1034.4,2313.2 1040.0,2322.2 C1045.6,2331.2 1051.4,2339.4 1060.0,2352.0 C1068.6,2364.6 1081.6,2384.6 1091.6,2397.9 C1101.6,2411.2 1110.3,2421.9 1120.0,2432.0 C1129.7,2442.1 1139.9,2451.6 1149.9,2458.6 C1159.9,2465.6 1169.5,2469.5 1180.0,2474.0 C1190.5,2478.5 1199.5,2481.9 1213.1,2485.4 C1226.7,2488.9 1243.9,2492.7 1261.7,2495.1 C1279.5,2497.5 1299.8,2498.6 1320.0,2500.0 C1340.2,2501.4 1363.2,2502.5 1383.2,2503.8 C1403.2,2505.1 1419.8,2506.6 1440.0,2508.0 C1460.2,2509.4 1484.7,2511.2 1504.7,2512.1 C1524.7,2513.0 1535.8,2513.1 1560.0,2513.5 C1584.2,2513.9 1618.3,2514.2 1650.0,2514.5 C1681.7,2514.8 1716.7,2514.8 1750.0,2515.0 C1783.3,2515.2 1816.7,2515.7 1850.0,2516.0 C1883.3,2516.3 1916.7,2516.7 1950.0,2517.0 C1983.3,2517.3 2016.7,2517.8 2050.0,2518.0 C2083.3,2518.2 2111.8,2518.2 2150.0,2518.5 C2188.2,2518.8 2257.5,2519.8 2279.0,2520.0" fill="none" stroke="#0a0ae6" stroke-width="6" stroke-linejoin="round" stroke-linecap="round"/>
<line x1="382" y1="2288" x2="501" y2="2288" stroke="#0a0ae6" stroke-width="7" stroke-linecap="round"/>
<line x1="382" y1="2376.3" x2="501" y2="2376.3" stroke="#0af514" stroke-width="7" stroke-linecap="round"/>
<text x="532.5" y="2308.2" font-size="52" textLength="127" lengthAdjust="spacingAndGlyphs" fill="#000" >ALOS</text>
<text x="532.5" y="2398" font-size="52" textLength="55" lengthAdjust="spacingAndGlyphs" fill="#000" >S1</text>
<polygon points="1489.0,2892.5 2286.0,2894.6 2270.0,2912.0 2245.8,2935.0 2200.0,2970.0 2128.3,3015.8 2050.0,3045.0 1966.7,3067.2 1850.0,3082.0 1687.6,3100.3 1467.0,3122.3 1300.0,3134.0 1210.0,3140.7 1000.0,3142.0 700.0,3142.0 700.0,3138.0 842.0,3115.3 1006.0,3093.4 1100.0,3078.3 1170.0,3055.0 1210.0,3037.9 1260.0,3016.0 1305.7,2993.8 1350.0,2967.0 1393.8,2942.4 1430.0,2925.0 1470.0,2905.0" fill="#efe7e1"/>
<polygon points="179.0,2893.2 1489.0,2892.5 1470.0,2905.0 1430.0,2925.0 1393.8,2942.4 1350.0,2967.0 1305.7,2993.8 1260.0,3016.0 1210.0,3037.9 1170.0,3055.0 1100.0,3078.3 1006.0,3093.4 842.0,3115.3 700.0,3138.0 618.0,3137.0 514.0,3123.5 432.0,3104.3 360.0,3063.3 331.6,3045.8 292.7,3018.6 253.8,2989.4 229.5,2970.0 215.0,2944.7 201.4,2917.5 183.0,2894.0" fill="#c9ad78"/>
<path d="M179,2893.2 L900,2893 L1489,2892.6 L1800,2893.5 L2000,2893 L2100,2892 L2200,2891.5 L2286,2892" fill="none" stroke="#111" stroke-width="3"/>
<path d="M1489.0,2892.4 C1480.8,2897.0 1455.9,2911.7 1440.0,2920.0 C1424.1,2928.3 1408.8,2934.6 1393.8,2942.4 C1378.8,2950.2 1364.7,2958.4 1350.0,2967.0 C1335.3,2975.6 1320.7,2985.6 1305.7,2993.8 C1290.7,3002.0 1276.0,3008.7 1260.0,3016.0 C1244.0,3023.3 1225.0,3031.4 1210.0,3037.9 C1195.0,3044.4 1188.3,3048.3 1170.0,3055.0 C1151.7,3061.7 1127.3,3071.9 1100.0,3078.3 C1072.7,3084.7 1049.0,3087.2 1006.0,3093.4 C963.0,3099.6 902.6,3105.7 842.0,3115.3 C781.4,3124.9 675.8,3144.9 642.5,3150.8" fill="none" stroke="#e8141e" stroke-width="3.8" stroke-dasharray="26 12"/>
<path d="M1489.0,2892.4L1530.0,2856.0L1522.8,2872.0" fill="none" stroke="#e8141e" stroke-width="3.5" stroke-linejoin="miter"/>
<path d="M1255.0,3020.0L1300.0,2998.0L1287.4,3013.2" fill="none" stroke="#e8141e" stroke-width="4" stroke-linejoin="miter"/>
<line x1="949" y1="2891" x2="1170" y2="3070" stroke="#e8141e" stroke-width="3.5"/>
<path d="M946,2888 L913,2861" fill="none" stroke="#e8141e" stroke-width="3.5" stroke-dasharray="18 8"/>
<path d="M946.0,2888.0L913.0,2861.0L919.8,2874.7" fill="none" stroke="#e8141e" stroke-width="3.5" stroke-linejoin="miter"/>
<path d="M1072.0,2979.0L1042.0,2959.0L1050.2,2972.0" fill="none" stroke="#e8141e" stroke-width="3.5" stroke-linejoin="miter"/>
<path d="M634,2830 H984 L1006,2936" fill="none" stroke="#111" stroke-width="2.6"/>
<path d="M1177,2836 H1478 L1488,2892" fill="none" stroke="#111" stroke-width="2.6"/>
<polygon points="1104.5,3000.0 1108.6,3011.3 1120.7,3011.7 1111.2,3019.2 1114.5,3030.8 1104.5,3024.0 1094.5,3030.8 1097.8,3019.2 1088.3,3011.7 1100.4,3011.3" fill="#f5ea3a" stroke="#000" stroke-width="2.6" stroke-linejoin="miter"/>
<path d="M149.5,2832 H154.7 V3156.6 H149.5" fill="none" stroke="#000" stroke-width="3.4"/>
<line x1="149.5" y1="3109.9" x2="154.7" y2="3109.9" stroke="#000" stroke-width="3.4"/>
<line x1="149.5" y1="3063.5" x2="154.7" y2="3063.5" stroke="#000" stroke-width="3.4"/>
<line x1="149.5" y1="3017.1" x2="154.7" y2="3017.1" stroke="#000" stroke-width="3.4"/>
<line x1="149.5" y1="2970.7" x2="154.7" y2="2970.7" stroke="#000" stroke-width="3.4"/>
<line x1="149.5" y1="2924.3" x2="154.7" y2="2924.3" stroke="#000" stroke-width="3.4"/>
<line x1="149.5" y1="2877.9" x2="154.7" y2="2877.9" stroke="#000" stroke-width="3.4"/>
<text x="136" y="3167.9" font-size="32" text-anchor="end" fill="#000" >-5</text>
<text x="136" y="3121.5" font-size="32" text-anchor="end" fill="#000" >-4</text>
<text x="136" y="3075.1" font-size="32" text-anchor="end" fill="#000" >-3</text>
<text x="136" y="3028.7" font-size="32" text-anchor="end" fill="#000" >-2</text>
<text x="136" y="2982.3" font-size="32" text-anchor="end" fill="#000" >-1</text>
<text x="136" y="2935.9" font-size="32" text-anchor="end" fill="#000" >0</text>
<text x="136" y="2889.5" font-size="32" text-anchor="end" fill="#000" >1</text>
<text x="136" y="2843.1" font-size="32" text-anchor="end" fill="#000" >2</text>
<text x="0" y="0" font-size="36.5" textLength="263" lengthAdjust="spacingAndGlyphs" transform="translate(80,3120) rotate(-90)">Height a.s.l (km)</text>
<text x="177" y="2819.3" font-size="48" textLength="72" lengthAdjust="spacingAndGlyphs" fill="#000" >SW</text>
<text x="2216" y="2819" font-size="46" textLength="59" lengthAdjust="spacingAndGlyphs" fill="#000" >NE</text>
<text x="204" y="3152.7" font-size="62" fill="#000" >c</text>
<text x="640" y="2818" font-size="38.6" textLength="339" lengthAdjust="spacingAndGlyphs" fill="#000" >Modeled thrust fault</text>
<text x="1177" y="2826.3" font-size="38.6" textLength="297.5" lengthAdjust="spacingAndGlyphs" fill="#000" >Woodroffe Thrust</text>
<text x="727" y="3033.2" font-size="38" textLength="38.5" lengthAdjust="spacingAndGlyphs" fill="#000" >16</text>
<text x="1647" y="3026.8" font-size="38" textLength="40.5" lengthAdjust="spacingAndGlyphs" fill="#000" >13</text>
<path d="M1700.8,3139 V3151.7 H2162.8 V3139 M1930.7,3139 V3151.7" fill="none" stroke="#111" stroke-width="2.6"/>
<text x="1699.5" y="3129.7" font-size="37" text-anchor="middle" fill="#000" >0</text>
<text x="1930.5" y="3129.7" font-size="37" text-anchor="middle" fill="#000" >5</text>
<text x="2146.5" y="3129.7" font-size="37" textLength="101.5" lengthAdjust="spacingAndGlyphs" fill="#000" >10 km</text>
</svg>
</body></html>
